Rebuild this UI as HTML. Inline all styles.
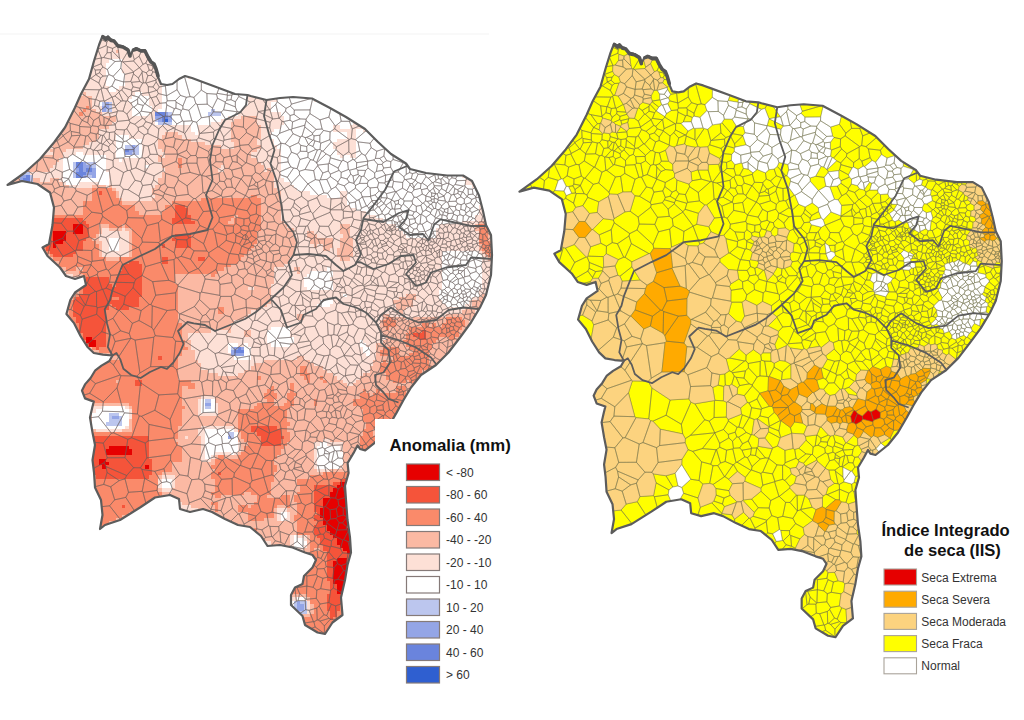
<!DOCTYPE html>
<html lang="pt"><head><meta charset="utf-8"><title>Anomalia e IIS - Nordeste</title><style>
html,body{margin:0;padding:0;background:#fff}
body{width:1024px;height:720px;overflow:hidden;font-family:"Liberation Sans",sans-serif}
svg{display:block}
text{font-family:"Liberation Sans",sans-serif;fill:#222}
.t1{font-size:16.8px;font-weight:bold;fill:#111}
.t2{font-size:16.6px;font-weight:bold;fill:#111}
.lb{font-size:12px;fill:#333}
.sw{stroke:#857a78;stroke-width:1.2}
.sr{stroke:#a9a39a;stroke-width:1.1}
.ol{fill:none;stroke:#5c5c5c;stroke-width:2.2;stroke-linejoin:round}
.tk{fill:none;stroke:#555;stroke-width:3.6;stroke-linejoin:round;stroke-linecap:round}
.sb{fill:none;stroke:#5c5c5c;stroke-width:1.8;stroke-linejoin:round}
.ml{fill:none;stroke:#6a5f5c;stroke-width:.45;stroke-linejoin:round}
.mr{stroke:#70704a;stroke-width:.45;stroke-linejoin:round}
</style></head><body>
<svg width="1024" height="720" viewBox="0 0 1024 720">
<defs><path id="t" d="M103,37 L106,39.5 L108,37.5 L111,40.5 L114,41 L118,46 L123,47 L128,50 L130,56 M133.5,50 L137,49 L141,51 L145,51 L148,57 L151,62 L154,64 L156,69 L158,76"/>
<clipPath id="c"><path d="M7.5,185.0 L25.0,172.5 L40.0,159.0 L54.0,142.5 L65.0,127.5 L75.0,107.5 L81.0,94.0 L89.0,79.0 L94.0,61.0 L99.0,45.0 L102.5,36.0 L106.0,38.0 L108.0,36.5 L110.0,39.0 L113.0,40.0 L117.5,45.0 L122.0,46.0 L127.5,49.0 L130.0,56.0 L133.0,50.0 L136.0,48.0 L140.0,50.0 L145.0,50.0 L147.0,56.0 L150.0,61.0 L153.0,63.0 L156.0,69.0 L158.0,77.0 L161.0,84.0 L167.0,85.0 L172.5,84.0 L179.0,79.0 L185.0,76.0 L192.0,78.0 L200.0,81.0 L217.5,87.5 L235.0,94.0 L247.5,95.0 L250.6,96.0 L266.5,100.0 L280.0,98.0 L293.0,97.0 L312.0,98.5 L330.0,108.0 L346.0,117.0 L365.0,129.0 L378.0,142.0 L391.0,154.0 L406.0,163.5 L410.0,169.0 L426.0,173.0 L447.0,175.5 L463.0,175.5 L472.0,181.0 L479.0,195.5 L483.0,211.0 L486.0,225.0 L491.0,235.0 L492.0,255.0 L491.0,275.0 L486.0,295.0 L480.0,307.5 L471.0,322.5 L460.0,337.5 L448.5,352.5 L436.0,365.0 L421.0,375.0 L411.0,387.5 L403.5,400.0 L396.6,412.6 L387.8,427.7 L377.7,440.3 L365.2,450.4 L360.0,449.0 L357.6,445.3 L353.6,452.9 L347.6,463.0 L348.6,473.0 L345.0,485.6 L346.0,500.0 L347.5,520.0 L350.0,537.5 L351.0,552.5 L347.5,565.0 L345.0,580.0 L341.0,597.5 L342.5,615.0 L332.5,622.5 L325.0,634.0 L317.5,632.5 L305.0,625.0 L302.5,616.0 L291.0,605.0 L291.0,595.0 L295.0,587.5 L302.5,584.0 L304.0,576.0 L312.5,567.5 L316.0,560.0 L312.5,555.0 L305.0,552.5 L292.5,547.5 L280.0,545.0 L267.5,546.0 L261.0,536.0 L250.0,527.0 L238.0,525.0 L225.0,519.0 L212.0,512.0 L203.0,509.0 L190.0,512.0 L180.0,509.0 L179.0,499.0 L170.0,495.0 L155.0,497.5 L140.0,507.5 L120.0,520.0 L105.0,525.0 L100.0,529.0 L102.5,515.0 L101.0,500.0 L95.0,487.5 L94.0,472.5 L92.5,460.0 L95.0,445.0 L92.5,432.5 L90.0,417.5 L92.2,407.8 L93.8,401.6 L85.0,398.4 L82.0,390.6 L85.0,384.4 L90.6,378.0 L95.3,370.3 L101.5,365.6 L109.4,361.0 L112.5,355.5 L103.0,354.7 L93.8,353.0 L87.5,347.0 L80.5,336.0 L74.2,323.4 L66.4,314.0 L70.3,300.0 L75.0,292.5 L86.0,285.0 L84.0,276.0 L75.0,279.0 L66.0,276.0 L60.0,267.5 L47.5,256.0 L42.5,247.5 L49.0,244.0 L52.5,225.0 L54.0,207.5 L50.0,192.5 L37.5,184.0 L22.0,181.0Z"/></clipPath>
<path id="o" d="M7.5,185.0 L25.0,172.5 L40.0,159.0 L54.0,142.5 L65.0,127.5 L75.0,107.5 L81.0,94.0 L89.0,79.0 L94.0,61.0 L99.0,45.0 L102.5,36.0 L106.0,38.0 L108.0,36.5 L110.0,39.0 L113.0,40.0 L117.5,45.0 L122.0,46.0 L127.5,49.0 L130.0,56.0 L133.0,50.0 L136.0,48.0 L140.0,50.0 L145.0,50.0 L147.0,56.0 L150.0,61.0 L153.0,63.0 L156.0,69.0 L158.0,77.0 L161.0,84.0 L167.0,85.0 L172.5,84.0 L179.0,79.0 L185.0,76.0 L192.0,78.0 L200.0,81.0 L217.5,87.5 L235.0,94.0 L247.5,95.0 L250.6,96.0 L266.5,100.0 L280.0,98.0 L293.0,97.0 L312.0,98.5 L330.0,108.0 L346.0,117.0 L365.0,129.0 L378.0,142.0 L391.0,154.0 L406.0,163.5 L410.0,169.0 L426.0,173.0 L447.0,175.5 L463.0,175.5 L472.0,181.0 L479.0,195.5 L483.0,211.0 L486.0,225.0 L491.0,235.0 L492.0,255.0 L491.0,275.0 L486.0,295.0 L480.0,307.5 L471.0,322.5 L460.0,337.5 L448.5,352.5 L436.0,365.0 L421.0,375.0 L411.0,387.5 L403.5,400.0 L396.6,412.6 L387.8,427.7 L377.7,440.3 L365.2,450.4 L360.0,449.0 L357.6,445.3 L353.6,452.9 L347.6,463.0 L348.6,473.0 L345.0,485.6 L346.0,500.0 L347.5,520.0 L350.0,537.5 L351.0,552.5 L347.5,565.0 L345.0,580.0 L341.0,597.5 L342.5,615.0 L332.5,622.5 L325.0,634.0 L317.5,632.5 L305.0,625.0 L302.5,616.0 L291.0,605.0 L291.0,595.0 L295.0,587.5 L302.5,584.0 L304.0,576.0 L312.5,567.5 L316.0,560.0 L312.5,555.0 L305.0,552.5 L292.5,547.5 L280.0,545.0 L267.5,546.0 L261.0,536.0 L250.0,527.0 L238.0,525.0 L225.0,519.0 L212.0,512.0 L203.0,509.0 L190.0,512.0 L180.0,509.0 L179.0,499.0 L170.0,495.0 L155.0,497.5 L140.0,507.5 L120.0,520.0 L105.0,525.0 L100.0,529.0 L102.5,515.0 L101.0,500.0 L95.0,487.5 L94.0,472.5 L92.5,460.0 L95.0,445.0 L92.5,432.5 L90.0,417.5 L92.2,407.8 L93.8,401.6 L85.0,398.4 L82.0,390.6 L85.0,384.4 L90.6,378.0 L95.3,370.3 L101.5,365.6 L109.4,361.0 L112.5,355.5 L103.0,354.7 L93.8,353.0 L87.5,347.0 L80.5,336.0 L74.2,323.4 L66.4,314.0 L70.3,300.0 L75.0,292.5 L86.0,285.0 L84.0,276.0 L75.0,279.0 L66.0,276.0 L60.0,267.5 L47.5,256.0 L42.5,247.5 L49.0,244.0 L52.5,225.0 L54.0,207.5 L50.0,192.5 L37.5,184.0 L22.0,181.0Z"/>
<path id="b" d="M247.5,95.0 L246.0,105.0 L240.0,112.5 L225.0,120.0 L219.0,130.0 L212.5,145.0 L210.0,160.0 L212.5,180.0 L206.0,195.0 L212.5,217.5 L207.5,230.0 L190.0,234.0 L172.5,236.0 L155.0,249.0 L140.0,256.0 L122.5,265.0 L117.5,277.5 L112.5,290.0 L110.0,300.0 L104.7,309.4 L107.0,323.4 L110.0,334.4 L107.8,347.0 L112.5,355.5 M112.5,355.5 L116.4,353.0 L120.3,359.4 L123.4,368.8 L131.2,375.0 L140.6,378.0 L150.0,372.0 L161.0,367.0 L167.0,368.8 L173.4,362.5 L179.7,353.0 L183.6,343.8 L178.0,331.0 L187.5,322.0 L193.8,323.4 L205.0,325.0 L215.0,331.0 L230.0,325.0 L245.0,319.0 L256.0,312.0 L271.0,299.0 L283.5,287.5 L292.0,275.0 L288.5,262.5 L293.5,255.0 M266.5,100.0 L264.0,116.0 L269.0,134.0 L274.5,150.0 L270.5,163.6 L277.0,182.0 L281.0,203.0 L283.5,220.0 L293.5,232.5 L297.0,242.5 L293.5,255.0 M293.5,255.0 L308.5,254.0 L326.0,256.0 L336.0,265.0 L343.5,271.0 L355.0,265.0 L361.0,254.0 L356.0,240.0 L361.0,230.0 L363.5,218.0 L373.0,206.0 L385.0,190.0 L394.0,171.5 L407.0,166.0 M363.5,219.0 L383.4,222.0 L399.0,213.0 L408.6,210.0 L406.0,219.0 L399.0,227.0 L410.0,235.0 L423.0,234.0 L428.6,240.6 L434.0,224.7 L440.5,219.4 L452.5,222.0 L471.0,226.0 L486.0,226.0 M357.0,262.0 L361.0,262.5 L373.5,269.0 L388.5,264.0 L401.0,256.0 L413.5,255.0 L416.0,262.5 L406.0,274.0 L416.0,286.0 L426.0,282.5 L431.0,272.5 L446.0,267.5 L466.0,265.0 L471.0,257.5 L492.0,259.0 M271.0,299.0 L281.0,310.0 L287.0,327.5 L301.0,322.5 L303.5,315.0 L316.0,309.0 L323.5,300.0 L336.0,297.5 L343.5,304.0 L356.0,307.5 L366.0,312.5 L376.0,322.5 L381.0,315.0 L391.0,307.5 L406.0,317.5 L418.5,322.5 L436.0,320.0 L448.5,310.0 L463.5,307.5 L478.5,309.0 M376.0,322.5 L381.0,332.5 L381.0,342.5 L388.5,350.0 L390.0,362.5 L383.5,372.5 L375.0,375.0 L376.0,385.0 L383.5,392.5 L388.5,399.0 L398.5,402.5 M381.0,335.0 L398.5,340.0 L416.0,347.5 L431.0,357.5 L436.0,364.0"/>
<path id="k0" d="M106.8,42.2l-102.6-50l-64.2-52.2l0,0l746.2,0l-357,0l-136.4,0l-42.7,52.9zM106.3,45.6l-8.6,3.7l-93.5-57.1l102.6,50zM112.6,48.4l-5.2-1.7l-1.1-1.1l.5-3.4l43.3-49.3l-2,4.3l-30.4,48.6zM107.1,52.8l.3-6.1l-1.1-1.1l-8.6,3.7l3.7,8.6l2.3-.4zM119.5,58.4l1,2.8l1,.4l.3,0l8.9-14.8l17.4-49.6l-30.4,48.6zM97.7,49.3l3.7,8.6l0,.1l-28,4.9l-80-3.4l-53.4-66.7l0-21.8l0-31l0,0l64.2,52.2zM122.9,61.9l-1.1-.3l8.9-14.8l3.6,12.8l-.7,1.4zM145.7,63.2l-2.7,1.1l-3.9-8.1l53.7-116.2l136.4,0l-1.5,0l-140.3,35.1zM93,67l-19.6-4.1l28-4.9l-.3,5.8zM147.4,64.4l4.6,1l35.4-90.3l-41.7,88.1zM152,65.4l.1,.1l32.7-8.3l17.1-26.6l60-90.6l13.5,0l22.5,0l29.8,0l-140.3,35.1zM177.6,67.9l-4.6,1.5l-20-1.5l-.9-2.4l32.7-8.3l-3.9,6.6zM147.4,64.4l1.8,5.8l2.6,.1l1.2-2.4l-.9-2.4l-.1-.1zM95.2,70.1l-2.2-3.1l8.1-3.2l1.8,3.2l-2.3,2.7zM151.8,70.3l1.2-2.4l20,1.5l-8.8,4l-11.4-1.5zM95.8,74.6l-.6-4.5l-2.2-3.1l-19.6-4.1l-80-3.4l11.1,6.6l23,10.6l.1,.1l23.2,4.1l40-2.5l5-3.8zM95.8,74.6l-.6-4.5l5.4-.4l-1.1,3.1zM103.2,76.1l4.3-.3l1.5-1.2l-1.6-5.1l-4.5-2.5l-2.3,2.7l-1.1,3.1zM152.8,71.9l11.4,1.5l-8.2,6.2l-4.7-4.3zM95.8,74.6l3.7-1.8l3.7,3.3l-2.6,1.8l-4.8-3.3zM95.8,74.6l-5,3.8l8,4.6l1.8-5.1zM103.2,76.1l4.3-.3l-4.2,12.1l-1.5,.3l-3-5.2l1.8-5.1zM156.2,82l3.1,5l6.1-1.1l11.5-15.7l.7-2.3l-4.6,1.5l-8.8,4l-8.2,6.2l-.2,.5zM101.8,88.2l-.7,.7l-1.8,.9l-23.6-.4l-24.9-8.5l40-2.5l8,4.6zM180.9,63.8l3.9-6.6l17.1-26.6l-.6,59.5l-7.4,7.3l-3.8-.8zM139.8,90.3l1.1,3.5l7.6-1.3l-.2-5.8l-2.2-3.6l-.5-.3l-2.2,.1l-.8,.2l-2.8,5.2zM157.1,90.5l1.2,3l8.1,2.1l-1-9.7l-6.1,1.1zM177.1,89.7l-.2-19.5l-11.5,15.7l1,9.7l.2,.2zM180.4,95.4l-3.3-5.7l-.2-19.5l.7-2.3l3.3-4.1l9.2,32.8l-3.7,.7zM227.7,90.2l-3.1-17.8l37.3-132.4l13.5,0l-37.8,152.9l-5.1,1.7zM271.3,63.6l-12.5,30.1l-4.7,7.4l-3.6,1.1l-11.7-5.7l-1.2-3.6l37.8-152.9l22.5,0l-24.7,113zM227.2,95l-10.1-1.7l7.5-20.9l3.1,17.8zM95.3,99.5l-6.3-1l-13.3-9.1l23.6,.4l-3.5,9.6zM175.4,100.6l-8.2,.2l-.6-5l10.5-6.1l3.3,5.7zM104,100.8l-2.9-11.9l.7-.7l1.5-.3l3.4,.8l5.1,8.4l-7.2,4zM140.7,94.4l6.7,5.5l3.1-2.3l-1.7-4.8l-.3-.3l-7.6,1.3zM104,100.8l-2.9-11.9l-1.8,.9l-3.5,9.6l4.1,1.8zM159.9,103.3l6.3-.6l1-1.9l-.6-5l-.2-.2l-8.1-2.1l-1.9,2.9zM138.7,97.1l6.2,6.7l.2,0l2.3-3.9l-6.7-5.5zM273.2,53l24.7-113l29.8,0l1.5,0l357,0l73.8,0l-422.7,110.7l-24.5,47.3l-21.3,6.1zM138.5,97.1l-.9,2l-6.8,4.1l-3.5-2.6l.9-3.1l3.2-2.4zM137.6,99.1l.1,4.9l-3.7,3.1l-.9-.2l-2.3-3.7zM138.5,97.1l-.9,2l.1,4.9l5.5,1.4l1.7-1.6l-6.2-6.7zM104.6,101.1l7.2-4l.3,.1l2.4,7.7l-9.1-.6zM182.9,106l3.5-8.7l-6-1.9l-5,5.2l.7,1.5zM95.3,99.5l-6.3-1l1.4,10.6l4-3.6zM182.9,106l-6.8-3.9l-.2,6.1l5.4,2.1l1.6-1.3zM90.4,109.1l-.1,.4l-11-2l-11.8-4.8l-39.9-25.9l23.2,4.1l24.9,8.5l13.3,9.1zM99.9,101.2l-4.1-1.8l-.5,.1l-.9,6l4.3,1.2zM104,100.8l-4.1,.4l-1.2,5.5l1.9,3.5l4.6-3.6l.2-2.3l-.8-3.2zM105.4,104.3l9.1,.6l.9,1.4l.1,.8l-7,2.1l-3.3-2.6zM100.6,110.2l-1,3.3l-8.5-2.6l-.8-1.4l.1-.4l4-3.6l4.3,1.2zM127.3,100.6l-1.1,.6l-3.2,10l3.9,2.8l6.2-7.1l-2.3-3.7zM139.6,112.4l-5.6-5.3l3.7-3.1l5.5,1.4l-2,5.8zM176.1,102.1l-.7-1.5l-8.2,.2l-1,1.9l.6,2.2l7.6,3.8l1.5-.5zM182.9,106l3.5-8.7l3.7-.7l3.8,.8l1.9,6l-6.9,6.9l-6-1.3zM150.9,112.6l-9.7-1.4l2-5.8l1.7-1.6l.2,0l8.4,5.6l0,.6l-2.2,2.5zM165.2,116.1l-.8,.6l-.7-.2l-10.2-6.5l0-.6l1.6-3l4.8-3.1l6.3-.6l.6,2.2zM269.6,109.6l-11.3,2l-.1,0l-4.1-10.5l4.7-7.4zM310.1,109.9l2.7-11.9l-21.3,6.1l-1.2,2l4,3.9zM172.1,114.9l2.3-6.2l-7.6-3.8l-1.6,11.2l4.7,.2zM100.6,110.2l-1,3.3l.6,1.3l1.7,.5l6.2-2.8l.4-3.3l-3.3-2.6zM117.3,111.6l-7.9,1.8l-1.3-.9l.4-3.3l7-2.1l2.3,3.7zM129.1,119.9l-2.2-5.9l6.2-7.1l.9,.2l5.6,5.3l0,.1zM181.3,110.3l-1.1,4.4l-8.1,.2l2.3-6.2l1.5-.5zM341.2,121.3l-5.9-31.7l2-38.9l422.7-110.7l0,0l-132.4,0l-278.2,181.3zM89.2,116l1.9-5.1l-.8-1.4l-11-2l6.6,9.2l2.8-.5zM117.3,111.6l-7.9,1.8l.9,3.9l5.9-1.9zM150.9,112.6l-9.7-1.4l-1.6,1.2l0,.1l2.8,5.8l2.1,.9zM109,119.3l1.3-2l-.9-3.9l-1.3-.9l-6.2,2.8l2.1,1.9zM272.6,119l-2.4,3.3l-13.9-3.7l1.9-7l.1,0l14.2,7.1zM85.9,116.7l-6.6-9.2l-11.8-4.8l14.5,17.6l0,0zM335.4,126.1l-6.5-9l6.4-27.5l5.9,31.7zM129.1,119.9l-2.2-5.9l-3.9-2.8l-5.2-.4l-.5,.8l-1.1,3.8l1.3,6l11.6-1.2zM129.1,119.9l10.5-7.4l2.8,5.8l-7.7,6l-4.6-1.8l-1-2.3zM152,123.6l-6.2-1.9l-1.3-2.5l6.4-6.6l.4-.1l1.5,9.1zM152.8,121.6l10.9-5.1l-10.2-6.5l-2.2,2.5zM87.7,122.8l-5.7-2.5l3.9-3.6l2.8-.5zM220.4,126.4l5.1-7.3l-4.4-7.1l-7.8-.2l-2.4,3.8l9.4,10.9zM70.1,123.3l-42.6-46.6l.1,.1l39.9,25.9l14.5,17.6l-2.7,5.4zM152,123.6l.1,.3l6.7,5l3.8-3.3l1.7-2.7l.1-6.2l-.7-.2l-10.9,5.1zM323.5,130.4l-1.4-1.4l-2.1-9.1l8.9-2.8l6.5,9l-.7,2.7l-4.6,3.1zM145.8,121.7l-2.8,4.2l-4.9,1.6l-3.4-3.2l7.7-6l2.1,.9zM169.9,116.3l7,7.6l-2.1,4.1l-.8-.1l-9.7-5l.1-6.2l.8-.6zM87.7,122.8l-5.7-2.5l0,0l-2.7,5.4l.4,.8l11,.7l.4-.6zM382.6,116.4l-30.3,12.5l-2.9-7.6l278.2-181.3l-160.3,87.9l-49.6,62.1l-15.1,13.2zM109.2,119.7l6.2,4.5l-.1,.6l-10,.9zM129.1,120.2l-11.6,1.2l-2.1,2.8l-.1,.6l.8,4.7l8.4,.4l2.3-1.1l3.3-6.3zM232,128.5l2.1-2.8l-1.6-6.3l-7-.3l-5.1,7.3zM116.1,129.5l-.8-4.7l-10,.9l-.2,.2l1.4,5.9l3,.7l5.1-.7zM152,123.6l.1,.3l-4.2,6.1l-4.9-4.1l2.8-4.2zM201.4,117.8l7.8-1.3l.7,9.3l-9.5,7.6l-.7,.2l-3.1-11.4zM219.4,128.7l-4.6,1.8l-4.9-4.7l-.7-9.3l1.7-.9l9.4,10.9zM351.3,138.6l-2.1,.9l-14.5-10.7l.7-2.7l5.8-4.8l8.2,0l2.9,7.6zM213.5,132.1l-13.1,1.3l9.5-7.6l4.9,4.7zM382.6,116.4l-30.3,12.5l-1,9.7l4.3,1.1zM79.7,126.5l11,.7l-.4,5.5l-2.3,2.9l-2.2,.4l-5.2-1.1l-.9-1.9zM175.1,129l-.3-1l2.1-4.1l5.6-3l1.3,.4l0,11.4zM100.7,124.9l3.3,.5l1.1,.5l1.4,5.9l-.2,.1l-7.5-2.3l-.8-3zM143,125.9l-4.9,1.6l.4,3.3l5.8,4.1l3.5-1.4l.1-3.5zM147.9,130l-.1,3.5l10.1,4.6l.9-9.2l-6.7-5zM167.5,130.9l6.5-3l-9.7-5l-1.7,2.7zM191.9,120.8l-8.1,.5l0,11.4l.9,1l8.4-12.3zM188.9,140.4l-2-.8l-2.2-5.9l8.4-12.3l3.5,.8l3.1,11.4l-1.2,4.2l-1.9,2.1zM71.2,131.4l8.5,1.6l0-6.5l-.4-.8l-9.2-2.4l.3,7.3zM98,126.6l.8,3l-1.1,4l-1.5,.4l-5.9-1.3l.4-5.5l.4-.6l1.2-.9zM100.9,135.2l-3.2-1.6l1.1-4l7.5,2.3l-2.8,3.2l-.7,.3zM157.9,138.1l.9-9.2l3.8-3.3l4.9,5.3l-2.1,7.8l-2.6,1.5l-4.6-1.5zM70.4,130.6l-.3-7.3l-42.6-46.6l-23-10.6l5.9,7.5l52.7,61.9zM165.4,138.7l8-1.7l1.7-8l-.3-1l-.8-.1l-6.5,3zM232,128.5l-11.6-2.1l-.1,.1l-.9,2.2l4.2,8.2l8.4-8.3zM130.1,122.5l-3.3,6.3l5.4,8.1l.9,.1l5.4-6.2l-.4-3.3l-3.4-3.2zM71.6,135.8l-.4-4.4l-.8-.8l-7.3,4.9l.1,.3l4.7,6.2l.6,.2zM186.9,139.6l-2.2-5.9l-.9-1l-8.7-3.7l-1.7,8l2,1.7l8.8,1.7zM232,128.6l3.2,9.3l-11.2,2.3l-.4-3.3zM71.6,135.8l-.4-4.4l8.5,1.6l.9,1.9l-.4,.4zM71.6,135.8l8.6-.5l-6.3,11.4l-5.4-4.5zM115,133.1l-.4-1.3l1.5-2.3l8.4,.4l-1.5,9.5zM123.7,141.5l2.6-.4l5.9-4.2l-5.4-8.1l-2.3,1.1l-1.5,9.5zM144.3,134.9l-2.9,8.8l-2.1,.1l-6.2-6.8l5.4-6.2zM213.8,138.4l-3.8,3.1l-11.5-3.7l1.2-4.2l.7-.2l13.1-1.3zM223.6,136.9l.4,3.3l-.5,1l-9.7-2.8l-.3-6.3l1.3-1.6l4.6-1.8zM382.6,116.4l-27,23.3l2.4,2.2l12.1,1.4l32.5-40.1zM96.4,140.9l-.2-6.9l-5.9-1.3l-2.3,2.9l4.2,5.9zM96.9,141l-.5-.1l-.2-6.9l1.5-.4l3.2,1.6zM63.2,135.8l-6.1,5.3l-1.8-.6l-44.9-66.9l52.7,61.9zM100,143.2l-3.1-2.2l4-5.8l1.9,.2l-1.6,7.9zM109.2,139l.3-6.5l-3-.7l-.2,.1l-2.8,3.2l3.1,5zM115,133.1l-.4-1.3l-5.1,.7l-.3,6.5l3.9,2.4l1.2-1.1zM115,133.1l8,6.3l.7,2.1l-.6,.8l-8.8-2zM144.3,134.9l-2.9,8.8l2.6,1.7l4.1,.6l6.2-2.7l3.9-4.6l-.3-.6l-10.1-4.6zM319.8,142.1l.1-6.9l3.6-4.8l6.6,1.5l-.3,7.8l-9.1,3.5zM329.8,139.7l1.4,2.3l5.3,4.8l12.2-6.7l.5-.6l-14.5-10.7l-4.6,3.1zM101.2,143.3l1.1,.7l.6,0l3.6-3.8l.1-.1l-3.1-5l-.7,.3zM50.3,146.1l5-5.6l-44.9-66.9l-5.9-7.5l-11.1-6.6l-53.4-66.7l89.9,150.6zM67.9,142l-8.4,4.5l-2.4-5.4l6.1-5.3zM80.2,135.3l.4-.4l5.2,1.1l-1.9,10.9l-9.9,.3l-.1-.5zM112.6,143l-2.3,1.6l-3.8-4.4l.1-.1l2.6-1.1l3.9,2.4zM92.2,141.5l-4.2-5.9l-2.2,.4l-1.9,10.9l4,2l2.4-.4zM110.3,144.6l-1.7,2.1l-5.7-2.7l3.6-3.8zM139.3,143.8l-5.1,4.6l-7.9-7.3l5.9-4.2l.9,.1zM220.8,147.5l-8.7-.8l-2.1-5.2l3.8-3.1l9.7,2.8l-.2,3.4zM59.5,146.5l-.4,.6l-4.9,1.3l-3.9-2.3l5-5.6l1.8,.6zM114.3,140.3l-1.2,1.1l-.5,1.6l5.4,6l3.8-1.6l1.3-5.1zM100,143.2l-6.1,6.9l-.8,.1l-2.8-1.7l1.9-7l4.2-.6l.5,.1zM320.7,143.2l-.7,6.2l1.6,1.3l1.4,.6l8.2-9.3l-1.4-2.3zM112.6,143l5.4,6l-4,4.7l-4.9-3.8l-.5-3.2l1.7-2.1zM123.7,141.5l2.6-.4l7.9,7.3l-.5,1.1l-9.5,.3l-2.4-2.4l1.3-5.1zM330.2,156.1l-4.1-2.2l-3.1-2.6l8.2-9.3l5.3,4.8l-.6,2.9zM376.8,151.2l7.9-2.5l8.3-8.4l24.7-50.3l-15.1,13.2l-32.5,40.1l1.1,4.4zM67.3,157.9l5.3-3.8l1.4-6.9l-.1-.5l-5.4-4.5l-.6-.2l-8.4,4.5l-.4,.6l5.3,10.5zM100,143.2l-6.1,6.9l3.4,.6l4.3-1.1l.7-5.6l-1.1-.7zM208.6,151.6l3.5-4.9l-2.1-5.2l-11.5-3.7l-1.9,2.1l1.7,6.4zM108.6,146.7l.5,3.2l-5.1,2.1l-2.4-2.4l.7-5.6l.6,0zM371.2,147.7l-1.1-4.4l-12.1-1.4l1.8,8.9l2,2.9l3.5,1.8zM42.4,157.1l-3.9-1.7l-8.6-12l20.4,2.7l3.9,2.3l-1.1,9.7zM64.4,157.6l-5.3-10.5l-4.9,1.3l-1.1,9.7l3.8,2.2zM141.4,143.7l2.6,1.7l-2.1,12.3l-2.7,.9l-5-4.6l-.5-4.5l.5-1.1l5.1-4.6zM148.1,146l2,8.3l7.3,.1l-3.1-11.1zM220.4,153.4l.4-5.9l-8.7-.8l-3.5,4.9l.6,3.2l6.3,.8zM82.3,160.3l-9.7-6.2l1.4-6.9l9.9-.3l4,2l-4.8,11.5zM101.6,149.6l-4.3,1.1l4.5,7.6l1.1-.5l1.1-5.8zM144.5,158.2l-2.6-.5l2.1-12.3l4.1,.6l2,8.3l-2.1,2.7zM348.9,151.7l-.2-11.6l-12.2,6.7l-.6,2.9l7.3,6zM83.1,160.4l4.8-11.5l2.4-.4l2.8,1.7l1.2,13.4l-3.9,1.8zM93.1,150.2l1.2,13.4l.9,0l6.6-5.3l-4.5-7.6l-3.4-.6zM104,152l-1.1,5.8l10.1,2.7l1.2-2.1l-.2-4.7l-4.9-3.8zM124.2,149.8l.8,6.6l-1.4,1.5l-9.4,.5l-.2-4.7l4-4.7l3.8-1.6zM124.2,149.8l.8,6.6l4.4,.2l4.8-2.6l-.5-4.5zM348.9,151.7l-.2-11.6l.5-.6l2.1-.9l4.3,1.1l2.4,2.2l1.8,8.9l-8.4,3.5zM361.8,153.7l-2-2.9l-8.4,3.5l1.5,5.1l1.4,.5zM393.1,159.5l10.2,3.2l1.4-.7l16.4-18.3l20.4-32.5l20.2-64.1l5.6-19.2l-49.6,62.1l-24.7,50.3zM348.9,151.7l-5.7,4l-.1,4.6l4.5,2.3l5.3-3.2l-1.5-5.1zM154.3,162.8l7.4,.8l-.2-6.1l-4.1-3.1l-7.3-.1l-2.1,2.7zM330.4,157.8l-.2-1.7l5.7-6.4l7.3,6l-.1,4.6l-1.4,.8zM131.7,169.3l-2.3-12.7l4.8-2.6l5,4.6l-3.4,9.2zM330.4,157.8l-.2-1.7l-4.1-2.2l-9.4,9l1.2,2.2l10.4-1.2l.7-.7zM130.1,170.3l-2.6,.3l-3.9-12.7l1.4-1.5l4.4,.2l2.3,12.7zM215.5,155.6l-6.3-.8l-1.5,2.7l1.7,7.6l2.9-.2l3.6-3.2zM220.4,153.4l3.5,4.3l-.9,4.2l-7.1-.2l-.4-6.1zM207.7,157.5l1.7,7.6l-7.7,10.2l-1.3-.4l-3.4-11.7l.3-5.4zM223.9,157.7l6.3-1.6l1,.6l1.3,4.8l-3.7,7l-4-.1l-1.8-6.5zM123.6,157.9l-9.4,.5l-1.2,2.1l.3,6.2l10.3,5.8l3.9-1.9zM277.2,157.6l-9.1-2l-1.6,4l8.6,9.4l1.2,0l1.7-5.8zM145.5,160.4l4.2,4.4l4.6-2l-6.3-5.8l-3.5,1.2zM103.9,170.2l-8.7-6.6l6.6-5.3l1.1-.5l10.1,2.7l.3,6.2l-4.2,2.9zM199.4,175l1-.1l-3.4-11.7l-10.1,0l3.2,9.2zM223,161.9l1.8,6.5l-1.9,1.9l-1.1,.4l-9.5-5.8l3.6-3.2zM232.5,161.5l4.7,.8l4.9,3.8l-.7,1.5l-9.7,2.5l-2.9-1.6zM330.4,157.8l11.3,3.3l-3.6,7l-9.1-4.9zM144.9,172l.6-11.6l-1-2.2l-2.6-.5l-2.7,.9l-3.4,9.2zM145.2,172.2l4.5-7.4l-4.2-4.4l-.6,11.6zM36.4,170.7l-3.8,3.2l-29.3-19l-63.3-183.9l0,21.8l89.9,150.6l8.6,12zM50.9,172.4l-1.4,0l-7.1-15.3l10.7,1l3.8,2.2l-1.5,8.8zM69.7,169.4l-2.4-11.5l5.3-3.8l9.7,6.2l-8.9,11.2l-1.1-.2zM317.6,165.8l-3.9,4.9l-8.7-1.2l5.5-9.9l2.7,.6l3.3,2.4l.2,.3l1.2,2.2zM145.4,172.4l8.6,3.4l9.2-5.2l.2-3.8l-1.7-3.2l-7.4-.8l-4.6,2l-4.5,7.4zM190.1,172.4l-3.2-9.2l-.2-.2l-6.9,2.2l.9,8.9zM263.3,162.2l3.2-2.6l8.6,9.4l-4.3,2l-5.2-1.9zM49.5,172.4l-7.1-15.3l-3.9-1.7l-2.1,15.3l10.1,3zM55.4,169.1l1.5-8.8l7.5-2.7l2.9,.3l2.4,11.5l-7.4,2.8zM82.3,160.3l-8.9,11.2l8.3,6.1l5.4-1.3l3.3-10.9l-7.3-5zM263.3,162.2l2.3,6.9l-5.9,5.1l-4.2-1.8l-.9-6.3l3.5-3.1zM409.8,169.5l-3.6-4.4l-1.5-3.1l16.4-18.3l-5.6,24.4zM416.2,172.5l-.7-4.4l5.6-24.4l20.4-32.5l-2.6,24.8l-13.9,38.5l-6.9-.3zM212.3,164.9l9.5,5.8l-2.7,2.8l-13.2,2.9l-4.1-.9l-.1-.2l7.7-10.2zM329,163.2l-.7,.7l0,7.1l2.1,3.1l8.6-3.7l-.9-2.3zM406.3,174.3l-.1-9.2l-1.5-3.1l-1.4,.7l-5.2,9.3l5.7,4.7zM409.6,172.6l-3.3,1.7l-.1-9.2l3.6,4.4zM416.2,172.5l-.7-4.4l-5.7,1.4l-.2,3.1l2.9,1zM243.6,175.6l-2.2-8l.7-1.5l3.7-3.1l.6-.3l8.2,3.4l.9,6.3l-3.6,3.5zM266.3,180.5l4.5-9.5l-5.2-1.9l-5.9,5.1l4,4.9zM90.4,165.4l3.9-1.8l.9,0l8.7,6.6l-6.5,15.4l-10.3-9.3zM448.3,173.2l-7.7-13.4l-1.7-23.8l2.6-24.8l20.2-64.1l-8,124.1l-.7,2.3l-1.2,1.6zM241.2,179l-.2,0l-7.7-2.6l-1.6-6.3l9.7-2.5l2.2,8zM453,173.5l.7-2.3l4,4.4l-.7,.6zM457.7,175.6l15.8-7.9l286.5-227.7l0,0l0,0l-132.4,0l-160.3,87.9l-5.6,19.2l-8,124.1zM30.3,194.2l2.3-20.3l-29.3-19l26.4,40.4zM308,183.8l7.4-4.2l-1.7-8.9l-8.7-1.2l-5.7,1.8l.3,3.3l8.2,9.3zM341.2,172.3l-.2,5l-3.1,4.6l-7.5-5.3l0-2.5l8.6-3.7zM440.5,160.9l-2.9,9.6l-2.8,4.3l-6.4,3.4l-2.5-1.4l-.9-2.3l13.9-38.5l1.7,23.8zM448.3,173.2l-.8,4.8l1.7,2l2.7-2.2l-.1-2.7zM98.2,187.5l7.9,.3l5.3-2.3l-2.3-15.9l-5.2,.6l-6.5,15.4zM119.9,185.3l3.7-12.8l-10.3-5.8l-4.2,2.9l2.3,15.9zM266.3,180.6l5.9,1.3l5.9-1l1.8-6.3l-.4-2.6l-3.2-3l-1.2,0l-4.3,2l-4.5,9.5zM448.3,173.2l-7.7-13.4l-.1,1.1l3,15.5l4,1.6zM451.8,175.1l1.2-1.6l4,2.7l-1.3,2.3l-3.8-.7zM46.5,173.7l-10.1-3l-3.8,3.2l-2.3,20.3l12.8-10.3zM61.2,179.1l.9-1.7l.2-5.2l-6.9-3.1l-4.5,3.3l3.5,7.3l2.4,.2zM224.8,168.4l-1.9,1.9l3.6,8.4l4.4,.4l2.4-2.7l-1.6-6.3l-2.9-1.6zM416.2,172.5l-3.7,1.1l-1.2,4.9l4,1.8l2.8-6.1zM434.8,174.8l-6.4,3.4l3.9,4.3l.7,.2l1.7-1l1.2-1.5zM437.6,170.5l.9,8.2l-2.6,1.5l-1.1-5.4zM440.5,160.9l-2.9,9.6l.9,8.2l2.4,.5l1.2-.8l1.4-2zM62.3,172.2l7.4-2.8l2.6,1.9l-3.6,7.4l-6.6-1.3zM145.4,172.4l-4.5,9.3l-5.8-1.4l-5-10l1.6-1l4.1-1.5l9.1,4.2l.3,.2zM205.9,176.4l10.5,7.6l.5,0l2.8-2.8l-.6-7.7zM361.5,176.5l-2,6.9l-4,2.1l-1.5-2.1l.1-.8l5.1-7zM61.2,179.1l.9-1.7l6.6,1.3l0,.3l-5.5,3.9zM68.7,179l3.8,8.1l2.8,1.2l6.4-10.7l-8.3-6.1l-1.1-.2l-3.6,7.4zM199.4,175l-12.3,10.8l-8.7-5.8l-.6-2.6l2.9-3.3l9.4-1.7zM221.8,170.7l1.1-.4l3.6,8.4l-2.2,2.9l-4.6-.4l-.6-7.7zM418.1,174.2l6.9,.3l.9,2.3l-3.7,6.1l-1.2,.8l-3.3-1.3l-2.4-2.1l0,0zM447.5,178l-4-1.6l-1.4,2l4.7,5l1.8-.1l.6-3.3zM63.8,186.4l.7,.5l8,.2l-3.8-8.1l-5.5,3.9zM235.1,188.8l5.9-9.8l-7.7-2.6l-2.4,2.7l1.4,8.2zM442.1,178.4l-1.2,.8l.4,4.4l.8,1.4l4.7-1.6zM130.1,170.3l-2.6,.3l-3.9,1.9l-3.7,12.8l3.5,3.9l4.7,.5l7-9.4zM151.4,184.3l-8.8,1.2l-1.7-3.8l4.5-9.3l8.6,3.4l-.5,4.1zM232.3,187.3l-1.4-8.2l-4.4-.4l-2.2,2.9l2.5,5.7zM249,186.4l-.6,.8l-7.2-8.2l2.4-3.4l8.3,.3l.2,1.6zM252.1,177.5l-.2-1.6l3.6-3.5l4.2,1.8l4,4.9l-6.3,3.4l-1.6-.4zM326.8,179.4l3.6-2.8l7.5,5.3l0,1.7l-2.2,3.2l-4.4,2.4zM349.2,182.2l-5,3.6l-6.3-2.2l0-1.7l3.1-4.6l6.1,1.7zM440.9,179.2l-2.4-.5l-2.6,1.5l-1.2,1.5l6.6,1.9zM26.1,213.1l-4.5,6.4l-81.6,328l0,212.5l0-820l0,0l0,31l63.3,183.9l26.4,40.4l-2.3,14.5zM319.3,180.3l4.6,12.5l3.7,.5l3.7-4.1l-4.5-9.8l-6.5,.4zM61.2,179.1l2,3.8l.6,3.5l-3.9,.3l-3.1-6.8zM140.9,181.7l1.7,3.8l-3.7,10.7l-10.8-6.5l7-9.4zM249,186.4l3.1-8.9l3.7,4.6l-1.9,2.7zM153.5,179.9l.5-4.1l9.2-5.2l2.5,2.7l-.7,10.3l-4.1,1.9zM178.4,180l-4.2,8l-6.5-.8l-2.7-3.6l.7-10.3l12.1,4.1zM226.8,187.3l-2.5-5.7l-4.6-.4l-2.8,2.8l5.8,6.4zM248.4,187.2l-.2,2.4l-2.7,5.9l-.1,.1l-9.3-4.7l-1-2.1l5.9-9.8l.2,0zM253.9,184.8l4.1,2.6l-.6-4.9l-1.6-.4zM266.3,180.6l-1.2,4l-6.5,3.9l-.6-1.1l-.6-4.9l6.3-3.4l2.6,1.4zM441.3,183.6l-6.6-1.9l-1.7,1l1.2,3l7.5,.2l.4-.9zM151.4,184.3l2.6,6.6l4.8-1.3l2.1-4.1l-7.4-5.6zM201.8,175.5l1.2,17l.8,.2l8.2-2.1l4.4-6.6l-10.5-7.6zM249,186.4l-.6,.8l-.2,2.4l10.2-.8l.2-.3l-.6-1.1l-4.1-2.6zM354,183.4l1.5,2.1l-.1,2.7l-6.5,4.7l-.7,.2l-4-7.3l5-3.6zM432.3,182.5l-3.9-4.3l-2.5-1.4l-3.7,6.1l5.3,3.6zM201.7,175.3l-1.3-.4l-1,.1l-12.3,10.8l1.2,8.6l5.4,4.1l1.8,0l7.5-6l-1.2-17zM355.5,185.5l-.1,2.7l5.5,4.6l7-6.7l-.6-2.7l-7.8,0zM87.2,195.3l9.6-5.4l1.4-2.4l-.8-1.9l-10.3-9.3l-5.4,1.3l-6.4,10.7l.8,2.5zM187.1,185.8l1.2,8.6l-11.8,1.4l-2.3-7.8l4.2-8zM266.3,180.6l5.9,1.3l.3,12.2l-4.1,.9l-3.3-10.4zM272.5,194.1l2.5,.2l8.7-5.8l-5.6-7.6l-5.9,1zM427.3,188.4l.2-1.9l-5.3-3.6l-1.2,.8l-.6,4.6l1.1,1.4zM429.4,191.2l.2,0l3.8-3l.8-1.5l0-1l-1.2-3l-.7-.2l-4.8,4l-.2,1.9zM441.7,188.8l0-2.9l-7.5-.2l0,1l5.1,4zM446.8,183.4l-4.7,1.6l-.4,.9l0,2.9l4.3,2.4l2.9-7.5l-.3-.4zM52.3,184.3l2.2,4.7l-.6,2.7l-26.5,18.1l2.3-14.5l.6-1.1l12.8-10.3zM151.4,184.3l-8.8,1.2l-3.7,10.7l.9,2l11.3-2l2-3l.9-2.3zM158.8,189.6l5.5,3.3l3.4-5.7l-2.7-3.6l-4.1,1.9zM221.3,195.5l-.4,0l-8.9-4.9l4.4-6.6l.5,0l5.8,6.4zM258.6,188.5l-.2,.3l1.3,5.5l5.9,3.4l2.8-2.7l-3.3-10.4zM344.8,196.6l3.4-3.5l-4-7.3l-6.3-2.2l-2.2,3.2l8.1,10zM446,191.2l2.9-7.5l4.4,2.3l0,.4l-4.8,6.3l-1.9-.3zM63.8,186.4l.7,.5l-2.7,9.7l-7.9-4.9l.6-2.7l5.4-2.3zM245.5,195.5l2.7-5.9l10.2-.8l1.3,5.5l-11,3.4zM370.4,196.5l-8,.4l-.1,0l-1.4-4.1l7-6.7l2.2,1.8l.5,8.3zM379.1,191l-1.6-3.7l-7.4,.6l.5,8.3l4.5-1.3zM429.4,191.2l-3.6,4.5l-3.5-1.6l-.8-4.4l5.8-1.3zM438.8,192.5l-1.6,1.3l-1.5,0l-2.3-5.6l.8-1.5l5.1,4zM64.5,186.9l-2.7,9.7l2.2,4.4l7.1-1.8l5-8.4l-.8-2.5l-2.8-1.2zM167.7,187.2l6.5,.8l2.3,7.8l-.8,1l-11.3-3.2l-.1-.7zM435.7,193.8l0,0l-2.3-5.6l-3.8,3l2,1.6zM453.7,194.5l1.1-5.8l-1.5-2.3l-4.8,6.3l2.8,2.2zM231.7,195.9l4.4-5l-1-2.1l-2.8-1.5l-5.5,0l-4.1,3.1l-1.4,5.1l1.2,1.8zM446,191.2l-4.3-2.4l-2.4,1.9l-.5,1.8l5.2,3.5l2.6-3.6zM457.8,193.4l-3.9,1.3l-.2-.2l1.1-5.8l2.8,1l.7,1.4zM331.3,189.2l4.4-2.4l8.1,10l-1.5,1.2l-11.3,.9l-3.4-5.6zM154,190.9l-.9,2.3l10.1,3l1.2-2.6l-.1-.7l-5.5-3.3zM425.9,196l-.1-.3l3.6-4.5l.2,0l2,1.6l.1,3.7l-1.1,.8zM434.1,196.3l1.6-2.5l-4.1-1l.1,3.7zM457.8,193.4l-3.9,1.3l2.9,4.2l4-2l-.1-1.4zM163.2,196.2l-10.1-3l-2,3l5.7,6.4l6.3-5.2zM220.9,195.5l-10,4.1l-7.1-6.9l8.2-2.1zM446.1,201.8l-.7-.8l-1.4-4.9l0-.1l2.6-3.6l1.9,.3l2.8,2.2l-2.4,6.6l-1.1,.8zM64,201l-2.9,4.3l-35,7.8l1.3-3.3l26.5-18.1l7.9,4.9zM163.2,196.2l1.2-2.6l11.3,3.2l-1.8,6l-2.2,2.5l-8.6-7.9zM356.9,200.4l-8-7.5l6.5-4.7l5.5,4.6l1.4,4.1l-3.4,2.8zM444,196.1l0-.1l-5.2-3.5l-1.6,1.3l1.3,3.9zM381.1,191.8l.3,5.8l-1,1.8l-1.9-.2l-3.4-4.3l4-3.9zM438,199.4l.5-1.7l-1.3-3.9l-1.5,0l0,0l-1.6,2.5l.6,2zM275,194.3l3.2,7l3.5,2.1l6.4-5.6l-3.8-9.1l-.6-.2zM344.8,196.6l3.4-3.5l.7-.2l8,7.5l-1.6,1.6l-5.7,1.1zM380.4,199.4l.8,1.6l2.6,2.1l3-5.1l-5.4-.4zM434.2,198.9l.5-.6l-.6-2l-2.4,.2l-1.1,.8l.8,2zM438.3,200.2l7.1,.8l-1.4-4.9l-5.5,1.6l-.5,1.7zM453.9,194.7l2.9,4.2l-.7,2.3l-7.2,.3l2.4-6.6l2.4-.4zM123.4,189.2l4.7,.5l10.8,6.5l.9,2l-.5,2.5l-12.6,9.9l-8-5.8zM222.5,197.3l-1.2-1.8l-.4,0l-10,4.1l2.3,11.1l3,1.1l6.5-7.9zM231.7,195.9l-9.2,1.4l.2,6.6l11.1,2.3zM231.7,195.9l4.4-5l9.3,4.7l-8.8,12.9l-2.8-2.3zM248.7,197.7l11-3.4l5.9,3.4l-.6,5l-8.3,2.7l-5-2.6zM378.5,199.2l-1.5,1.3l-5.1,0l-1.5-4l.2-.3l4.5-1.3zM425.5,200.9l.4-4.9l-.1-.3l-3.5-1.6l-5.7,3.2l5.7,6l1.2-.3zM427.3,201.4l3.9-.7l.2-1.4l-.8-2l-4.7-1.3l-.4,4.9zM431.2,200.7l.2-1.4l2.8-.4l-.1,3.4l-1.6,.1zM434.2,198.9l.5-.6l3.3,1.1l.3,.8l-1,2.1l-1.1,.7l-2.1-.7zM163.1,197.4l8.6,7.9l-.1,.3l-10.6,6.7l-3-2.4l-1.2-7.3zM456.8,198.9l4-2l3.5,2.1l0,4.3l-3.1,1.4l-3.7-1l-1.4-2.5zM85.7,206l1.5-10.7l-11.1-4.5l-5,8.4l6.7,7.9zM272.5,194.1l2.5,.2l3.2,7l-9.1,5.5l-1.1,0l-3-4.1l.6-5l2.8-2.7zM377,200.5l-5.1,0l-.1,.4l2.1,3.1l3.1,1.1l.4-.8zM380.4,199.4l.8,1.6l-3.8,3.3l-.4-3.8l1.5-1.3zM203,192.5l-7.5,6l7.8,13.1l9.9-.9l-2.3-11.1l-7.1-6.9zM371.9,200.5l-1.5-4l-8,.4l4,9l.7,.2l4.7-5.2zM427.3,201.4l3.9-.7l1.3,1.7l-1,1.7l-1.6,.4zM441.7,205.7l-4.4-3.4l1-2.1l7.1,.8l.7,.8zM176.5,195.8l-.8,1l-1.8,6l13.5,4.1l6.3-8.4l-5.4-4.1zM341.7,201.8l.6-3.8l-11.3,.9l-.7,10.4l.2,.6l.1-.1l10.4-6.7zM377.4,204.3l-.4,.8l.8,1.6l1.3,.4l4.9-3.5l-.2-.5l-2.6-2.1zM420.9,205.3l1.4-2l-5.7-6l-2.6-.1l-1.9,3.8l.5,2.9l3.7,2.4zM156.8,202.6l1.2,7.3l-11.8,1l-6.9-10.2l.5-2.5l11.3-2zM282.5,209.9l-.1-.1l-.7-6.4l6.4-5.6l6.4,2.6l-.2,2.5l-1.5,3.7l-2.5,3.2zM361.5,208.2l-2.6-8.5l3.4-2.8l.1,0l4,9zM427.3,201.4l2.6,3.1l-1.6,2.4l-1.1,.2l-3.7-4.1l2-2.1zM432.5,202.4l1.6-.1l2.1,.7l-.7,5.5l-1.5,.1l-2.5-4.5zM441.1,207.6l.6-1.9l-4.4-3.4l-1.1,.7l-.7,5.5l1.8,1.1l1.2,0l.8-.3zM449.2,206.2l6.2,.4l2.1-2.9l-1.4-2.5l-7.2,.3l-1.1,.8zM278.2,201.3l3.5,2.1l.7,6.4l-4.2,.6l-9.1-3.6zM342,209.8l-11.4,0l10.4-6.7zM342.9,210.2l2.7-3.3l-3.9-5.1l-.7,1.3l1,6.7zM341.7,201.8l.6-3.8l1.5-1.2l1-.2l4.8,6.5l-.6,2.3l-3.4,1.5zM352.7,212l.1,.1l3.6-2l-1.1-8.1l-5.7,1.1l-.6,2.3zM360.3,210.2l-3.9-.1l-1.1-8.1l1.6-1.6l2-.7l2.6,8.5zM371.8,200.9l-4.7,5.2l1.5,1.8l4.7-2.9l.6-1zM428.3,206.9l3.9,2.7l1.8-1l-2.5-4.5l-1.6,.4zM373.3,205l-.2,5.1l-3.1,.8l-1.4-3zM373.9,204l-.6,1l-.2,5.1l1.2,0l3.5-3.4l-.8-1.6zM171.7,205.3l-.1,.3l10.4,14.1l3.7-1.8l1.7-11l-13.5-4.1zM245.5,195.5l3.2,2.2l3,5.1l-4.5,7.9l-10.5-2.1l-.1-.1l8.8-12.9zM420.9,205.3l1.4-2l1.2-.3l3.7,4.1l-1.5,3l-3,1.5zM301.6,196.3l-7.1,4.1l-.2,2.5l6.8,6l7-3.8l-.1-3.8zM330.3,209.3l-9.8-3.8l-7.8,8.1l1.7,5.1l.3,.1l15.4-6.5l.4-2.4zM444.6,209.3l3.4-1l1.1-1.5l.1-.6l-1.4-3.9l-1.7-.5l-4.4,3.9l-.6,1.9zM453.4,212.1l-4.3-5.3l.1-.6l6.2,.4l.6,3.1zM456,209.7l-.6-3.1l2.1-2.9l3.7,1l-.4,4.7l-1.4,1.4zM233.8,206.2l2.8,2.3l.1,.1l-1.9,6.4l-15.4,2.8l-3.2-6l6.5-7.9zM251.7,202.8l5,2.6l-.4,8.5l-6,1.7l-3.1-4.9zM299.6,211.9l-6.8-5.3l1.5-3.7l6.8,6zM342.9,210.2l.5,.9l9.3,.9l-3.7-6.6l-3.4,1.5zM377.8,206.7l1.3,.4l2.9,4.9l.1,1.7l-3.5,1.4l-4.3-5zM427.2,207.1l-1.5,3l4.9,2.4l1.6-2.9l-3.9-2.7zM262.5,216.4l4.6-4.5l.9-5.1l-3-4.1l-8.3,2.7l-.4,8.5l2.7,1.6zM293.4,216.3l5.6-.6l.6-1.2l0-2.6l-6.8-5.3l-2.5,3.2zM299.6,211.9l0,2.6l11.2-3l-2.7-6.4l-7,3.8zM368.6,207.9l1.4,3l-1,2.4l-7.8-1.7l-.9-1.4l1.2-2l4.9-2.3l.7,.2zM444.3,211.7l.3-2.4l-3.5-1.7l-1.8,1.7l3.9,3.1zM444.3,211.7l3.5,1.4l.2-4.8l-3.4,1zM453.2,213.1l.2-1l-4.3-5.3l-1.1,1.5l-.2,4.8l.2,.5zM460,214.6l3.3,1.3l2.3-1.3l.4-1.7l-1.1-2.3l-4.1-1.2l-1.4,1.4zM268,206.8l-.9,5.1l6,4.8l5.1-6.3l-9.1-3.6zM342.9,210.2l.5,.9l-.1,7.2l-3.3,3.3l-6.4-2l-3.5-7.3l.4-2.4l.1-.1l11.4,0zM373.1,210.1l-3.1,.8l-1,2.4l.7,4.5l3.2-.1l5.6-2.5l.1-.1l-4.3-5zM422.7,211.6l3-1.5l4.9,2.4l0,1.4l-4.6,3.4l-4.6-3zM434.8,216.8l-4.2-2.9l0-1.4l1.6-2.9l1.8-1l1.5-.1l1.8,1.1zM448,213.6l-.2-.5l-3.5-1.4l-1.1,.7l-.4,2.4l4.1,1.4zM453.2,213.1l.2-1l2.6-2.4l3.4,1.1l.6,3.8l-2.5,1.3l-3.8-1.7zM139.3,200.7l-12.6,9.9l1.1,7.1l15.7,.3l2.7-7.1zM282.7,222.8l-.3,.2l-3.5,1.5l-4.1-2.9l-1.7-4.9l5.1-6.3l4.2-.6l.1,.1zM343.4,211.1l-.1,7.2l9-1.2l.5-5l-.1-.1zM367.3,221.3l-5.5-.2l-.5-.4l-.1-9.1l7.8,1.7l.7,4.5zM440.1,214.6l-1.6-5l.8-.3l3.9,3.1l-.4,2.4l-.7,.3zM172.7,225.1l-10.8-5.7l-.9-7.1l10.6-6.7l10.4,14.1l-.1,.1zM247.2,210.7l3.1,4.9l-1.2,2.4l-5.1,.9l-8-1.7l-1.2-2.2l1.9-6.4zM282.7,222.8l-.2-12.9l7.8-.1l3.1,6.5l-3.3,5.3zM352.8,212.1l3.6-2l3.9,.1l.9,1.4l.1,9.1l-7.5-1.4l-1.5-2.2zM440.1,214.6l-1.6-5l-1.2,0l-2.5,7.2l.7,1.3l.7-.1zM101.8,213.6l.9,2.8l15.6,10.9l7.3-3.7l2.2-5.9l-1.1-7.1l-8-5.8l-5.2,.6l-10.9,6.8zM453.2,213.1l-5.2,.5l-1.1,2.6l.6,2.7l1.4,1l2.5-.7l2.3-5zM386.6,221l-.8-1.4l-1.1-4.4l3.6-1.7l5.7,3.7l-1.4,2.9l-.7,.4zM427.1,221.2l4.8,2.8l1.6-.9l2-5l-.7-1.3l-4.2-2.9l-4.6,3.4zM440.1,214.6l-3.9,3.4l5.5,1.5l.4-4.4zM447.5,218.9l-4.7,1.7l-1.1-1.1l.4-4.4l.7-.3l4.1,1.4zM146.2,210.9l-2.7,7.1l3.7,7.5l11.2-2.8l3.5-3.3l-.9-7.1l-3-2.4zM453.7,214.2l3.8,1.7l-.7,5.3l-5.4-2zM456.8,221.2l.7-5.3l2.5-1.3l3.3,1.3l-.4,5.6l-1.4,1.5l-4.6-1.5zM263.6,220.2l-1.1-3.8l4.6-4.5l6,4.8l1.7,4.9l-7.4,.7zM212.8,229l-4,.4l-8.9-3.9l-2.2-5.2l5.6-8.7l9.9-.9l3,1.1l3.2,6l-.5,3.9zM254.9,223.7l4.1-8.2l-2.7-1.6l-6,1.7l-1.2,2.4l1.5,4.4zM290.1,221.6l6.3,5.9l2-1.2l2.4-8l-1.8-2.6l-5.6,.6zM377,222.5l-4.1-4.8l5.6-2.5l.6,5.7l-.3,1zM379.1,220.9l6.7-1.3l-1.1-4.4l-2.6-1.5l-3.5,1.4l-.1,.1zM421,214.5l-.9,9.4l2,.4l5-3.1l-1.1-3.9l-4.6-3zM441.9,223.6l-2.4,1.7l-6-2.2l2-5l.7-.1l5.5,1.5l1.1,1.1zM254.9,223.7l4.1-8.2l3.5,.9l1.1,3.8l-3.6,5.2l-4.1-.9zM330.1,212.3l3.5,7.3l-5,6.8l-9-.2l-4.9-7.4zM352.3,217.1l1.5,2.2l-2.6,6.7l-4.6,3.5l-3.8-2l-2.8-5.9l3.3-3.3zM378.8,221.9l.3-1l6.7-1.3l.8,1.4l-.6,1.8l-1.7,1.5l-2.2,1zM397.4,222.5l1.9-1.2l-1.7-5.1l-1.5-.3l-2.1,1.3l-1.4,2.9l2.2,1.6zM141.7,238.4l5.5-12.9l-3.7-7.5l-15.7-.3l-2.2,5.9zM305.9,226.3l1.7-.7l3.1-4.7l-9.9-2.6l-2.4,8zM377,222.5l-4.1-4.8l-3.2,.1l-2.4,3.5l1.3,2.4l6.5,1.6zM448.9,219.9l.2,3l.4,1.2l.1,0l5.8-.5l1.5-2.1l-.1-.3l-5.4-2zM101.8,213.6l.9,2.8l-3,6.9l-12.1,5.3l-6.6-5.4l10.8-11zM234.8,215l-15.4,2.8l-.5,3.9l5.2,3.9l9.4,.5l2.4-2.7l.1-6.2zM244,218.9l-8-1.7l-.1,6.2l4.7,3.2l3.2-1.2zM250.6,222.4l-1.5-4.4l-5.1,.9l-.2,6.5l4.7,.9zM399.8,221.5l-.5-.2l-1.9,1.2l0,.8l1.1,2.9l.9,.4l.9-.3l-.3-4.5zM404.5,223.6l-3,2.9l-1.2-.2l-.3-4.5zM448.9,219.9l.2,3l-5.5,1.7l-1.7-1l.9-3l4.7-1.7zM377,222.5l-1.9,2.8l1.8,3.1l1.2,.6l3-2.1l1-1.6l-3.3-3.4zM389.5,226.9l-.2-.1l-3.3-4l.6-1.8l5.3-.5l.5,4.9zM394.4,226.5l-2-1.1l-.5-4.9l.7-.4l2.2,1.6l.2,3.6zM395,225.3l-.2-3.6l2.6,.8l0,.8zM394.6,226.8l.4,.3l3.5-.9l-1.1-2.9l-2.4,2l-.6,1.2zM449.1,222.9l-5.5,1.7l1.4,1.9l2.2,.8l2.3-3.2zM449.6,224.1l3.3,4.2l1.9-.6l.6-4.1zM361.8,221.1l-.5-.4l-7.5-1.4l-2.6,6.7l8,3.1zM422.1,224.3l2.8,7l.6,.3l5.4-2.7l1-4.9l-4.8-2.8zM263.9,230.2l-2.7-1.2l-1.2-3.6l3.6-5.2l3.8,2.1l-.4,6.2zM404.5,223.6l4.2,2.5l-.8,1.7l-3.7,1.9l-1.1-.4l-1.6-2.8l3-2.9zM416.9,228.6l1.2-4.3l-2.4-1.8l-5.8,2.6l-.5,.7l4.4,3.3zM456.9,221.5l4.6,1.5l.1,.4l-4.3,5.6l-2.5-1.3l.6-4.1zM249.9,231.2l3.7-.7l2.3-6l-1-.8l-4.3-1.3l-2.1,3.9l.7,4.5zM386.5,230.5l-2.2-6.2l1.7-1.5l3.3,4zM394.6,226.8l-2.8,2.3l-1.8-1.6l-.5-.6l2.9-1.5l2,1.1zM419.1,231.9l5.8-.6l-2.8-7l-2-.4l-2,.4l-1.2,4.3zM443.6,224.6l-1.7-1l-2.4,1.7l.4,2.1l2.8,1.8l2.3-2.7zM445,226.5l-2.3,2.7l1.8,3.4l3.4-.7l-.7-4.6zM449.5,224.1l.1,0l3.3,4.2l-2.6,4l-1.3,0l-1.1-.4l-.7-4.6zM181.9,219.8l.1-.1l3.7-1.8l12,2.4l2.2,5.2l-7.4,11.3l-3.8,1.1zM249.2,230.8l-.7-4.5l-4.7-.9l-3.2,1.2l.6,3.1l6.9,1.6zM332.9,235.9l-1.1-.6l-3.2-8.9l5-6.8l6.4,2l2.8,5.9zM365,229.3l3.6-5.5l0-.1l-1.3-2.4l-5.5-.2l-2.6,8l.1,.6l1.2,.7l2.3,0zM370.2,229.5l2.7,1.1l4-2.2l-1.8-3.1l-6.5-1.6l0,.1zM386.4,230.6l-.7,1l-4.6-4.7l1-1.6l2.2-1l2.2,6.2zM395,227.1l.5,2.4l.8,.9l2.2-.2l.9-3.6l-.9-.4zM439.5,225.3l-6-2.2l-1.6,.9l-1,4.9l2.3,2.3l4.6,0l2.1-3.8zM94.9,240l-5.7-3l-1.6-8.4l12.1-5.3l1,13.1zM158.4,222.7l-11.2,2.8l-5.5,12.9l.7,3.7l16.4,.4l1.5-1.5zM172.7,225.1l-10.8-5.7l-3.5,3.3l1.9,18.3l11.6-5.2zM233.3,232.6l.2-6.5l-9.4-.5l3.2,8.8zM241.2,229.7l-.6-3.1l-4.7-3.2l-2.4,2.7l-.2,6.5l2.4,1.8l4.2-2.1zM287.9,231.6l-5.5-8.6l.3-.2l7.4-1.2l6.3,5.9l-.4,3.4zM359.3,229.7l-.1-.6l-8-3.1l-4.6,3.5l2.6,7.6l2.3,.1l2.9-1.9zM381.1,226.9l4.6,4.7l-.1,.6l-2.2,1.8l-3.8,.8l-1.5-5.8zM392,230.3l-.2-1.2l-1.8-1.6l0,2.3zM394.6,226.8l-2.8,2.3l.2,1.2l.1,.3l3.4-1.1l-.5-2.4zM403.1,229.3l-3.1,2.1l-1.5-1.2l.9-3.6l.9-.3l1.2,.2zM117.5,229.7l.8-2.4l-15.6-10.9l-3,6.9l1,13.1l5.2,1.1zM303.2,233.9l2.7-7.6l-7.5,0l-2,1.2l-.4,3.4l.9,2.6l.3,.3zM314.4,218.7l-3.7,2.2l-3.1,4.7l2.4,6.6l4.7,3.3l3.7-4.5l1.2-4.8l-4.9-7.4zM367.8,231.7l2.2-1.9l.2-.3l-1.6-5.7l-3.6,5.5zM390,229.8l0-2.3l-.5-.6l-.2-.1l-2.8,3.7l-.1,.1l2.8,0zM392.1,230.6l-.3,1.5l-2.6-1.5l.8-.8l2,.5zM392.1,230.6l3.4-1.1l.8,.9l-1.3,3.8l-2.9,.3l-.3-2.4zM412.2,232.8l1.6-3.7l-4.4-3.3l-.7,.3l-.8,1.7l1.3,4.3zM439.9,227.4l-2.1,3.8l1.5,1.7l4.6,.3l.6-.6l-1.8-3.4zM450.3,232.3l2.9,2.2l3.3-1.7l.9-3.6l-.1-.2l-2.5-1.3l-1.9,.6zM172.7,225.1l-.8,10.7l5.1,3.7l9.8,.4l1.9-2l-6.8-18.1zM304.3,234.5l5.7-2.3l-2.4-6.6l-1.7,.7l-2.7,7.6zM367.8,231.7l-2.8-2.4l-2.2,1.1l4.1,4zM378.8,235.8l.8-1l-1.5-5.8l-1.2-.6l-4,2.2l.2,1.8zM389.2,230.6l-2.8,0l-.7,1l-.1,.6l5.3,3.2l1.2-.9l-.3-2.4zM396.3,230.4l2.2-.2l1.5,1.2l.5,6l-.3,0l-5.2-3.2zM404.2,229.7l.5,5.1l-2.3,2.3l-1.8,.3l-.1,0l-.5-6l3.1-2.1zM409.2,232.1l-1.3-4.3l-3.7,1.9l.5,5.1l2.4-.4zM412.2,232.8l1.6-3.7l3.1-.5l2.2,3.3l-1,1.6l-5.4,.1zM286,236.9l-2.7,.4l-7.1-3.6l0-2.7l2.7-6.5l3.5-1.5l5.5,8.6zM319.6,226.2l9,.2l3.2,8.9l-5.1,1.5l-8.3-5.8zM367.8,231.7l2.2-1.9l.5,4.2l-2.8,1.8l-.7-.4l-.1-1zM372,233.9l-1.5,.1l-.5-4.2l.2-.3l2.7,1.1l.2,1.8zM486.8,232.1l4.7,4.5l268.5-239.1l0-57.5l0,186.5l-264.9,98.9l-8.3,6.5zM227.3,234.4l-3.2-8.8l-5.2-3.9l-6.1,7.3l2,3.4l11.8,3zM366.9,234.4l.1,1l-2.2,.8l-3-1.7l-1.3-4.1l2.3,0zM374.5,239.1l-2.5-5.2l1.1-1.5l5.7,3.4l-.7,2l-3.3,1.2zM286,236.9l1.9-5.3l8.1-.7l.9,2.6l-7.9,5.1zM349.2,237.1l-2.6-7.6l-3.8-2l-9.9,8.4l1.2,2.4l10.5,4.8l.4-.2zM374.5,239.1l-2.2,1l-2.2-.9l-2.4-3.4l2.8-1.8l1.5-.1zM412.2,232.8l-3-.7l-2.1,2.3l4,3.9l1,0l.6-4.7zM412.7,233.6l5.4-.1l0,2.6l-2.9,2.9l-2.4-.2l-.7-.5zM438.7,234.5l-2.6,2l-1.8-1.3l-1-2.5l-.1-1.5l4.6,0l1.5,1.7zM455,239.9l4-1.1l.5-.5l.2-3.7l-3.2-1.8l-3.3,1.7l1.1,5.1zM218.7,246.8l-1.1,.1l-2.8-14.5l11.8,3l-.4,5zM304.8,235.7l7.1,3.2l2.4-1.5l.3-.4l.1-1.5l-4.7-3.3l-5.7,2.3zM361.8,234.5l-1.3-4.1l-1.2-.7l-4.9,5.6l5.8,.9zM418.1,233.5l0,2.6l4.1,2.5l3.4-5.6l-.1-1.4l-.6-.3l-5.8,.6zM428.8,237.7l-3.2-4.7l-.1-1.4l5.4-2.7l2.3,2.3l.1,1.5l-4.2,5zM443.2,238.5l.7-5.3l-4.6-.3l-.6,1.6l2.3,4zM117.5,229.7l.8-2.4l7.3-3.7l16.1,14.8l.7,3.7l-3.5,5.2l-1.3,.2l-17.7-10.1zM234.2,242.9l1.1-.4l.6-7.2l-.2-.9l-2.4-1.8l-6,1.8l-.7,1l-.4,5zM243.5,235.4l-3.6-3.1l-4.2,2.1l.2,.9l6.5,2.5zM318.2,239.3l-3.6-2.3l.1-1.5l3.7-4.5l8.3,5.8l-2.1,2.2zM360.5,237.8l-.2,.6l-3.5,2.8l-5.3-4l2.9-1.9l5.8,.9zM388.2,238.6l-2.2-.6l-2.6-4l2.2-1.8l5.3,3.2l-.2,1.3zM430.3,238.2l-1.2-.5l4.2-5l1,2.5l-2.6,3zM441,238.5l0,0l-2.3-4l-2.6,2l.2,.7l.9,1.3zM443.4,238.9l-.2-.4l.7-5.3l.6-.6l3.4-.7l1.1,.4l-.9,5l-4.3,1.6zM239.5,244l3-5.4l-.1-.8l-6.5-2.5l-.6,7.2zM304.8,235.7l-.4,4.1l-5.6,3.5l-1.6-9.5l6,.1l1.1,.6zM304.8,235.7l7.1,3.2l-2.2,2.4l-5.3-1.5zM364.2,237.4l-3.7,.4l-.3-1.6l1.6-1.7l3,1.7zM395,234.2l5.2,3.2l-6,4l-3.5-4.7l.2-1.3l1.2-.9zM407.1,234.4l-2.4,.4l-2.3,2.3l4.8,3.3l3.9-2.1zM454.3,239.6l-1.1-5.1l-2.9-2.2l-1.3,0l-.9,5l3.5,3.6zM297.2,233.8l-.3-.3l-7.9,5.1l2.9,7.9l5.6,.5l.4-.4l.9-3.3zM364.2,237.4l-.4,2.3l-1.2,.2l-2.3-1.5l.2-.6zM378.8,235.8l.8-1l3.8-.8l2.6,4l-2.8,2.5l-3-.1l-2.1-2.6zM428.8,237.7l-3.2-4.7l-3.4,5.6l0,.2l4.1,1.6l.6,0zM433.3,239.3l3-2.1l-.2-.7l-1.8-1.3l-2.6,3zM434.3,242.1l-1-2.8l3-2.1l.9,1.3l-1.3,4.5l-.6-.1zM451.2,241.5l.4-.6l-3.5-3.6l-4.3,1.6l3.3,2.7zM112.2,251.1l-6.3-13.6l11.6-7.8l2.4,7.7l-6.3,13.8zM362.6,239.9l-3.6,3.8l-.8-.3l-1.4-2.2l3.5-2.8zM367.7,235.8l-.7-.4l-2.2,.8l-.6,1.2l-.4,2.3l1.5,1.9l.4,.2l4.4-2.6zM415.2,239l2.9-2.9l4.1,2.5l0,.2l0,.1l-4.2,3.4l-.4,.1zM388.2,238.6l-2.2-.6l-2.8,2.5l3.1,2.4l1.7-2.2zM393.6,243.8l-5.6-3.1l.2-2.1l2.5-1.9l3.5,4.7zM434.3,242.1l-1-2.8l-1.6-1.1l-1.4,0l.8,3.5zM437.4,244.2l3.6-5.7l-3.8,0l-1.3,4.5zM440.2,246.4l-1.9-1l-.9-1.2l3.6-5.7l0,0l2.2,0l.2,.4l-1.4,5.3zM286,236.9l-2.7,.4l-1,8.5l8.2,1.5l1.4-.8l-2.9-7.9zM304.4,239.8l5.3,1.5l-1.1,5.5l-10.7-.2l.9-3.3zM324.1,246.4l-3.7-1.2l-2.2-5.9l6.4-.3l-.2,6.9zM363.8,239.7l1.5,1.9l-6,2.2l-.3-.1l3.6-3.8zM393.6,244.1l0-.3l-5.6-3.1l-1.7,2.2l0,.2l1,2.2l2.2,2.1l1-.1zM412.1,238.3l.7,.5l-1.3,7.1l-3.5-.7l-.8-1.3l0-3.5l3.9-2.1zM422.7,243.5l1.3,.3l2.3-3.4l-4.1-1.6l0,.1zM428.8,243.7l-1.9-3.3l1.9-2.7l.3,0l1.2,.5l.8,3.5zM113.6,251.2l6.8,4.6l17.2-8.3l-17.7-10.1zM324.4,245.9l7.8-3.2l1.9-4.4l-1.2-2.4l-1.1-.6l-5.1,1.5l-2.1,2.2zM370.1,239.2l-4.4,2.6l.2,2.4l1.4,2.9l.7,0l4-5.6l.3-1.4zM398.6,246.6l-5-2.5l0-.3l.6-2.4l6-4l.3,0l.1,0l.7,6.1l-.2,.4l-1.8,2.3zM407.2,243.9l0-3.5l-4.8-3.3l-1.8,.3l.7,6.1zM412.8,238.8l-1.3,7.1l1.1,1.1l2.5,0l.8-.4l1.7-4.2l-2.4-3.4zM422.7,243.5l-.5-4.6l-4.2,3.4l3.8,1.7zM428.8,244.7l-.5,.6l-1.3,.3l-1.6-.3l-1.4-1.5l2.3-3.4l.6,0l1.9,3.3zM442,244.2l1.4-5.3l.4,0l3.3,2.7l-1.1,2.4zM463.7,242.2l-3.6-1.3l.5,2.8l1,.5zM365.3,241.6l-6,2.2l.5,.5l6.1-.1l-.2-2.4zM386.3,243.1l0-.2l-3.1-2.4l-3-.1l.1,1.9l1.5,2.4zM428.8,244.7l3.2,.6l3.3-2.4l-1-.8l-3.2-.4l-2.3,2zM446,244l1.1-2.4l4.1-.1l-.5,3.7l-1.1,1.8l-1.7,0zM456.9,244.8l3.7-1.1l-.5-2.8l-1.1-2.1l-4,1.1zM467,245.4l.3-1.3l-1.1-2.5l-.9-.1l-1.6,.7l-2.1,2l.7,2.6l2.6,.3l1.9-1.2zM112.2,251.1l-5.5,2.4l-12-5.9l.2-7.6l5.8-3.6l5.2,1.1zM314.3,237.4l-2.4,1.5l-2.2,2.4l-1.1,5.5l.7,.8l6.1,0l.2-.3zM334.1,238.3l10.5,4.8l-3.8,12.7l-5.1,.2l-2-2.2l-1.5-11.1zM359.8,244.3l2.7,4.5l4.4-1.2l.4-.5l-1.4-2.9zM374.5,239.1l-2.2,1l-.3,1.4l2.1,4.4l2.7,0l-2-6.9zM374.8,239l2,6.9l.3,.1l3.2-3.7l-.1-1.9l-2.1-2.6zM386.3,243.1l-4.5,1.6l.3,1.9l5.2-1.3zM417.6,242.4l.4-.1l3.8,1.7l-.7,2.5l-2.7,.8l-2.5-.7zM456.9,244.8l3.7-1.1l1,.5l.7,2.6l-2.9,2.1l-.8-.2l-1.8-3.2zM78.9,240.6l10.3-3.6l5.7,3l-.2,7.6l-2.9,2.9l-15.7-.5zM324.1,246.4l.7,2.9l8.9,4.5l-1.5-11.1l-7.8,3.2zM356.8,241.2l-5.3-4l-2.3-.1l-4.2,5.8l8.6,5.1l1.9-.8l2.7-3.8zM374.1,245.9l-2.2,3.1l-3.9-1.9l4-5.6zM381.8,244.7l-1.5-2.4l-3.2,3.7l1.3,2.6l3.5-1.2l.2-.8zM405.2,247.6l-4.1-3.7l.2-.4l5.9,.4l.8,1.3l-1.8,2.3zM421.1,246.5l.7-2.5l.9-.5l1.3,.3l1.4,1.5l-2.4,2.6zM440.5,247.2l5.7,.8l1.7-1l-1.9-3l-4,.2l-1.8,2.2zM451.2,241.5l.4-.6l2.7-1.3l.7,.3l1.9,4.9l-.1,.7l-2.3,.8l-3.8-1.1zM63,256.3l-9.4-14.5l9-3.5l12,12.5zM374.1,245.9l-2.2,3.1l1.6,2.8l3.4,.3l1.5-3.5l-1.3-2.6l-.3-.1zM387.3,245.3l2.2,2.1l-3.5,3.7l-1.1,0l-3-3.7l.2-.8zM403.3,248.6l1.9-1l-4.1-3.7l-1.8,2.3zM435.3,242.9l.6,.1l1.5,1.2l.9,1.2l-4.3,3.1l-1.2-.4l-.8-2.8zM359.8,244.3l2.7,4.5l-1.3,2.2l-2.5-.9l-3.2-2.9l2.7-3.8l.8,.3l.3,.1zM425.3,250.9l-1.8-1.1l-.5-1.9l2.4-2.6l1.6,.3zM428.8,244.7l-.5,.6l1,3l1.8,.6l1.7-.8l-.8-2.8zM449.6,247l1.4,2.7l2.5,.1l1-3.5l-3.8-1.1zM456.8,245.5l1.8,3.2l-3.2,2.1l-1.9-1l1-3.5zM229.9,253.5l8.6,1.2l1.2-1.1l1.9-7.3l-2.1-2.3l-4.2-1.5l-1.1,.4zM418.4,247.3l2,3.8l3.1-1.3l-.5-1.9l-1.9-1.4zM425.3,250.9l1.7-5.3l1.3-.3l1,3l-1.3,1.9l-2.3,1.1zM353.6,248l-8.6-5.1l-.4,.2l-3.8,12.7l.7,.6l6.8-.5l5.2-5.6zM382.2,253.1l2.7-2l-3-3.7l-3.5,1.2l-1.5,3.5l.6,.7zM403.2,249.2l2.4,3.1l1.6,.6l-1-5.4l-1,.1l-1.9,1zM406.2,247.5l1,5.4l.7,.7l1.3,0l1.2-.8l2.2-5.8l-1.1-1.1l-3.5-.7zM432.1,253.8l2.5-2.5l-.6-2.8l-1.2-.4l-1.7,.8l.2,3.4zM440.5,247.2l-.2,1.9l-.2,.2l-4.4,2.1l-1.1-.1l-.6-2.8l4.3-3.1l1.9,1zM464.9,247.1l.2,4.2l-2.1,1.1l-2.3-1l-1.3-2.5l2.9-2.1zM466.8,245.9l-1.9,1.2l.2,4.2l.1,.1l3.4-2.3zM25.6,221.2l25.9,20.1l-12.1,42.8l-59.1,29.3l-40.3,171.9l0,62.2l81.6-328zM63,256.3l-9.4-14.5l-2.1-.5l-12.1,42.8l11.2-3.7l.5-.6zM279.9,253.4l1.5,2.3l5.8-.9l3.3-7.5l-8.2-1.5l-2.5,1.2l-.6,3.3zM308.6,246.8l.7,.8l-.2,8.4l-5,3.2l-4.1-1.5l-2.5-10.7l.4-.4zM315.4,247.6l-6.1,0l-.2,8.4l5.6,.7l3.1-2.8zM358.7,250.1l-3.2-2.9l-1.9,.8l-.1,2.3l2,1.8zM363.8,257.7l.9-.3l2.7-2.1l-.5-7.7l-4.4,1.2l-1.3,2.2l.1,1.8l2.3,4.9zM366.9,247.6l.5,7.7l3.4-.7l2.7-2.8l-1.6-2.8l-3.9-1.9l-.7,0zM403.2,249.2l2.4,3.1l-3.7-.1l.7-2.3zM415.1,247l1.8,6.4l3.3-1.9l.2-.4l-2-3.8l-2.5-.7zM431.3,252.3l-3.3-2.1l1.3-1.9l1.8,.6zM440.5,247.2l-.2,1.9l2,2.5l3.9,.1l0-3.7zM447.9,247l1.7,0l1.4,2.7l-1.7,4.3l-1.3-.2l-1.8-2.1l0-3.7zM361.3,252.8l-5.2,.8l-.6-1.5l3.2-2l2.5,.9zM415.1,247l1.8,6.4l-.5,1l-6-1.6l2.2-5.8zM432.1,253.8l-.2,.6l-5.9,1.3l-.3-4.4l2.3-1.1l3.3,2.1zM451,249.7l-1.7,4.3l.2,.3l4,2.6l1.8,.5l.1-6.6l-1.9-1zM459.4,248.9l-.8-.2l-3.2,2.1l-.1,6.6l.3,.2l.7,.1l4.4-6.3zM355.5,252.1l-2-1.8l-5.2,5.6l4.4,1.5l2.5-1.5l.9-2.3zM390.5,247.3l-1,.1l-3.5,3.7l1.9,3.5l5.5,.3l.6-2.5zM425.3,250.9l-1.8-1.1l-3.1,1.3l-.2,.4l2.7,4l2.9,.4l.2-.2l-.3-4.4zM432.1,253.8l-.2,.6l3.1,3.9l2.3-1.1l-.2-3.3l-1.4-2.5l-1.1-.1zM437.1,253.9l2.4-2.7l.6-1.9l-4.4,2.1zM442.3,251.6l.2,4l1.5,.5l4-2.3l-1.8-2.1zM407.2,252.9l.7,.7l-2.9,3.6l-4.3-1.8l-.2-2.5l1.4-.7l3.7,.1zM417.2,257.4l5.7-1.9l-2.7-4l-3.3,1.9l-.5,1zM437.3,257.2l2-.2l.2-5.8l-2.4,2.7zM440.3,249.1l-.2,.2l-.6,1.9l-.2,5.8l.1,0l3.1-1.4l-.2-4zM463,252.4l.2,2.4l-3.3,4.5l-3.6-1.6l4.4-6.3zM295.5,260.5l4.5-2.8l-2.5-10.7l-5.6-.5l-1.4,.8l-3.3,7.5l5.3,6.1zM324.8,249.3l8.9,4.5l2,2.2l-3.7,3.7l-7.2-.1l-4.4-5.8zM363.6,257.7l-2.3-4.9l-5.2,.8l-.9,2.3l7.8,2zM382.2,253.1l2.7-2l1.1,0l1.9,3.5l-2.5,5.2l-2-.9zM463,252.4l.2,2.4l3.5,1.3l1.3-1.9l-.2-1.1l-2.6-1.7l-.1-.1zM377.6,256.3l-.1-3.5l4.7,.3l1.2,5.8l-4,.5zM412.6,260.3l-3.4-6.7l1.2-.8l6,1.6l.8,3l-.4,1.8zM466.7,256.1l.3,4l2.2,1.6l4.7-1.8l0-.1l-2.3-4.3l-3.6-1.3zM75.4,250.7l.7-.7l15.7,.5l.3,10.8l-.5,.7l-13.9-5.6zM377.6,256.3l-.1-3.5l-.6-.7l-3.4-.3l-2.7,2.8l1.9,3l1,.4zM394.1,256.6l-.7-1.7l-5.5-.3l-2.5,5.2l2.3,3.5l4.5-.3l1.6-3.3zM486.9,255.8l2.9,.4l3.3,4.1l-9.2,1.5l0-.1l0-2.8zM226.4,264.4l.2-.1l2.8-10.6l-10.7-6.9l-1.1,.1l-8.8,5.8l0,3l8.7,7.8zM363,257.9l-7.8-2l-2.5,1.5l3.4,5.9zM411.7,261.2l-6.4-.3l0,0l-.3-3.7l2.9-3.6l1.3,0l3.4,6.7zM243.9,262.3l-4.3-1.8l-1.1-5.8l1.2-1.1l7.4,1.3l.1,0l.6,2.2l-1.7,4.1zM317.8,253.9l-3.1,2.8l2.5,7.4l3.4-.5l4.2-4l-4.4-5.8zM377.6,256.3l1.8,3.1l-2.7,4.1l-.5-.2l-2.5-5.3zM416.8,259.2l.4-1.8l5.7-1.9l2.9,.4l0,.2l-5.7,6.6l-.9-.6zM435,258.3l-.5,1.5l-2,.4l-6.1-2.9l-.6-1.2l0-.2l.2-.2l5.9-1.3zM286.6,267.4l-6.7-7.5l1.5-4.2l5.8-.9l5.3,6.1zM371.2,260.2l-6.5-2.8l2.7-2.1l3.4-.7l1.9,3zM373.7,258l-1-.4l-1.5,2.6l.6,2.4l4.4,.7zM432.5,260.2l-6.1-2.9l.6,5.2l.6,.5zM226.6,264.3l2.8-10.6l.5-.2l8.6,1.2l1.1,5.8l-3.4,3.9zM363.8,257.7l.9-.3l6.5,2.8l.6,2.4l-5.3,3.1zM420.8,263.5l6.2-1l-.6-5.2l-.6-1.2l-5.7,6.6zM63,256.3l11.6-5.5l.8-.1l2.3,5.7l-.2,5.9l-1.3,2.8l-25.1,14.7zM317.2,264.1l-2.5-7.4l-5.6-.7l-5,3.2l2.1,5.5l6,3l2.8-.5zM348.3,268.4l-2.9-.2l-3.9-11.8l6.8-.5l4.4,1.5l3.4,5.9l-.2,.8zM77.5,262.3l6.6,3.3l7-1l.5-2.6l-13.9-5.6zM112.2,251.1l-5.5,2.4l-3.2,6.4l2.8,9.3l2.1,1.1l12.1-9.6l-.1-4.9l-6.8-4.6zM376.7,263.5l.2,.6l9.6,1l1.2-1.8l-2.3-3.5l-2-.9l-4,.5zM434.4,265.3l-6.2-.7l-.6-1.6l4.9-2.8l2-.4l1.1,3.7zM245,268.7l-1.1-6.4l2.2-1.1l6.4,2.9l-5.6,5.8zM362,267.7l-4-1.6l-2.1-2l.2-.8l6.9-5.4l.6-.2l.2,0l2.7,8l-.1,.9zM411.7,261.2l-6.4-.3l2.4,6.1l4.1-2.6zM414.3,266.5l4.9-4.4l-2.4-2.9l-4.2,1.1l-.9,.9l.1,3.2l1.9,2.3zM473.9,259.8l0,.1l2.4,7.5l4.4-1.6l2.1-3.7l-7.4-2.9zM238.7,269.9l6.3-1.2l-1.1-6.4l-4.3-1.8l-3.4,3.9zM330.7,267.4l1.3-7.7l-7.2-.1l-4.2,4l1.8,1.9zM366.6,267l-.2-.4l.1-.9l5.3-3.1l4.4,.7l.5,.2l.2,.6l-.6,4.7l-2.2,1.1zM382.6,272.5l-6.3-3.7l.6-4.7l9.6,1l-1.8,6.9zM398.9,264.2l2.8-2.2l1.5,0l-.1,6.4l-2.6,.2zM406.8,269.2l-1.6,.4l-2.1-1.2l.1-6.4l2.1-1.1l0,0l2.4,6.1l-.8,2.1zM424.5,268.6l-3.5-3.5l-.2-1.6l6.2-1l.6,.5l.6,1.6l-.4,1.7zM483.9,261.8l2.7,5.3l3,.3l4-6.9l-.5-.2zM286.2,269.6l-8.2,.2l-4.4-7.4l6.3-2.5l6.7,7.5zM398.9,264.2l1.6,4.4l-4.9,3.5l-2.7-8.3zM414.3,266.5l2.7,1.1l2.3-.3l1.7-2.2l-.2-1.6l-.7-.8l-.9-.6zM430,269l-2.2-2.7l.4-1.7l6.2,.7l-.2,2.3l-1.6,1.1zM467.8,266.7l8,1.8l.5-1.1l-2.4-7.5l-4.7,1.8zM77.5,262.3l6.6,3.3l-3.2,6l-4.7-6.5zM246.9,269.9l5.6-5.8l1-.3l2.9,10.9l-.3,.8l-.1,.1l-7.8-2.3zM295.5,260.5l4.5-2.8l4.1,1.5l2.1,5.5l-5,7.5l-3.3-1.7zM330.7,271.5l-2.5,.8l-4.7-1l-1.1-5.8l8.3,1.9l.4,3.5zM343.4,271.2l-12.3-.3l-.4-3.5l1.3-7.7l3.7-3.7l5.1-.2l.7,.6l3.9,11.8zM413.7,266.7l-.6,2l-6.2,.4l.8-2.1l4.1-2.6zM480.7,265.8l2.9,5.4l3-4.1l-2.7-5.3l0-.1l-1.1,.4zM760,226.9l0,333.9l-118.5-258.2l-142.8-26.9l-8.1-6.3l-1-2l4-6.9l20-1.5zM80.9,271.6l3.2-6l7-1l.1,.4l-4.3,7.4l-5.8,0zM288.4,272.3l9.5-1.8l-2.4-10l-3,.4l-5.9,6.5l-.4,2.2l.6,1.3zM323.5,271.3l-4.6,1.2l-3.9-5.3l2.2-3.1l3.4-.5l1.8,1.9zM392.9,263.8l-.7-.8l-4.5,.3l-1.2,1.8l-1.8,6.9l4.7,3.3l5.8-1.7l.4-1.5zM414.3,266.5l2.7,1.1l-.6,3.1l-2.8-.3l-.5-1.7l.6-2zM480.7,265.8l2.9,5.4l-.1,.4l-4.2,2.8l-3.2-2.9l-.3-3l.5-1.1zM51.1,279.8l-.5,.6l4.2,1.1l24.1-5.8l2.2-3.3l-.2-.8l-4.7-6.5zM266.1,271.3l-3.6-3.1l.1-.7l3.9-6.3l4.7,1.4l-.5,6.1zM272,270.7l3.3,2l2.7-2.9l-4.4-7.4l-.8-.1l-1.6,.3l-.5,6.1zM355.2,274.3l-6.9-5.9l7.6-4.3l2.1,2l-1.9,8zM359.7,274.2l-3.6-.1l1.9-8l4,1.6zM413.6,270.4l-1.3,3l-1.6,.4l-3.9-4.6l.1-.1l6.2-.4zM417,267.6l2.3-.3l.1,1.6l-2,2.4l-1-.6zM424.5,268.6l-3.5-3.5l-1.7,2.2l.1,1.6l2.3,2.4l2-.5l.8-1zM430,269l-2.2-2.7l-3.3,2.3l0,1.2l4.1,1.9l0,0zM483.5,271.6l2.2,1l4.9-3.2l-1-2l-3-.3l-3,4.1zM108.4,270.3l12.1-9.6l8.3,13.5l-18.1,1.1zM303,278.6l5.8-.4l3.4-10.5l-6-3l-5,7.5zM417.8,272.2l-.4-.9l2-2.4l2.3,2.4l-1.8,1.7zM267.3,275.1l4.7-4.4l-1.3-2l-4.6,2.6zM267.3,275.1l0,.1l7.4,2.2l.6-4.7l-3.3-2zM400.5,268.6l2.6-.2l2.1,1.2l-1.5,5.2l-1.2,1.1l-3.9,.8l-3.4-3.1l.4-1.5zM430,269l-1.4,2.7l3.5,1.9l.5-4.9zM489.3,276.8l9.4-1.1l-8.1-6.3l-4.9,3.2zM238.7,269.9l6.3-1.2l1.9,1.2l1.3,3.4l-5,5.4l-6.4-4.5zM415.1,275.6l-2.8-2.2l1.3-3l2.8,.3l1,.6l.4,.9zM428.6,271.7l-1.8,3.7l-1.5,.1l-.7-.8l-.9-3.9l.8-1zM267.3,275.1l0,.1l-2.3,2.4l-8.9-2.1l.3-.8l6.1-6.5l3.6,3.1zM288.4,272.3l2.5,6.5l10.3,2l1.8-2.2l-1.8-6.4l-3.3-1.7zM313.7,280.7l4.3-2.7l.9-5.5l-3.9-5.3l-2.8,.5l-3.4,10.5zM406.8,269.2l-1.6,.4l-1.5,5.2l5.5,1l1.5-2zM420.4,275.1l4.2-.4l-.9-3.9l-2,.5l-1.8,1.7zM428.6,271.7l0,0l-1.8,3.7l1.5,1l2.8,.7l1.5-1.2l0-1.6l-.5-.7zM420.1,275.9l-1.2,.6l-3.6-.6l-.2-.3l2.7-3.4l2.1,.8l.5,2.1zM328.2,272.3l-4.9,7.3l-5.3-1.6l.9-5.5l4.6-1.2zM483.5,271.6l2.2,1l3.6,4.2l-4.1,4l-5.9-4.9l0-1.5zM343.5,275.4l-.9,1.8l-1.4,.9l-8.3,1.5l-2.2-8.1l.4-.6l12.3,.3zM355.2,274.3l-1.3,3.6l-2,1.6l-8.4-4.1l-.1-4.2l2-3l2.9,.2zM420.1,275.9l2.7,3.2l1-.1l1.5-3.5l-.7-.8l-4.2,.4zM409.3,279.2l-4.7-.8l-2.1-2.5l1.2-1.1l5.5,1l.3,3zM415.1,275.6l-2.8-2.2l-1.6,.4l-1.5,2l.3,3l5.2-.5l.6-2.4zM256.1,275.5l8.9,2.1l2.2,10.3l-12.5-2.7l1.3-9.6zM286.6,285.6l4.3-6.8l-2.5-6.5l-1.6-1.4l-9.8,11.2l0,.9l6.7,3.4zM330.7,271.5l2.2,8.1l-.2,.6l-7.8,1.5l-1.6-2.1l4.9-7.3zM359.7,274.2l-3.6-.1l-.9,.2l-1.3,3.6l9.1,6.4l.6-7.2zM380.6,275.7l4.5,10.4l.7,.1l2.7-5l.9-5.9l-4.7-3.3l-2.1,.5zM415.3,275.9l-.6,2.4l1,2.7l3-.5l.2-4zM420.1,275.9l2.7,3.2l-2.8,2l-1.3-.6l.2-4zM428.3,276.4l-2.3,5.1l-2.2-2.5l1.5-3.5l1.5-.1zM431.1,277.1l-2.8-.7l-2.3,5.1l.4,.8l2,.8l2-1.1zM236.8,274.2l6.4,4.5l.4,5.1l-7.7,5.2l-4-6.4l-.3-6.8zM380.6,275.7l-3.7,2.5l1.7,7.8l6.5,.1zM404.9,283.6l-2,2.1l-3.1-1.5l-1.2-1.9l0-5.6l3.9-.8l2.1,2.5zM409.3,279.2l-4.7-.8l.3,5.2l4.3-2.1zM415.5,281.3l-3.2,1l-2.3-.2l-.8-.6l.1-2.3l.2-.4l5.2-.5l1,2.7zM219.9,277.9l7.9-4.8l3.8,2.7l.3,6.8l-11.9,1.8l-1.6-3.8zM343.5,275.4l-.9,1.8l3.3,8.2l3,0l2.9-5l.1-.9zM353.9,277.9l9.1,6.4l.2,.9l-5.4,.7l-6-5.5l.1-.9zM389.4,275.3l5.8-1.7l3.4,3.1l0,5.6l-1,.2l-9.1-1.3zM426,281.5l.4,.8l-5,3.2l-1.4-4.4l2.8-2l1-.1zM480.9,284.5l3-.7l1.3-1.7l0-1.3l-5.9-4.9l-4.3,4.9l.2,.4zM72.7,290.4l-17.9-8.9l24.1-5.8l6.9,7.2zM341.2,278.1l-8.3,1.5l-.2,.6l.3,1.3l3.9,2.8l2.4-.9zM415.5,281.3l.7,3.5l1.9,.9l3.2-.1l.1-.1l-1.4-4.4l-1.3-.6l-3,.5zM491.7,285.6l149.8,17l-142.8-26.9l-9.4,1.1l-4.1,4l0,1.3zM314.4,284.6l-.7-3.9l4.3-2.7l5.3,1.6l1.6,2.1l-.4,4.9l-2.3,1.5l-1.8,.5zM330.7,289l2.3-7.5l-.3-1.3l-7.8,1.5l-.4,4.9zM345.9,285.4l-3.3-8.2l-1.4,.9l-1.9,5.3l3.8,3.9l.9-.1zM348.9,285.4l3.4,3.4l5.5-2.9l-6-5.5zM388.5,281.2l9.1,1.3l-8.3,5.1l-2.2,.6l-1.3-2zM231.9,282.6l-11.9,1.8l-.2,11l.8,1l10.6,0l3.4-2.2l1.3-5.2zM296.2,291.6l4.3-.2l0,0l.7-10.6l-10.3-2l-4.3,6.8zM409.2,281.5l-4.3,2.1l-2,2.1l1.5,3.1l5.2,1.5l1.2-1.2l-.8-7zM410,282.1l.8,7l1.5-.5l1.4-2l-1.4-4.3zM415.5,281.3l.7,3.5l-2.5,1.8l-1.4-4.3zM300.5,291.4l9.4-.7l4.5-6.1l-.7-3.9l-4.9-2.5l-5.8,.4l-1.8,2.2zM330.8,289.1l2.5,2.5l1-.4l2.8-4.8l-.2-2.1l-3.9-2.8l-2.3,7.5zM339.3,283.4l-2.4,.9l.2,2.1l5.5,1.2l.5-.3zM398.6,282.3l-1,.2l-8.3,5.1l7.6,0l2.9-3.4zM424.1,289.6l-1.7-.8l-1.1-3.2l.1-.1l5-3.2l2,.8l0,1.5zM477.4,287.9l-3.6-1.4l1.4-5.3l5.7,3.3l-.6,1.1l-2.6,2.3zM431.4,294.4l-2.4,.5l-4.9-5.3l4.3-5l3.9,7.4zM485,288.9l-1.1-5.1l1.3-1.7l6.5,3.5l-5.3,3.5zM342.6,287.6l-5.5-1.2l-2.8,4.8l4.7,.3zM413.7,286.6l-1.4,2l4.1,1.3l1.7-4.2l-1.9-.9zM418.1,285.7l3.2-.1l1.1,3.2l-3.9,3.2l-2.1-2.1zM477.7,287.9l2.2,2.1l1.2-1.4l-.8-3zM480.9,284.5l3-.7l1.1,5.1l-.1,0l-3.8-.3l-.8-3zM387.1,288.2l2.2-.6l7.6,0l-.4,3.8l-2.7,.4l-6.4-1.5zM480,290.6l2.7,2.7l0,0l2.2-4.4l-3.8-.3l-1.2,1.4zM486.4,289.1l7.4,8l6,3.6l108.2,48.8l152,410.5l0-199.2l-118.5-258.2l-149.8-17zM348.9,285.4l-3,0l-1.9,1.8l1.7,5.5l1.3,1.8l4.9,1.3l.1-.4l.3-6.6zM399.8,284.2l-2.9,3.4l-.4,3.8l1.4,1.1l4.1-.1l2.4-3.6l-1.5-3.1zM477.4,287.9l-.6,3.6l-.4,.2l-4.4-3.5l1.8-1.7zM477.4,287.9l-.6,3.6l.9,.1l2.3-1l-.1-.6l-2.2-2.1zM235.9,289l-1.3,5.2l11.4,5.5l5.7-4l.7-8.7l-8.8-3.2zM311.4,292.5l-1.5-1.8l4.5-6.1l6,4l-1.5,5.1zM352.3,288.8l-.3,6.6l12.4-6.9l0-.5l-.3-1.5l-.5-.9l-.4-.4l-5.4,.7zM412.3,288.6l-1.5,.5l-1.2,1.2l.6,2.3l3.6,3.8l4.2-1.3l.5-3.1l-2.1-2.1zM477.7,291.6l2.3-1l2.7,2.7l-1.8,2.5l-.7,.3zM485,288.9l-.1,0l-2.2,4.4l11.1,3.8l-7.4-8zM283.7,286.4l-6.7-3.4l-8.4,6l.1,4.8l1.7,1.6l8.5,1.8l4.3-2.7zM296.2,291.6l-9.6-6l-2.9,.8l-.5,8.1l5.4,3.5zM330.8,289.1l-5.3,4.6l-3.3-5.6l2.3-1.5l6.2,2.4zM344,287.2l-.9,.1l-.5,.3l-3.6,3.9l.9,1.2l5.8,0zM374.6,296.7l1.1-3.3l-.2-2.4l-11.1-3l0,.5l.1,1.5l2.9,4.4zM429,294.9l-4.9,4.8l-6.1-4.6l.5-3.1l3.9-3.2l1.7,.8zM476.8,291.5l.9,.1l2.5,4.5l-2.2,1.5l-2.3-1.4l-.7-1.1l1.4-3.4zM318.9,293.7l1.5-5.1l1.8-.5l3.3,5.6l-.1,1l-6,.7zM330.8,289.1l2.5,2.5l-.9,6.8l-4.1-.1l-2.9-3.6l.1-1zM345.7,292.7l-5.8,0l1.4,5.1l5.7-3.3zM364.5,290l-.1-1.5l-12.4,6.9l-.1,.4l.5,1.5l7.7,1.1zM385.1,286.1l-6.5-.1l-.1,0l-3,5l.2,2.4l10.9,1.2l.8-4.3l-.3-2.1l-1.3-2zM332.4,298.4l4.4,5.8l1.7-1.1l2.8-5.3l-1.4-5.1l-.9-1.2l-4.7-.3l-1,.4zM386.6,294.6l.8-4.3l6.4,1.5l1.3,5.4l-2.8,1.6l-5.6-3zM396.5,291.4l1.4,1.1l-1.7,4.5l-1.1,.2l-1.3-5.4zM410.2,292.6l-.6-2.3l-5.2-1.5l-2.4,3.6l1,6.4l1.8,.1zM312.3,298.7l6.7-.5l.4-2.8l-.5-1.7l-7.5-1.2zM374.6,296.7l1.1-3.3l10.9,1.2l.1,1.2l-3.2,4.7l-8.6-1.6zM397.9,292.5l4.1-.1l1,6.4l-1.1,.7l-5.7-2.5zM319.4,295.4l6-.7l2.9,3.6l-6.9,4.2l-2.4-4.3zM366.2,301.2l-1.5,.5l-2.4-.4l-2.2-2.9l4.4-8.4l2.9,4.4zM372.2,302.7l-6-1.5l1.2-6.8l7.2,2.3l.3,2.2l-2.1,3.4zM482.7,293.3l-1.8,2.5l2.8,2.5l16.1,2.4l-6-3.6l-11.1-3.8zM300.5,291.7l0-.3l0,0l9.4-.7l1.5,1.8l.9,6.2l-.8,.9zM406.2,299.9l-1.4-1l5.4-6.3l3.6,3.8l-.8,2.5l-.1,.1zM310.3,302.4l1.2-2.8l-11-7.9l.1,1.9l1.7,3.5zM347,294.5l-5.7,3.3l-2.8,5.3l12.2-.4l1.7-5.4l-.5-1.5zM294.6,305.4l-2.1-.3l-3.2-2.3l-.7-4.8l7.6-6.4l4.3-.2l0,.3l.1,1.9zM396.2,297l5.7,2.5l-1.2,2.6l-6.9,2.2l-1.5-5.5l2.8-1.6zM478,297.6l0,2.3l4.1,3.1l1.6-4.7l-2.8-2.5l-.7,.3zM499.8,300.7l108.2,48.8l-123.5-42.8l-2.4-3.7l1.6-4.7zM288.6,298l.7,4.8l-8.5,3.7l-1.9-9.3l4.3-2.7zM424,300.9l.1-1.2l-6.1-4.6l-4.2,1.3l-.8,2.5l6,4.6l3.6-1.6zM310.3,306.2l-4,1.1l-3.2-2.1l-.8-8.1l8,5.3zM310.3,306.2l.9,.5l9.7-.3l.5-3.9l-2.4-4.3l-6.7,.5l-.8,.9l-1.2,2.8zM410.3,306.9l-1-.3l-.5-.6l-2.6-6.1l6.7-.9l-1.2,6.8zM280.8,306.5l-1.9-9.3l-8.5-1.8l2.1,11.3l7.3,1.5zM303.1,305.2l-8.1,.5l-.4-.3l6-11.8l1.7,3.5zM320.9,306.4l.5-3.9l6.9-4.2l4.1,.1l4.4,5.8l-1.3,5.9l-9.4,3.5zM362.3,301.3l-2.7,4l-5.1,.4l-3.5-2.2l-.3-.8l1.7-5.4l7.7,1.1zM385.2,307.1l-.8-.6l-.9-6l3.2-4.7l5.6,3l1.5,5.5l-.3,.5l-6.8,2.6zM411.7,305.8l1.2-6.8l.1-.1l6,4.6l-1.7,1.8zM372.8,302.3l7.2,5.9l4.4-1.7l-.9-6l-8.6-1.6zM476.9,301.1l-.8,5.3l2.5,1.5l5.9-1.2l-2.4-3.7l-4.1-3.1zM260.8,306.9l-.2-7l8.1-6.1l1.7,1.6l2.1,11.3l-6.5,4.4zM408.8,306l-2.6-6.1l-1.4-1l-1.8-.1l-1.1,.7l-1.2,2.6l1.1,2.9zM394.2,306l-.7-1.2l.3-.5l6.9-2.2l1.1,2.9l-.7,4.1l-2.8,1zM362.3,301.3l-2.7,4l1.8,4l.9,.1l3-2.4l-.6-5.3zM372.2,302.7l-1.1,4.3l-4.1,.7l-1.7-.7l-.6-5.3l1.5-.5zM403.5,310.5l5.8-3.9l-.5-.6l-7-1l-.7,4.1zM341.4,313.1l6.2-1.3l.4-.3l3-8l-.3-.8l-12.2,.4l-1.7,1.1l-1.3,5.9l2.4,2zM372.2,302.7l-1.1,4.3l.6,2.6l6.1,1.8l2.2-3.2l-7.2-5.9zM421.4,310.8l-2.7,1.4l0,0l-1.4-6.9l1.7-1.8l3.6-1.6zM289.3,302.8l-8.5,3.7l-1,1.7l1.8,6.3l6.9-1.9l4-7.5zM361.4,309.3l-.6,.7l-4.9,1.5l-1.4-5.8l5.1-.4zM365.3,307l-3,2.4l3.9,3.8l.8-5.5zM410.3,306.9l1.3,4l7.1,1.3l-1.4-6.9l-5.6,.5zM426.5,305.2l-3.6,5.6l-1.5,0l1.2-8.9l1.4-1l2.6,3.3zM306.3,307.3l-.8,1.7l-4.5,2.3l-5.7-4.7l-.3-.9l8.1-.5zM369.6,313l-2.8,1.1l-.6-.9l.8-5.5l4.1-.7l.6,2.6zM426.5,305.2l1,5.5l-1.7,1.3l-2.9-1.2zM301,311.3l-3.4,8.2l-.7-.3l-1.2-2l-.4-10.6zM351,303.5l-3,8l7.4,1l.5-1l-1.4-5.8zM392.8,311.4l1.4-5.4l-.7-1.2l-6.8,2.6l3.4,5.1zM397.2,312.9l1.1-2.8l-4.1-4.1l-1.4,5.4zM404.6,313.7l-1.1-3.2l5.8-3.9l1,.3l1.3,4l-2.2,4.4l-4.3-1.1zM266.1,311.5l5.8,9.9l7.9-.7l1.8-6.2l-1.8-6.3l-7.3-1.5l-6.5,4.4zM295,305.7l.3,.9l.4,10.6l-7.2-4.6l4-7.5l2.1,.3zM311.2,306.7l1.6,9.5l5,5.1l6-3.1l2.3-4.6l-5.2-7.2zM478.6,307.9l5.9-1.2l123.5,42.8l152,410.5l0,0l0,0l0,0l-119.5-319.4l-163.8-126.5zM305.5,309l.3,6.6l-6,5.7l-2.2-1.8l3.4-8.2zM355.4,312.5l1.1,4.8l4.3-.9l0-6.4l-4.9,1.5zM366.8,314.1l-.6-.9l-3.9-3.8l-.9-.1l-.6,.7l0,6.4l4.5,.8zM377.9,315l-.8,1.1l-1.9,1.1l-5.6-4.2l2.1-3.4l6.1,1.8zM397.2,312.9l-4.4-1.5l-2.7,1.1l0,1.5l5.6,1.2l1.5-1.1zM310.3,306.2l.9,.5l1.6,9.5l-7-.6l-.3-6.6l.8-1.7zM355.4,312.5l1.1,4.8l-3,4.5l-5.9-10l.4-.3zM385.2,307.1l-.8-.6l-4.4,1.7l-2.2,3.2l.1,3.6l4.6,.7l1.8-1.6zM390.1,314l-1,1.9l-4.8-1.8l.9-7l1.5,.3l3.4,5.1zM397.2,312.9l1.1-2.8l2.8-1l2.4,1.4l1.1,3.2l-5.5,1.8l-1.9-1.4zM419,315.2l-.3-3l2.7-1.4l1.5,0l2.9,1.2l.1,1.3l-5,4.9zM411.7,317.8l-1.7-1l-.6-1.5l2.2-4.4l7.1,1.3l0,0l.3,3zM80.4,315.3l1.7,3.9l-5.3,29.4l-15.4,6.5l-121.4,119.6l0,10.6l40.3-171.9l90.6-3.9zM295.7,317.2l-7.2-4.6l-6.9,1.9l-1.8,6.2l3.1,3.3l14-4.8zM368.9,325.9l-.3,.1l-3.3-8.8l1.5-3.1l2.8-1.1l5.6,4.2l-4.3,7.6zM341.4,313.1l6.2-1.3l5.9,10l-.6,2.4l-4.1,1.2zM389.1,316.6l0-.7l-4.8-1.8l-1.8,1.6l.9,1.9l4.5,.8l.2-.1zM389.1,316.6l0-.7l1-1.9l5.6,1.2l-.6,1.6l-3.6,1.1zM399.6,317.1l-.5-1.6l5.5-1.8l.5,.5l-2.9,5.8zM470.3,313.8l1.8-1.3l2.9,1.6l-3.8,7.6l-1.4-1.4zM312.8,316.2l-7-.6l-6,5.7l.6,1.3l4.5,4.7l.3,.2l9.7-1.4l2.9-4.8zM475.6,332.9l-4.4-11.2l3.8-7.6l1.7,0l163.8,126.5l-156.3-98zM257.1,320.4l10.7,5.4l4.1-4.4l-5.8-9.9zM383.4,317.6l-.9-1.9l-4.6-.7l-.8,1.1l4,5.9l1.3-.3zM392.1,319.2l-.6-1.3l3.6-1.1l.3,2l-.3,.4zM397.2,314.1l1.9,1.4l.5,1.6l-2.2,2.2l-2-.5l-.3-2l.6-1.6zM402.2,320l2.9-5.8l4.3,1.1l.6,1.5l-.9,1.1l-6.5,2.9l-.3-.3zM421.1,318.7l-.2-.5l-1.9-3l-7.3,2.6l1.9,3.8zM364.9,329.2l-6.3-1.1l-5.7-3.9l.6-2.4l3-4.5l4.3-.9l4.5,.8l3.3,8.8zM387.9,318.4l-1.9,3.7l-3.2-.2l-.4-.2l1-4.1zM392.1,319.2l-.6-1.3l-2.4-1.3l-1,1.7l2.9,4.1l1.1-.6zM392.1,319.2l3,0l-.4,2.8l-2.6-.2zM395.1,319.2l.3-.4l2,.5l.9,2.2l-2,2l-1.6-1.5zM398.3,321.5l4-1l-.1-.5l-2.6-2.9l-2.2,2.2zM341.4,313.1l7.4,12.3l-.1,.1l-7.2,.1l-3.4-1.9l-.2-11.6zM370.9,324.8l4.3-7.6l1.9-1.1l4,5.9l-3,3zM388.1,318.3l-.2,.1l-1.9,3.7l2.4,2.9l1.2-.1l1.4-2.5zM404.9,323.9l-1.5-.8l-.8-2.3l6.5-2.9l-.6,2.3zM408.4,325.7l0,0l-2.2-.5l-1.3-1.3l3.6-3.7l1.1,3.9zM429.8,322.9l-.5-2.7l-2.9-1.6l-3,1.1l2.4,2.6l3.9,.7zM464.6,317.8l5.2,2.5l1.4,1.4l4.4,11.2l-13.3-7.4l-1.1-3.2l.1-.2zM326.1,313.6l9.4-3.5l2.4,2l.2,11.6l-3.7,1.4l-7-2.7l-3.6-4.2zM409.6,324.1l-1.1-3.9l.6-2.3l.9-1.1l1.7,1l1.9,3.8l0,.1zM415.7,326.2l.2,.1l4.7-1.9l1.2-4.8l-.7-.9l-7.5,2.9l0,.1zM392.1,321.8l-1.1,.6l-1.4,2.5l2.9,2.2l1.1,0l2.9-2.4l-.2-1.2l-1.6-1.5zM398.3,321.5l-2,2l.2,1.2l3.3,2l3.6-3.6l-.8-2.3l-.3-.3zM427.6,326.9l-1.3,.5l-.5-5.1l3.9,.7zM382.8,321.9l1.3,4.8l3,0l1.3-1.7l-2.4-2.9zM408.4,325.7l3.5,1.8l3.8-1.3l-2.1-4.5l-4,2.4zM421.8,319.6l1.6,.1l2.4,2.6l.5,5.1l-1.8,1.6l-3.9-4.6zM378.1,325l3-3l1.3-.3l.4,.2l1.3,4.8l-2.9,1.9zM434.3,327.6l-1.5-4.1l-3-.6l-.1,.1l-2.1,3.9l6.3,1.5zM297.6,319.5l2.2,1.8l.6,1.3l-9.9,8.9l-7.3-6.5l-.3-1l14-4.8zM333.8,334.6l.6-9.5l-7-2.7l.8,12.6l2.9,.3zM338.1,323.7l-3.7,1.4l-.6,9.5l3.5,.8l4.2-9.8zM403.3,330.3l.3-.1l2.6-5l-1.3-1.3l-1.5-.8l-3.6,3.6l.3,1.7zM323.8,318.2l3.6,4.2l.8,12.6l-5.5,2.2l-3.6-1.7l-4.2-9.4l2.9-4.8zM381.4,331.4l.8,.5l5.2-1.7l-.3-3.5l-3,0l-2.9,1.9zM390.2,331.9l2.3-4.8l-2.9-2.2l-1.2,.1l-1.3,1.7l.3,3.5l2.1,1.8zM393.6,327.1l2.9-2.4l3.3,2l.3,1.7l-3.5,3.6zM408.4,325.7l-2.2-.5l-2.6,5l2.6,.6l1.9-2.1zM408.4,325.7l0,0l-.3,3l3.1,2.9l.7-4.1zM420.6,324.4l3.9,4.6l-.1,1l-2.3,1l-5.8-2.9l-.4-1.8zM368.9,325.9l8,7.4l4.5-1.9l-.2-2.8l-3.1-3.6l-7.2-.2zM390.2,331.9l2.3-4.8l1.1,0l3,4.9l-.2,.6l-1.5,1.4l-1.1,.1l-.2-.1zM408.1,328.7l-1.9,2.1l3.6,4.1l1.6-1.2l0-.1l-.2-2zM411.9,327.5l-.7,4.1l.2,2l4.3-2.2l.6-3.3l-.4-1.8l-.2-.1zM424.4,330l.4,.5l6.3,2.5l2.7-2.9l.1-1.7l-6.3-1.5l-1.3,.5l-1.8,1.6zM434.3,327.6l4.8-1.7l.3,.1l2.5,3.8l0,2.9l-2.5,1.5l-5.6-4.1l.1-1.7zM267,329.2l.8-3.4l4.1-4.4l7.9-.7l3.1,3.3l.3,1l-5.7,13.3l-.9,.8l-8.9-8.5zM304.9,327.3l-10.9,6.8l-2.4,.6l-1.1-3.2l9.9-8.9zM341.5,325.6l-4.2,9.8l1.1,.8l8.9-4.3l1.4-6.4zM415.7,331.4l.6-3.3l5.8,2.9l-3,2.7zM462.3,325.5l13.3,7.4l8.6,9.7l-16.4-3.3l-10.5-7.8l2.2-3.9zM386.6,335.3l.7,0l2.2-3.3l-2.1-1.8l-5.2,1.7l.8,1.8zM396.4,332.6l4.1,1.8l2.3-1.3l.5-2.8l-3.2-1.9l-3.5,3.6zM403.3,330.3l.3-.1l2.6,.6l3.6,4.1l-.1,.1l-5,0l-1.9-1.9zM449.4,331.9l2.5,2.4l2.3,.7l2.1-3.4l-2.3-1.8l-4.2,1.4zM290.5,331.5l-7.3-6.5l-5.7,13.3l13.6-1l.5-2.6zM304.9,327.3l.3,.2l-.6,5.7l-3.2,2.8l-7.4-1.9zM348.7,325.5l-1.4,6.4l1.4,3l5,2.8l4.9-9.6l-5.7-3.9l-4.1,1.2zM411.4,333.6l4.3-2.2l3.4,2.3l-.3,4.6l-.3,0l-7.1-4.6zM419.1,333.7l3-2.7l2.3-1l.4,.5l.1,8.1l-4.3,.8l-1.8-1.1zM424.9,338.6l1.9,.8l3.7-1.7l.7-.8l-.1-3.9l-6.3-2.5zM431.1,333l.1,3.9l6.8,1.1l1.4-3.8l-5.6-4.1zM449.4,331.9l2.5,2.4l-4.2,3.6l-1.2-1.3l-.9-2.5l1.3-1.2zM291.6,334.7l-.5,2.6l2.3,6l2.6,1.1l2.3-1.8l3.1-6.6l-7.4-1.9zM314.9,326.1l4.2,9.4l-8.4,6.6l-1.6-1.1l-4.5-7.8l.6-5.7zM365.3,332.9l-.4,1.8l-3.6,7.8l-2.7,1.1l-3.2-.4l-1.7-5.5l4.9-9.6l6.3,1.1zM368.9,325.9l-.3,.1l-3.7,3.2l.4,3.7l10.6,6.3l1-5.9zM381.4,331.4l.8,.5l.8,1.8l-1.3,5.1l-.6,.6l-4.7,1.3l-.5-1.5l1-5.9zM390.2,331.9l3.4,2.1l-4.2,4l-.4-.1l-1.7-2.6l2.2-3.3zM397.5,340.4l2.1,1l1.2-2l-.3-5l-4.1-1.8l-1.5,1.4zM402.8,333.1l1.9,1.9l-1.5,2.9l-2.4,1.5l-.3-5zM451.9,334.3l-4.2,3.6l.9,1.8l3.3,.6l2.7-1.8l-.4-3.5zM456.3,331.6l1-.1l10.5,7.8l-8.2,.8l-5-1.6l-.4-3.5zM344.6,341.7l-5.4-3.7l-.8-1.8l8.9-4.3l1.4,3l-4,6.8zM386.6,335.3l-1.9,3.1l-3,.4l1.3-5.1zM350.9,346l4.5-2.8l-1.7-5.5l-5-2.8l-4,6.8zM386.6,335.3l.7,0l1.7,2.6l-1.9,1.9l-2.4-1.4zM393.6,334l.2,.1l-1.5,5.3l-1.3,.1l-1.6-1.5zM409.7,335l-.2,4.2l-.2,.2l-6.1-1.5l1.5-2.9zM411.4,333.7l-1.6,1.2l-.1,.1l-.2,4.2l4.5,1.9l4.5-2.8zM439.4,334.2l2.5-1.5l3.7,1.4l.9,2.5l-7.4,4.8l-1.1-3.4zM267.7,330.6l8.9,8.5l-.1,.3l-1,1l-8.8,3.9l-1.3-.4l-1.4-4.9zM397.5,340.4l-2.6-6.4l-1.1,.1l-1.5,5.3l3.6,1.3zM301.4,336l-3.1,6.6l10.8-1.6l-4.5-7.8zM365.3,332.9l-.4,1.8l7.1,8.5l4.1-1.6l.3-.9l-.5-1.5zM400.8,339.4l2.4-1.5l6.1,1.5l-1.4,2.5l-5,1.7l-2.6-.7l-.7-1.5zM442.1,342.9l-2.9-.6l-.1-.9l7.4-4.8l1.2,1.3l.9,1.8l-.4,.5zM364.9,334.7l-3.6,7.8l6.8,3.7l3.9-3zM384.7,338.4l2.4,1.4l-.3,3.5l-.2,.2l-.7,.3l-4.8-4.4l.6-.6zM389,337.9l-1.9,1.9l-.3,3.5l3.6-1.3l.6-2.5l-1.6-1.5zM433.6,343.8l-3.1-6.1l.7-.8l6.8,1.1l1.1,3.4l.1,.9l-.1,.2zM291.1,337.3l2.3,6l-1.6,1l-12.1-1.7l-3.2-3.2l.1-.3l.9-.8zM395.9,340.7l-3.3,2.9l-.1,0l-2.1-1.6l.6-2.5l1.3-.1zM331.1,335.3l1.7,11.8l-2.9,3l-6.2-6.5l-1-6.4l5.5-2.2zM338.4,336.2l.8,1.8l-3.4,7.7l-3,1.4l-1.7-11.8l2.7-.7l3.5,.8zM432.4,344.9l-4.3-1.1l-.7-.9l-.6-3.5l3.7-1.7l3.1,6.1zM381.1,339.4l4.8,4.4l-2,2.8l-5.7-.6l-2.1-4.4l.3-.9zM447.2,347.9l-5.1-5l6.1-2.7l-.6,7.1zM454.6,338.5l-2.7,1.8l1,4.7l2,1.3l4.7-6.2zM344.6,341.7l-5.4-3.7l-3.4,7.7l4.6,1.6zM386.8,343.3l-.2,.2l3.7,3.2l2.2-3.1l-2.1-1.6zM397.5,340.4l2.1,1l.7,1.5l-2.1,4.2l-2.2,.7l-3.4-4.2l3.3-2.9zM447.6,347.3l5.3-2.3l-1-4.7l-3.3-.6l-.4,.5zM395.5,348.2l-4.6,1.3l-.6-2.8l2.2-3.1l.1,0l3.4,4.2zM459.6,340.1l8.2-.8l16.4,3.3l156.3,98l119.5,319.4l0-115.3l-23.8-22.7l-94.7-50.8l-37.4-31.3l-126.8-144.8l-22.4-48.8zM350.5,347l-6.2,8l-3.9-7.7l4.2-5.6l.1,0l6.2,4.3zM438.9,348.3l7.4,6l.9-6.4l-5.1-5l-2.9-.6l-.1,.2zM447.2,347.9l-.9,6.4l3.6,11l8.5,11l18.9,18.8l-22.4-48.8l-2-1.3l-5.3,2.3zM344.3,355l-.2,.5l-.1,.2l-7,3.2l-7.1-4.3l0-4.5l2.9-3l3-1.4l4.6,1.6zM376.1,341.6l2.1,4.4l-1.6,5.8l-2.3,1.6l-1.5-.3l-4.1-4.1l-.6-2.8l3.9-3zM390.3,346.7l-3.7-3.2l-.7,.3l-2,2.8l.3,.8l6.2,3l.5-.9zM432.4,347.4l4.1,2.3l2.4-1.4l.2-5.8l-5.5,1.3l-1.2,1.1zM260.3,356l-6.5-.2l-3.2-.9l-.7-5.5l2.2-2l7.9,0zM316.8,353.9l7.3,2l4.8-.7l1-.6l0-4.5l-6.2-6.5l-8.6,6.8zM383.2,353.7l-6.6-1.9l1.6-5.8l5.7,.6l.3,.8zM383.3,353.8l4.4,.3l2.6-3.3l.1-.4l-6.2-3l-1,6.3zM228.4,343.5l-10,9.1l15.2,3.1l1.3-.3l.3-5.7zM358.6,343.6l2.7-1.1l6.8,3.7l.6,2.8l-7.8,5.9zM250.6,354.9l-1.2,1.1l-12.1,2.2l-2.4-2.8l.3-5.7l7.3-5.5l7.4,5.2zM350.5,347l4.9,6.7l5.5,1.5l0-.3l-2.3-11.3l-3.2-.4l-4.5,2.8zM360.9,355.2l1.4,6.1l.2,0l10.3-8.2l-4.1-4.1l-7.8,5.9zM350.5,347l4.9,6.7l-3.5,2.6l-7.8-.8l.2-.5zM355.4,353.7l5.5,1.5l1.4,6.1l-3.3,3.2l-7.1-8.2zM383.3,353.8l-1.7,7.8l-1.2,1l-4.3-1.7l-1.8-7.5l2.3-1.6l6.6,1.9zM215.1,353.6l3.1,12l2.2,.8l13.2-10.7l-15.2-3.1zM376.1,360.9l-6,3.3l-7.6-2.9l10.3-8.2l1.5,.3zM344,355.7l.1-.2l7.8,.8l7.1,8.2l-.2,.2l-1,.5l-7.3-.3zM311.9,362.3l4.9-8.4l7.3,2l-4.7,9.9zM249.1,370.7l.3-14.7l-12.1,2.2l.3,4.4l8.6,9.2zM253.8,355.8l2.3,15.4l-7-.5l.3-14.7l1.2-1.1zM260.3,356l3.2,1.9l-.2,3.9l-5,9.5l-.6,.3l-1.6-.4l-2.3-15.4zM221.4,367.5l-1-1.1l13.2-10.7l1.3-.3l2.4,2.8l.3,4.4l-3.1,3zM319.5,365.9l5.8,2.8l3.6-13.5l-4.8,.7l-4.7,9.9zM263.5,357.9l5.3-2.8l5.5,.6l5.7,3.1l-8.4,8l-8.3-5zM337,362.8l-.8,1.7l-6.3,5l-3.7,.5l-.9-1.3l3.6-13.5l1-.6l7.1,4.3zM337,362.8l9.1,6.4l4.4-4.3l-6.5-9.2l-7,3.2zM263.3,361.8l8.3,5l-.8,7.7l-1.2,.9l-11.3-4.1zM233.1,372.9l1.4-7.3l-13.1,1.9l1.9,3.3l1.9,1.3zM270.8,374.5l.8-7.7l8.4-8l.3,.1l0,14.7zM238.3,378.7l3,1.1l4.9-8l-8.6-9.2l-3.1,3l-1.4,7.3zM315.3,374.1l4.2-8.2l-.1-.1l-7.5-3.5l-1.4,.5l2.1,10.1zM345.2,375.8l-1.1,.3l-5.5-3.4l-2.4-8.2l.8-1.7l9.1,6.4l-.7,6.4zM458.4,376.3l18.9,18.8l126.8,144.8l-22.2-15.7l-138.9-123.8l-17.3-24.6l3.8-10.2zM315.3,374.1l2.7,3.8l5.8-.3l2.4-7.6l-.9-1.3l-5.8-2.8zM336.2,364.5l-6.3,5l4.1,4.8l4.6-1.6zM330.7,384.1l-1.1,0l-5.8-6.5l2.4-7.6l3.7-.5l4.1,4.8l-2.1,9.4zM344.1,376.1l-5.5-3.4l-4.6,1.6l-2.1,9.4l2,.2l4.6-1.8zM238.3,378.7l-9.6,1.7l-3.5-8.3l7.9,.8zM315.3,374.1l2.7,3.8l-4.9,6.3l-4.3-.3l-2.7-8.9l6.5-2.1zM207.1,380l1.6-10.6l5.1-.8l.5,11.5l-1.5,1.2zM223.3,370.8l-2.6,8.4l-2.6,1.4l-3.8-.5l-.5-11.5l4.4-3l2.2,.8l1,1.1zM424.4,374.8l1.3,1l17.3,24.6l-9.1-5.1l-17.7-15.8l0-4.7l.7-1.5zM228.7,380.4l-2.1,2.5l-5.9-3.7l2.6-8.4l1.9,1.3zM248.9,388.1l8.3-2.4l.5-14.1l-1.6-.4l-7-.5l-2.9,1.1l-4.9,8l.2,.9zM212.4,395.8l.4-14.5l-5.7-1.3l-5.5,2.3l2.2,13zM241.5,380.7l-.2-.9l-3-1.1l-9.6,1.7l-2.1,2.5l-.5,6.2l7.3,1.5zM319.4,390.5l-4-2.7l-2.3-3.6l4.9-6.3l5.8-.3l5.8,6.5l-4.9,5.3zM346.5,388.4l.1,2.3l-8.7-1.6l-4-5.2l4.6-1.8zM407.3,389.1l6.4-2.3l20.2,8.5l9.1,5.1l138.9,123.8l-118.6-73.3l-6.5-5.5l-39.2-36.3l-10.6-19.2zM248.9,388.1l-7.4-7.4l-8.1,9.9l2.9,6.8l1.8,.5l8-3.9l2.8-5.7zM248.9,388.3l9.7,13l-7.6,2.4l-4.9-9.7zM246.1,394l4.9,9.7l-.5,.7l-9.8-1.7l-2.6-4.8zM238.1,397.9l2.6,4.8l-2,10l-.3,0l-7-2.8l-.9-.7l-.9-6.2l6.7-5.6zM246.5,413.9l2.6-2.9l1.4-6.6l-9.8-1.7l-2,10l4.7,1.9l2.8-.5zM183.8,398.8l19.6-3.3l-.4,17.1l-4.8,3.6l-4.6-1.3zM212.4,395.8l3.2,1.4l-.2,15l-12.4,.4l.4-17.1l.4-.2zM263.5,407.5l-6.1,5.3l-8.3-1.8l1.4-6.6l.5-.7l7.6-2.4l2.7,.1l.8,1.3zM266.7,410.6l2.9,5l-11.1,5.9l-1.1-8.7l6.1-5.3zM170.1,419.4l9.7-22.2l4,1.6l9.8,16.1l-14.2,15.6l-5.3,3.4l-2.6-4.8zM231.4,409.9l-.9-.7l-13.3,5.4l.2,1.6l8.7,6.2l1.7-.1zM246.5,413.9l2.6-2.9l8.3,1.8l1.1,8.7l-.4,.6zM215.4,412.2l-12.4,.4l-4.8,3.6l5.5,11.8l0,0l8.8-3.3l4.9-8.5l-.2-1.6zM238.4,412.7l-6.4,10.8l-4.2-1.2l3.6-12.4zM296.3,421.4l-3.1,7.9l-12.1-.8l-1.3-5.6l4-5.8l8.2,1.2zM141.5,416.3l13.3-6l15.3,9.1l1.4,9.7l-22.5-4.7zM241,429.8l2.4-15.2l-4.7-1.9l-.3,0l-6.4,10.8l3.3,4.1l4.9,2.4zM258.1,422.1l10,4l1.9-10.3l-.4-.2l-11.1,5.9l-.4,.6zM270,415.8l-1.9,10.3l1.8,6.7l11.1-4.2l.1-.1l-1.3-5.6l-9.6-7.1zM179.4,430.5l24.3-2.5l-5.5-11.8l-4.6-1.3zM258.1,422.1l10,4l1.8,6.7l-.4,.5l-11.8-6.3l-.1-3.6zM212.5,424.7l4.9-8.5l8.7,6.2l-1.9,5l-7,2.2zM232,423.5l3.3,4.1l-7.6,4.8l-1.8-.3l-1.7-4.7l1.9-5l1.7-.1zM221.5,436.5l4.4-4.4l-1.7-4.7l-7,2.2l.6,3.6zM306.3,430.1l3.2-7.9l.9-.2l7.5,8.3l-7.5,3.1zM191.3,443.9l12.4-15.8l0-.1l0,0l-24.3,2.5l-5.3,3.4l-.2,4l2.9,7.1l4.8,1.7zM262,443.3l4.8-2l2.7-8l-11.8-6.3l-3.7,6.3zM405.5,468.3l27.6,32.7l13,6.3l61.7,22.9l133.7,41l-37.4-31.3l-22.2-15.7l-118.6-73.3l-59.7-25.2l-5.7-1.2l-14.3,1l-3.7,7.8zM208.6,438.6l-4.9-10.5l0-.1l8.8-3.3l4.7,4.9l.6,3.6zM231.6,439.1l-3.9-6.7l7.6-4.8l4.9,2.4l-2.9,6.2zM306.1,430.2l-11.4,1.4l.6,3.8l7.3,6.9l2-1.1zM310.1,436.9l.3-3.5l-4.1-3.3l-.2,.1l-1.5,11l2.8-.7zM228.7,443.2l-6.2,.4l-1-7.1l4.4-4.4l1.8,.3l3.9,6.7zM316.9,437.4l3-6.2l-2-.9l-7.5,3.1l-.3,3.5zM344.5,441.5l3-1l-.4-6.9l-3.6-3.2l-7.5,7.6zM222.5,443.6l-1-7.1l-3.7-3.3l-9.2,5.4l.1,4l6.9,2.9l6.2-1.3zM205.4,444.9l3.3-2.3l-.1-4l-4.9-10.5l-12.4,15.8l13.7,1.2zM335.3,438.1l-3-5.9l-8.4-2.3l-1,.8l1.7,6.4l8.7,3.8zM370.7,438.5l8.8-5.3l.4,.1l25.6,35zM316.9,437.4l-6.8-.5l-2.7,3.6l6.8,3l2.7-2.9zM237.3,436.2l2.9-6.2l.8-.2l2,.4l5,3.4l-.7,8l-1.1,1.6l-.2,.1l-5.2,.1zM316.9,437.4l3-6.2l3-.5l1.7,6.4l-1,4.2l-1.3,1.3l-5.4-2zM333.3,440.9l-8.7-3.8l-1,4.2l8.8,3.1zM231,445.6l9.5-1.7l.3-.5l-3.5-7.2l-5.7,2.9l-2.9,4.1zM246.2,443.2l1.1-1.6l14.2,2.4l-3.6,9.6l-3.3-.3zM332.4,444.4l-8.8-3.1l-1.3,1.3l.1,4.9l2.4,1.3l7.6-3.5zM302.6,442.3l-.8,7.4l-1.1,.2l-5.4-.7l-7.2-5.6l7.2-8.2zM314.2,443.5l.6,4.7l-9,5.6l-4-4.1l.8-7.4l2-1.1l2.8-.7zM316.9,440.6l5.4,2l.1,4.9l-5.1,1.7l-2.5-1l-.6-4.7zM342.6,444.8l-10.1,.6l-.1-.1l0-.9l.9-3.5l2-2.8l.7-.1l8.5,3.5zM231,445.6l2.9,6.7l2.6,.7l3.1-2.7l.9-6.4zM342.6,444.8l-1,5.8l-5.1,.4l-1.8-.6l-2.2-5zM240.5,443.9l-.9,6.4l5,.6l1.4-7.6l-5.2,.1zM246.2,443.2l8.4,10.1l-5.2,1.1l-4.8-3.5l1.4-7.6zM342.6,444.8l-1,5.8l2.8,2.1l3.4-.4l3.7-5.4l-.7-2.2l-2.3-3.6l-1-.6l-3,1zM295.3,449.2l-7.9,6.1l-2-1.6l-1.4-9l4.1-1.1zM199.6,459.7l-9.1-2.4l-8.9-10.6l9.7-2.8l13.7,1.2zM209.5,458.5l-4.1-13.6l3.3-2.3l6.9,2.9l-1.5,11.4zM231,445.6l2.9,6.7l-7.8,5.3l-1.1,.2l-3.2-13.6l.7-.6l6.2-.4zM257.9,453.8l8.3,6.5l5.6,.5l1.5-.6l1.1-2l-.2-12.6l-7.4-4.3l-4.8,2l-.5,.7l-3.6,9.6zM282.4,443.8l-8.2,1.8l.2,12.6l11-4.5l-1.4-9zM209.5,458.5l-4.1-13.6l-.4,.2l-5.4,14.6l2.3,1.5l4.8-.2zM222,460.3l.7-.1l2.3-2.4l-3.2-13.6l-6.2,1.3l-1.5,11.4zM306.2,455.6l.7,1.3l7.6,6.6l4.5-7.3l-1.7-7l-2.5-1l-9,5.6zM324.4,453.5l-.6,1.5l-4.8,1.2l-1.7-7l5.1-1.7l2.4,1.3l.1,1zM332.5,445.4l2.2,5l-.5,.6l-4.4,2l-4.9-3.2l-.1-1l7.6-3.5zM244.6,450.9l-5-.6l-3.1,2.7l4.6,9.1l8.3-7.7zM324.4,453.5l-.6,1.5l4.6,4.9l.9-6zM324.4,453.5l4.9,.4l.5-.9l-4.9-3.2zM300.7,449.9l-5.4-.7l-7.9,6.1l.9,1.8l4.5,1.7zM329.3,453.9l-.9,6l1,2.1l2.2,.1l2.6-11.1l-4.4,2zM338.1,458l-1.6-7l5.1-.4l2.8,2.1l-1.8,5.7zM338.1,458l-6.1,4.3l-.4-.2l2.6-11.1l.5-.6l1.8,.6zM323.8,455l-4.8,1.2l-4.5,7.3l.2,.5l3.5,1.6l6.2-.1l5-3.5l-1-2.1zM342.6,458.4l1.8,4.1l11-.6l-7.6-9.6l-3.4,.4zM240.6,465.5l.5-3.4l-4.6-9.1l-2.6-.7l-7.8,5.3l13.9,8.2zM294.1,460.7l-1.3-1.9l7.9-8.9l1.1-.2l4,4.1l.4,1.8l-11.1,6zM285.5,462.9l-6.1,1.1l-6.1-3.8l1.1-2l11-4.5l2,1.6l.9,1.8zM338.1,458l-6.1,4.3l.5,.5l7.7,4l1.2-.1l3-4.2l-1.8-4.1zM254.6,453.3l3.3,.3l0,.2l-6,13.9l-1.9,1.2l-9.4-3.4l.5-3.4l8.3-7.7zM240,465.8l-5.6,7.2l-7.9-6.1l-3.8-6.7l2.3-2.4l1.1-.2zM213.8,472.2l8.2-11.9l-7.9-3.4l-4.6,1.6l-2.8,2.5l6.8,11.2zM251.9,467.7l6-13.9l8.3,6.5l-4.5,9.1zM199.6,459.7l-9.1-2.4l-2.6,18.8l3.9,3.6l6.8-.7l3.3-17.8zM362.2,464.5l-6.8-2.6l-11,.6l-3,4.2l3.6,5.5l19.5-5.6zM213.5,472.2l-11.5,7.9l-3.4-1.1l3.3-17.8l4.8-.2zM213.8,472.2l3.9,2.5l8.8-7.8l-3.8-6.7l-.7,.1zM261.7,469.4l4.5-9.1l5.6,.5l.1,14.1l-7.8,2.1zM280.8,469.3l-1.4-5.3l-6.1-3.8l-1.5,.6l.1,14.1l2.3,1.1zM332.6,472.6l-7.7-5.9l2.6,12.6l1.3,.7l4.7-2.6l.1-1.7zM331.6,462.1l-2.2-.1l-5,3.5l.5,1.2l7.7,5.9l-.1-9.8l-.5-.5zM252,480.8l-2-11.9l1.9-1.2l9.8,1.7l2.4,7.6l-.3,.3zM280.8,469.3l-6.6,6.7l5.1,6.1l4.6-3.2l1.9-6.8zM324.9,466.7l2.6,12.6l-3.7-.3l-3.8-4.2l-1.8-9.2l6.2-.1zM240.6,465.5l9.4,3.4l2,11.9l-2,3.2l-16.2-7.2l.6-3.8l5.6-7.2zM364.5,466.6l-19.5,5.6l-1.4,5.8l34.1,9.6l30.3,4.6l.2,0l-6.8-4.7zM204.7,484.1l-2.7-4l11.5-7.9l.3,0l3.9,2.5l3.8,4.6l-3.5,7zM274.2,476l-2.3-1.1l-7.8,2.1l-.3,.3l4.4,14.8l.3,0l10.6-8.4l.2-1.6zM250.1,486.9l-.1-2.9l2-3.2l11.8-3.5l4.4,14.8l-8.2,4.1zM343.6,478l34.1,9.6l-34.1-.2l-1.7-1.2l-.7-6.6zM341.2,479.6l.7,6.6l-3.5,2.6l-9.4-4l-.2-4.8l4.7-2.6zM316.6,490.3l12.3-5.2l.1-.3l-.2-4.8l-1.3-.7l-3.7-.3l-6.4,4.1l-2.1,7zM328.9,495.7l1.9,2l4.7,.5l2.9-9.4l-9.4-4l-.1,.3zM316.6,490.3l12.3-5.2l0,10.6l-3.7-.4zM204.7,484.1l13.3,2.2l1.3,4.7l-6.3,2.7l-8-3zM345.3,497.4l-1.7-10l-1.7-1.2l-3.5,2.6l-2.9,9.4l2.4,1.6zM279.3,498.2l6.5-7.5l-6.7-7l-10.6,8.4l6.4,6zM205,490.7l-2.3,6.1l8.7,2.9l1.6-6zM219.3,491l6.7,6.6l-.6,.6l-11.9,4.3l-2.1-2.8l1.6-6zM316.6,490.3l8.6,5l-10.4,8.9l-2.9-1.6l0-9.1l.6-2l2.8-1.4zM250.1,486.9l9.9,9.3l-1.7,7.6l-10.9-.3l-6.7-8.8zM286.4,490.8l-.6-.1l-6.5,7.5l7.4,8.5l.1-.1zM294.2,491.2l-4,14l-.5,.4l-2.9,1l-.4-15.8l7.6-.1zM294.2,491.2l-4,14l11.4-2.2l-3.4-8.4zM260,496.2l8.2-4.1l.3,0l6.4,6l-2.9,14.1l-5.1,1.3l-5.9-2l-2.7-7.7zM213.5,502.5l-2.1-2.8l-8.7-2.9l-2,1.7l10.2,10.8l0,0zM286.7,506.7l-7.4-8.5l-4.4-.1l-2.9,14.1l10.2,2.1zM200.7,498.5l10.2,10.8l-30.6,46.4l2.5-33l6.5-19.8zM243.4,508.3l4-4.8l-6.7-8.8l-8.3,1l-.5,.4zM290.2,505.2l-.5,.4l12.3,10.3l3.5-10.5l-3.9-2.4zM243.4,508.3l4-4.8l10.9,.3l2.7,7.7l-5,4.6l-13.9-4zM286.8,506.6l-.1,.1l-4.5,7.6l2.7,5.2l7.6,4.1l9.5-7l0-.7l-12.3-10.3zM232.6,508.1l-9,6.9l.4,13l14.1-14.1zM223.6,515l-2.6-4.3l-10.1-1.4l0,0l-30.6,46.4l-13.5,60.3l.9,22.3l25.9-24.4l30.4-85.9zM242.1,512.1l13.9,4l-.5,1.4l-11.4,6.6l-5-10.1zM238.1,513.9l1,.1l5,10.1l-6.9,23.9l-36.9,60.9l-6.7,5l30.4-85.9zM269.9,526.4l8.9,.2l6.1-7.1l-2.7-5.2l-10.2-2.1l-5.1,1.3l1.8,12zM237.2,548l6.9-23.9l11.4-6.6l1.4,11.4zM268.7,525.5l-1.8-12l-5.9-2l-5,4.6l-.5,1.4l1.4,11.4l5,.9zM346.4,526.6l0,3.1l1.5,1.9l29.3,3l130.6-4.4l-61.7-22.9l-88.8,8.8l-3,1zM279,530.4l-.2-3.8l-8.9-.2l1.8,10.1l.7,.3zM280,531.5l-1-1.1l-.2-3.8l6.1-7.1l7.6,4.1l1.3,6.8l-4.5,4.5zM280,531.5l.8,10.8l3.9,2.1l4.6-9.5zM280,531.5l-1-1.1l-6.6,6.4l2.9,4l5.5,1.5zM265.5,537.4l-48.5,62.2l-16.7,9.3l36.9-60.9l19.7-19.1l5,.9zM275.3,540.8l-41.4,50.9l-16.9,7.9l48.5-62.2l6.2-.9l.7,.3zM280.8,542.3l-5.5-1.5l-41.4,50.9l37-14.2l12.4-10l2.4-20.5l-1-2.6zM306.8,576l9.6-1.4l1-5.7l-1.1-1.9l-5.4-4.2l-8.4-1.8l-5.4,4zM324.2,568.6l-6.8,.3l-1,5.7l1.1,1.5l5.4,2.2l4.8-1.2zM297,587.6l9.8-1.5l.1,0l-.1-10.1l-9.7-11l-13.8,2.5l-12.4,10l24,9.7zM313.1,587.3l-6.2-1.2l-.1-10.1l9.6-1.4l1.1,1.5zM320.7,588.7l2.2-10.4l-5.4-2.2l-4.4,11.2l3.7,2.8zM327.7,577.1l-4.8,1.2l-2.2,10.4l9.9,1.6l2.8-2.2l.9-7.9l-1.6-1.9zM320.7,588.7l9.9,1.6l-1.7,12.2l-8.8,1.5l-3.8-5.7l.5-8.2zM297,587.6l9.8-1.5l-.5,13.2l-.2,.2l-6.5-6zM316.8,590.1l-.5,8.2l-10,1l.5-13.2l.1,0l6.2,1.2zM296.4,601.2l-46.9,38.6l-105.6,55.2l23.8-56.7l25.9-24.4l6.7-5l16.7-9.3l16.9-7.9l37-14.2l24,9.7zM298.1,600.6l1.5-7.1l-2.6-5.9l-2.1-.4l1.5,14zM298.1,600.6l7.2,.1l.8-1.2l-6.5-6zM298.1,600.6l7.2,.1l.4,9l-27.3,17.7l-28.9,12.4l46.9-38.6zM306.1,599.5l.2-.2l10-1l3.8,5.7l-1,2.1l-2.3,1.9l-7.7,2.3l-3.4-.6l-.4-9zM320.1,604l8.8-1.5l2.4,1.7l-4.6,11.4l-2.7-.9l-4.9-8.6zM326.7,615.6l4.6-11.4l4.3,1.7l.7,13.6l-5.9-.3l-1.3-.9zM316.8,608l.4,12l-3.3,1.8l-.5-.2l-4.3-11.3zM319.1,606.1l4.9,8.6l-5.7,5.3l-1.1,0l-.4-12zM309.1,610.3l4.3,11.3l-35,5.8l27.3-17.7zM326.7,615.6l-2.7-.9l-5.7,5.3l1.7,1.1l9.1-2.8zM329.1,618.3l-9.1,2.8l4.4,4.8l6-6.7zM313.9,621.8l1.2,5.2l9.3,6.5l0-7.6l-4.4-4.8l-1.7-1.1l-1.1,0zM330.4,619.2l-6,6.7l0,7.6l435.6,126.5l0,0l0,0l-423.7-140.5zM313.9,621.8l1.2,5.2l-340.6,133l169.4-65l105.6-55.2l28.9-12.4l35-5.8zM315.1,627l-340.6,133l-34.5,0l0,0l820,0l-435.6-126.5zM167.7,638.3l-23.8,56.7l-169.4,65l-34.5,0l0,0l0,0l0-210.8l23.7-26.8l145.9-16.6l40.2,51.1l17,59.1zM125.8,497.4l20.8,32.2l3.2,27.3l-40.2-51.1l5.1-6zM143,492.4l-.8-1.1l-13.7,1l-2.7,5.1l20.8,32.2l2.2-15.6zM157,490.4l-14,2l-.8-1.1l2.5-12.9l13,7.2zM164,468.7l2.8,12.9l-5.2,1.1l-6.9-11.4zM137.4,414l-12.9-1.2l-1.1-1l-6.4-24l3.9-12.1l16,.4l3.7,6.7zM141.5,416.3l-2.2-.4l-1.9-1.9l3.2-31.2l18.3,12.1l-4.1,15.4zM154.8,410.3l4.1-15.4l18.8-1.1l2.1,3.4l-9.7,22.2zM181.6,446.7l-4.8-1.7l-6.1,9.8l-.2,5.3l9.1,14.7l8.3,1.3l2.6-18.8zM170.5,483l9.1-8.2l8.3,1.3l3.9,3.6l-4.9,14l-14.6-4.8zM154.7,471.3l-12.8-1.9l2.8,9l13,7.2l3.9-2.9zM157,490.4l-14,2l5.8,21.6l10.8-17.4zM189.3,502.9l-2.4-9.2l-14.6-4.8l-4.1,7l14.6,26.8zM180.3,555.7l-13.5,60.3l-17-59.1l-3.2-27.3l2.2-15.6l10.8-17.4l8.6-.7l14.6,26.8zM229.9,253.5l4.3-10.6l-8-2.5l-7.5,6.4l10.7,6.9zM227.8,273.1l3.8,2.7l5.2-1.6l1.9-4.3l-2.5-5.5l-9.6-.1l-.2,.1zM248.2,273.3l7.8,2.3l-1.3,9.6l-2.3,1.8l-8.8-3.2l-.4-5.1zM265,277.6l2.3-2.4l7.4,2.2l2.3,4.7l0,.9l-8.4,6l-1.4-1.1zM275.3,272.7l2.7-2.9l8.2-.2l.6,1.3l-9.8,11.2l-2.3-4.7zM254.7,285.2l-2.3,1.8l-.7,8.7l8.9,4.2l8.1-6.1l-.1-4.8l-1.4-1.1zM230.3,316.8l-4.9-1.3l-7.9-7.5l3.1-11.6l10.6,0l2.5,14.1z"/>
<path id="k1" d="M112.3,51.1l-1.2,1.4l-4,.3l.3-6.1l5.2,1.7zM112.3,51.1l7.2,7.3l-1.8-12.6l-5.1,2.6zM107.1,52.8l4-.3l.4,6.9l-7.8-1.9zM112.3,51.1l-1.2,1.4l.4,6.9l3.5,2.1l5.5-.3l-1-2.8zM130.7,46.8l3.6,12.8l4.8-3.4l53.7-116.2l-42.7,52.9l-2,4.3zM139.4,67.6l.1,0l3.5-3.3l-3.9-8.1l-4.8,3.4l-.7,1.4zM103.7,57.5l-2.3,.4l0,.1l-.3,5.8l1.8,3.2l4.5,2.5l7.6-8l-3.5-2.1zM133.5,71.8l-10.6-9.9l10.7-.9l5.8,6.6zM120.5,61.2l1,.4l-.7,6.5l-7.6,8.2l-4.2-1.7l-1.6-5.1l7.6-8zM142.2,71.2l-2.7-3.6l3.5-3.3l2.7-1.1l1.7,1.2l1.8,5.8l-3,2.6zM124.7,74.4l-3.9-6.3l.7-6.5l.3,0l1.1,.3l10.6,9.9l-.1,.4zM146.2,72.8l3-2.6l2.6,.1l1,1.6l-1.5,3.4l-3.5,.4zM123.7,81.9l1-7.5l-3.9-6.3l-7.6,8.2l1.9,3.2l8.6,2.5zM123.7,81.9l1-7.5l8.7-2.2l.1,1.6l-2.8,7.8zM142,72.5l1.4,10.4l2.2-.1l2.2-7.1l-1.6-2.9l-4-1.6zM142,72.5l-3.6,5.5l-4.9-4.2l-.1-1.6l.1-.4l5.9-4.2l.1,0l2.7,3.6zM142,72.5l-3.6,5.5l1.4,3.5l2.8,1.6l.8-.2zM147.8,75.7l3.5-.4l4.7,4.3l-.2,.5l-9.7,3l-.5-.3zM130.7,81.6l2.8-7.8l4.9,4.2l1.4,3.5l-8.2,.8zM107.5,75.8l-4.2,12.1l3.4,.8l5.2-2.6l3.2-6.6l-1.9-3.2l-4.2-1.7zM139.8,88.3l2.8-5.2l-2.8-1.6l-8.2,.8l1.4,4.5zM123.7,82l-8.6-2.5l-3.2,6.6l7.6,5.1l2.3-1.2l1.3-2.4zM133,86.8l-1.4-4.5l-.9-.7l-7,.3l0,.1l-.6,5.6l8.3,2.6zM139.8,90.3l-8,1.5l-.4-1.6l1.6-3.4l6.8,1.5zM118.9,92.2l.6-1l-7.6-5.1l-5.2,2.6l5.1,8.4l.3,.1l2.8-1.2zM131.8,91.8l-.4,3.3l-3.2,2.4l-6.4-7.5l1.3-2.4l8.3,2.6zM139.8,90.3l1.1,3.5l-.2,.6l-2,2.7l-.2,0l-7.1-2l.4-3.3zM128.2,97.5l-6.4-7.5l-2.3,1.2l-.6,1l4.1,8.6l3.2,.4l1.1-.6zM123,100.8l-4.1-8.6l-4,3.8l6.3,5.1zM121.2,101.1l-5.8,5.2l-.9-1.4l-2.4-7.7l2.8-1.2zM123,100.8l3.2,.4l-3.2,10l-5.2-.4l-2.3-3.7l-.1-.8l5.8-5.2zM93.6,120.5l-4.4-4.5l1.9-5.1l8.5,2.6l.6,1.3l-1.3,2.4zM116.2,115.4l-5.9,1.9l-1.3,2l.2,.4l6.2,4.5l2.1-2.8zM92.3,125.7l-1.2,.9l-3.4-3.8l1-6.6l.5-.2l4.4,4.5zM100.7,124.9l3.3,.5l0-8.2l-2.1-1.9l-1.7-.5l-1.3,2.4zM109,119.3l-5-2.1l0,8.2l1.1,.5l.2-.2l3.9-6zM100.7,124.9l-1.8-7.7l-5.3,3.3l-1.3,5.2l5.7,.9zM165.4,138.7l8-1.7l2,1.7l-1.8,8.7l-8.1-1.6l-2.7-5.6zM184.2,140.4l-8.8-1.7l-1.8,8.7l3.2,3.3zM158.2,138.7l-3.9,4.6l3.1,11.1l4.1,3.1l2.6-3.3l1.4-8.4l-2.7-5.6zM177.6,154.4l-.2-.3l-.6-3.4l7.4-10.3l2.7-.8l2,.8l-2.3,10zM177.4,154.1l-13.3,.1l1.4-8.4l8.1,1.6l3.2,3.3zM186.6,150.4l2.3-10l7.7-.5l1.7,6.4l-2.4,9.2l-5.1,.1zM177.6,154.4l9-4l4.2,5.2l-3.7,3.1l-9.4-4.2zM209.2,154.8l-.6-3.2l-10.3-5.3l-2.4,9.2l1.4,2.3l10.4-.3zM177.6,154.4l-.2-.3l-13.3,.1l-2.6,3.3l.2,6.1l1.7,3.2l12.6-5.3l1.7-7zM177.7,154.5l-1.7,7l3.8,3.7l6.9-2.2l.4-4.3zM190.8,155.6l5.1-.1l1.4,2.3l-.3,5.4l-10.1,0l-.2-.2l.4-4.3zM180.7,174.1l-.9-8.9l-3.8-3.7l-12.6,5.3l-.2,3.8l2.5,2.7l12.1,4.1zM455.7,178.5l1.1,2.2l9.1-.3l7.6-12.7l-15.8,7.9l-.7,.6zM451.9,177.8l3.8,.7l1.1,2.2l-1.6,3.8l-1.9,1.5l-4.4-2.3l-.3-.4l.6-3.3zM456.8,180.7l9.1-.3l-1,5.4l-1.8,.3l-7.9-1.6zM464.9,185.8l1-5.4l7.6-12.7l286.5-227.7l0,0l-279,244.5l-8.7,4.7l-4.2-.3l-2.8-2zM453.3,186.4l1.5,2.3l2.8,1l5.5-3.6l-7.9-1.6l-1.9,1.5zM458.3,191.1l-.7-1.4l5.5-3.6l1.8-.3l.4,1.1l-2.4,4.8l-.5,.3zM457.8,193.4l2.9,2.1l1.7-3.5l-4.1-.9zM475.7,196.8l5.3-12.3l-8.7,4.7l.7,4.9zM468.3,194.6l-.2-5.7l-2.8-2l-2.4,4.8l4.2,5zM473,194.1l-.7-4.9l-4.2-.3l.2,5.7zM460.7,195.5l.1,1.4l3.5,2.1l2.8-2.3l0,0l-4.2-5l-.5,.3zM475.7,196.8l5.3-12.3l279-244.5l0,0l0,0l0,186.5l-17.4,14l-232.7,56.9l-34,0zM123.4,189.2l-4.7,15.6l-5.2,.6l-7.4-17.6l5.3-2.3l8.5-.2zM102.6,212.2l10.9-6.8l-7.4-17.6l-7.9-.3l-1.4,2.4zM470.5,202.7l-4.9,1.5l-1.3-.9l0-4.3l2.8-2.3l4.7,2.7zM85.7,206l6.1,6.2l10,1.4l.8-1.4l-5.8-22.3l-9.6,5.4zM473.6,205.9l-3.1-3.2l-4.9,1.5l.8,1.9l3.7,2.5l3.6-2.1zM460.8,209.4l.4-4.7l3.1-1.4l1.3,.9l.8,1.9l-1.5,4.5zM466,212.9l3.8-2.3l.3-2l-3.7-2.5l-1.5,4.5zM197.7,220.3l-12-2.4l1.7-11l6.3-8.4l1.8,0l7.8,13.1zM471.4,216.8l.6-4.3l-2.2-1.9l-3.8,2.3l-.4,1.7l3.7,2.1zM469.3,216.7l-3.7-2.1l-2.3,1.3l-.4,5.6l3.9,0zM467.9,222.4l-1.1-.9l2.5-4.8l2.1,.1l1.7,1.3l-4.1,4zM469,222.1l4.1-4l1.8,.6l1.1,2.2l-3,2.9zM483.2,222.2l11.9-6.7l247.5-75l17.4-14l-264.9,98.9l-9.5,.1zM471.6,226.2l-3.1-.8l-.6-3l1.1-.3l4,1.7l-1.1,2.3zM463.7,226.7l-2.1-3.3l-.1-.4l1.4-1.5l3.9,0l1.1,.9l.6,3l-.9,.7zM267,228.5l9.2,2.5l2.7-6.5l-4.1-2.9l-7.4,.7zM467.6,226.1l.9-.7l3.1,.8l-2,5.1l-1-.4zM255.9,224.5l4.1,.9l1.2,3.6l-3.6,3.1l-4-1.6zM463.7,226.7l-2.1-3.3l-4.3,5.6l.1,.2l2.7,.9l3.6-2.7zM463.7,226.7l3.9-.6l1,4.8l-3.3,.1l-1.6-3.6zM470,231.8l4.3-.9l.7-2.2l-3.1-2.6l-.3,.1l-2,5.1zM484.3,228.4l2.5,3.5l8.3-6.5l-9.5,.1zM463.7,227.4l-3.6,2.7l1.4,3l2.4-.1l1.4-2zM272.4,235.4l-7.1-.3l-1.4-4.9l3.1-1.7l9.2,2.5l0,2.7l-.4,.5zM457.4,229.2l-.9,3.6l3.2,1.8l1.8-1.5l-1.4-3zM246,234.3l2.1-3l-6.9-1.6l-1.3,2.6l3.6,3.1l1.6-.6zM249.9,231.2l3.7-.7l4,1.6l.3,5.1l-.9,1.4l-.8,.1l-4.6-3zM469.9,232.8l-3.1,2.8l-2.8-2.4l-.1-.2l1.4-2l3.3-.1l1,.4l.4,.5l0,.2zM472.2,238.3l-1.3-1.4l-1-4.1l.1-.8l4.9,3.6l0,.1zM459.7,234.6l-.2,3.7l2.1,0l1.9-1.3l.5-3.8l-.1-.2l-2.4,.1zM470.9,236.9l-4-.1l-.1-1.2l3.1-2.8zM486.8,232.1l4.7,4.5l-3.4,2.9l-3.5-5.5zM199.9,225.5l-7.4,11.3l11.1,6.9l5.2-14.3zM466.4,237.7l-2.9-.7l.5-3.8l2.8,2.4l.1,1.2zM482.8,240.2l.7,.9l3.9-.6l.7-1l-3.5-5.5l-1.8,.5zM208.8,252.7l-1.9-1.7l-3.3-7.3l5.2-14.3l4-.4l2,3.4l2.8,14.5zM248.3,239.6l.3-.9l-2.6-4.4l-.9,.5l1.3,4.8zM248.6,238.7l3-3l-1.7-4.5l-.7-.4l-1.1,.5l-2.1,3zM466.7,240.8l-.3-3.1l.5-.9l4,.1l1.3,1.4l0,.4zM474.9,235.7l0-.1l1.5-1.9l3.3-.4l-1,5.7l-.4,.1zM479.7,233.3l-1,5.7l4.1,1.2l0-5.7l-2.9-1.3zM246.4,239.6l-1.3-4.8l-1.6,.6l-1.1,2.4l.1,.8l3.8,1.1zM466.2,241.6l-.9-.1l-3.7-3.2l1.9-1.3l2.9,.7l.3,3.1zM472.9,240.1l3.6,1.1l1.8-2.1l-3.4-3.4l-2.7,2.6l0,.4zM258.6,241.3l6.6-1.1l-.6-4.2l-6.7,1.2l-.9,1.4zM268.7,241.2l-2.5,.6l-1-1.6l-.6-4.2l.7-.9l7.1,.3zM243.4,245.1l-1.3,1.1l-.5,.1l-2.1-2.3l3-5.4l3.8,1.1zM243.4,245.1l2.9-5.4l.1-.1l1.9,0l1.8,2.5zM258.6,241.3l6.6-1.1l1,1.6l-.6,2.3l-2.8,1.3l-4-3.4zM275.5,243.9l4.3,3.1l2.5-1.2l1-8.5l-7.1-3.6l-.4,.5zM465.3,241.5l-3.7-3.2l-2.1,0l-.5,.5l1.1,2.1l3.6,1.3zM467.3,244.1l-1.1-2.5l.5-.8l5.5-2.1l.7,1.4l-1.1,3.1zM477.1,243.2l-.6-2l1.8-2.1l.4-.1l4.1,1.2l.7,.9l-.3,.7l-6,1.5zM488.1,239.5l-.7,1l2.6,4.2l270-208.7l0-38.5l-268.5,239.1zM275.5,243.9l.3-9.7l-3.4,1.2l-3.7,5.8l4.7,3.5zM251.4,242.8l4.8-4.1l.8-.1l1.6,2.7l.2,.7l-1.7,3.2l-1.8,1.3l-3.6-1.4zM472.8,244.9l4.3-1.7l-.6-2l-3.6-1.1l-1.1,3.1zM477.6,245l3.7,2.3l1.7-3.5l.2-2l-6,1.5zM243.4,245.1l-1.3,1.1l6.4,2.5l1-.3l2.2-3.3l-.3-2.3l-1.3-.7zM473,247.3l1.2,1.3l3.4-3.6l-.4-1.7l-.1-.1l-4.3,1.7zM194,250.8l12.9,.2l-3.3-7.3l-11.1-6.9l-3.8,1.1l-1.9,2l1,6.1zM467,245.4l.3-1.3l4.5-.9l1,1.7l.2,2.4l-1.4,0zM483,243.8l.2-2l.3-.7l3.9-.6l2.6,4.2l-.1,.3l-3.7,.8zM258.8,242l4,3.4l-1.1,3.5l-.3,0l-4.3-3.7zM263.8,252.1l-2.1-3.2l1.1-3.5l2.8-1.3l4.3,4.2l-.4,2.6l-3.2,2.3zM474.2,248.6l3.4-3.6l3.7,2.3l.1,.1l-3.1,4.9l-3.7-2.2zM481.4,247.4l3,1.4l.6-.5l1.2-2.5l-3.2-2l-1.7,3.5zM171.9,235.8l-11.6,5.2l-1.5,1.5l.5,1.1l14.9,9.1l2.8-13.2zM255.3,246.5l1,3.7l5.1-1.3l-4.3-3.7zM486.2,245.8l3.7-.8l0,0l-1.3,2.5l-3.6,.8zM181.1,256.3l-3.7,1.5l-1.5,0l-1.7-5.1l2.8-13.2l9.8,.4l1,6.1zM249.5,248.4l3.5,3l3-.6l.3-.6l-1-3.7l-3.6-1.4zM467,245.4l4.6,1.9l-2.5,2.2l-.5-.4l-1.8-3.2zM469.1,249.5l.7,1.6l2.8,.2l2-1.2l-.4-1.5l-1.2-1.3l-1.4,0zM484.4,248.8l1.3,2.3l2.7-1.9l.2-1.7l-3.6,.8zM489.9,245l0,0l.1-.3l270-208.7l0,190.5l-268.4,23.2zM269.5,250.9l.3,.2l9.4-.8l.6-3.3l-4.3-3.1l-2.1,.8l-3.5,3.6zM488.6,247.5l1.3-2.5l1.7,4.7l0,.1l-2.1,.2l-1.1-.8zM469.1,249.5l.7,1.6l-2,2l-2.6-1.7l3.4-2.3zM485,252.8l.8-1l-.1-.7l-1.3-2.3l-3-1.4l-3.1,4.9l.3,.9l3.1,1zM485.7,251.1l2.7-1.9l1.1,.8l-.5,2.6l-3.2-.8zM489,252.6l.5-2.6l2.1-.2l-.6,2.6l-1.4,.8zM241.6,246.3l.5-.1l6.4,2.5l-1.4,6.2l-7.4-1.3zM491,252.4l22.6,6.6l246.4-32.1l0-.4l-268.4,23.2l0,.1zM175.9,257.8l-1.7-5.1l-14.9-9.1l2,17.9l12.7-2zM247.2,254.9l-.1,0l1.4-6.2l1-.3l3.5,3l-.8,2.3zM269.8,251.1l9.4-.8l.7,3.1l-6.4,1.4zM489.6,253.2l.2,3l3.3,4.1l.5,.2l20-1.5l-22.6-6.6zM469.8,251.1l-2,2l.2,1.1l3.6,1.3l1-4.2zM472.6,251.3l-1,4.2l2.3,4.3l1.5-.6l3.2-6l-.3-.9l-3.7-2.2zM190.5,259.2l3.5-8.4l-6.2-4.8l-6.7,10.3zM198.4,268.7l-.9,0l-7-9.5l3.5-8.4l12.9,.2l1.9,1.7l0,3zM252.2,253.7l.8-2.3l3-.6l1.7,4.1l-3.6,2.1zM486.9,255.8l2.9,.4l-.2-3l-.6-.6l-3.2-.8l-.8,1zM106.7,253.5l-12-5.9l-2.9,2.9l.3,10.8l11.4-1.4zM263.8,252.1l-5.5,3l2.1,4.5l6,1.6l-.1-8zM273.6,262.4l6.3-2.5l1.5-4.2l-1.5-2.3l-6.4,1.4l-.7,7.5zM486.9,255.8l-1.9-3l-3.3,1.4l2.2,4.7zM254.1,257l3.6-2.1l.6,.2l2.1,4.5l-6.1,3l-1-3.5zM483.9,258.9l0,2.8l-1.1,.4l-7.4-2.9l3.2-6l3.1,1zM252.5,264.1l1-.3l.6-.6l.2-.6l-1-3.5l-5.5-2l-1.7,4.1zM120.5,260.7l-.1-4.9l17.2-8.3l1.3-.2l6.5,19.4l-3.3,8.8l-6.4,3.8l-6.9-5.1zM197.5,268.7l-7-9.5l-9.4-2.9l-3.7,1.5l11.2,15.1zM254.3,262.6l-.2,.6l8.5,4.3l3.9-6.3l-.1,0l-6-1.6zM91.1,264.6l.5-2.6l.5-.7l11.4-1.4l2.8,9.3l-8.2,2.8l-6.9-7zM177.9,285.1l-2.8-2.4l-1.1-23.2l1.9-1.7l1.5,0l11.2,15.1zM256.4,274.7l-2.9-10.9l.6-.6l8.5,4.3l-.1,.7zM174,259.5l1.1,23.2l-6.3-2.4l-8.1-18.1l.6-.7zM204.3,276.7l-5.9-8l10.4-13l8.7,7.8l-1.4,5.9zM219.9,277.9l7.9-4.8l-1.4-8.7l-8.9-.9l-1.4,5.9zM219.9,277.9l-3.8-8.5l-11.8,7.3l.8,2.3l13.3,1.6zM86.9,272.4l2.6,5.1l7.7-3.1l.9-2.4l-6.9-7zM81.1,272.4l-2.2,3.3l6.9,7.2l1.6,.1l2.1-5.5l-2.6-5.1zM108.4,270.3l-2.1-1.1l-8.2,2.8l-.9,2.4l5,15l.6,0l3.3-1.3l3.4-5.9l1.2-6.9zM87.4,283l2.1-5.5l7.7-3.1l5,15l-5.7,2.1l-1.2-.1zM110.7,275.3l-1.2,6.9l24.7,.5l1.5-3.4l-6.9-5.1zM204.3,276.7l-5.9-8l-.9,0l-8.9,4.2l-10.7,12.2l.3,1.1l21.9,6.8l1.3-.9l3.7-13.1zM125.3,296.3l-19.2-8.2l3.4-5.9l24.7,.5l-1.1,5zM218.4,280.6l1.6,3.8l-.2,11l-18.4-3.3l3.7-13.1zM75.1,293.5l3.7,.9l10.5,.3l6-3.3l-7.9-8.4l-1.6-.1l-13.1,7.5zM119.4,310.3l4.3-6.1l1.6-7.9l-19.2-8.2l-3.3,1.3l6.5,15.8l9.3,5.4zM180.3,313.8l14.2-7.3l5-7l.6-6.5l-21.9-6.8l-2.5,6.6l-.2,16.8l4.1,4.4zM75.1,293.5l0,5.6l-4.2,10.4l-90.6,3.9l59.1-29.3l11.2-3.7l4.2,1.1l17.9,8.9zM75.1,293.5l0,5.6l9,7.2l1.3-1.2l-6.6-10.7zM78.8,294.4l6.6,10.7l.1,0l3.8-10.4zM215.1,308.9l2.4-.9l3.1-11.6l-.8-1l-18.4-3.3l-1.3,.9l-.6,6.5l10.4,9.7zM84.1,306.3l-9-7.2l-4.2,10.4l9.5,5.8zM89.3,294.7l-3.8,10.4l11.1,1.6l-.1-15.2l-1.2-.1zM96.5,291.5l5.7-2.1l.6,0l6.5,15.8l-12,2.6l-.7-1.1zM233.7,310.5l-2.5-14.1l3.4-2.2l11.4,5.5l.3,7.7zM256.7,308.8l-10.2-1.1l-.2-.3l-.3-7.7l5.7-4l8.9,4.2l.2,7zM84.1,306.3l1.3-1.2l.1,0l11.1,1.6l.7,1.1l-.7,6.5l-14.5,4.9l-1.7-3.9zM118.6,310.6l-9.3-5.4l-12,2.6l-.7,6.5l8.6,7.9l7.8-3.9zM209.9,309.2l-10.4-9.7l-5,7l8.1,9.3l3.2-1.4zM254.5,320.5l-1.7,.8l-5.9-5.7l-.4-7.9l10.2,1.1zM246.9,315.6l-13.5,6.6l-3.1-5.4l3.4-6.3l12.6-3.1l.2,.3zM254.5,320.5l2.2-11.7l4.1-1.9l5.2,4.2l.1,.4l-9,8.9zM180.3,313.8l14.2-7.3l8.1,9.3l-2.3,4.7zM82.5,348.6l19.3-16.9l3.4-9.5l-8.6-7.9l-14.5,4.9l-5.3,29.4zM210.4,320l-4.6-5.6l4.1-5.2l5.2-.3l-2,10.4zM213.1,319.3l2-10.4l2.4-.9l7.9,7.5l-7.8,7.1zM200.6,321.9l-.3-1.4l2.3-4.7l3.2-1.4l4.6,5.6l-1.1,1.8zM246.3,331.5l-12.7-8.2l-.2-1.1l13.5-6.6l5.9,5.7l-2.1,6.5zM210.7,328.2l5.3,3.7l1.6-9.3l-4.5-3.3l-2.7,.7l-1.1,1.8zM200.2,327.1l-2.2,3l-1.6,.3l-16.9-12.1l.1-4.3l.7-.2l20,6.7l.3,1.4zM200.2,327.1l10.5,1.1l-1.4-6.4l-8.7,.1zM233.4,322.2l.2,1.1l-7.8,11.4l-8.8-.6l-1-2.2l1.6-9.3l7.8-7.1l4.9,1.3zM119.4,310.3l13,13l-3.2,10.2l-8.6-2.7l-7.6-12.5l5.6-7.7zM250.7,327.8l2.1-6.5l1.7-.8l2.6-.1l10.7,5.4l-.8,3.4l-7.3,2.3zM151.8,327.6l-12.8-7.1l-6.6,2.8l-3.2,10.2l1.7,4.7l4.2,1.9l18.7-2.9l1.4-1.5l-1.6-5.6zM200.2,327.1l-2.2,3l10.3,14.3l8.7-10.3l-1-2.2l-5.3-3.7zM120.6,330.8l-7.8,4.6l-11-3.7l3.4-9.5l7.8-3.9zM196.4,330.4l-10.5,11.5l-10.3-.7l-2.8-3.7l6.7-19.2zM198,330.1l-1.6,.3l-10.5,11.5l14.3,9.4l7.2-3.3l.9-3.6zM246.2,333.6l-3.2,5.1l-16.1-2.4l-1.1-1.6l7.8-11.4l12.7,8.2zM246.2,333.6l7.5,5.8l4.1-1.4l1-1l.9-5.5l-9-3.7l-4.4,3.7zM259.7,331.5l7.3-2.3l.7,1.4l-3.7,8.4l-5.2-2zM115.1,341.5l-6.7,19.2l-25.9-12.1l19.3-16.9l11,3.7zM129.2,333.5l1.7,4.7l-.1,.1l-15.7,3.2l-2.3-6.1l7.8-4.6zM115.1,341.5l-6.7,19.2l5,4.2l17.4-26.6zM258.8,337l5.2,2l1.4,4.9l-3.6,1l-4-6.9zM226.9,336.3l16.1,2.4l-.5,5.5l-7.3,5.5l-6.8-6.2zM253.7,339.4l.3,2.4l7.6,3.3l.2-.2l-4-6.9zM246.2,333.6l-3.2,5.1l-.5,5.5l7.4,5.2l2.2-2l1.9-5.6l-.3-2.4zM409.3,339.4l.2-.2l4.5,1.9l.4,3.7l-4.4,1.6l-2.1-4.5zM418.8,338.3l1.8,1.1l-.2,6.3l-4.7,.3l-1.3-1.2l-.4-3.7l4.5-2.8zM420.8,346.1l-.4-.4l.2-6.3l4.3-.8l1.9,.8l.6,3.5l-4.4,2.7zM260,347.4l1.6-2.3l-7.6-3.3l-1.9,5.6zM291.8,344.3l-7.5,8.5l-4.6-10.2zM298.3,342.6l-2.3,1.8l2.1,4.1l12.7-3.6l-.1-2.8l-1.6-1.1zM310.8,344.9l-.1-2.8l8.4-6.6l3.6,1.7l1,6.4l-8.6,6.8l-2.9-1.9zM130.9,338.2l4.2,1.9l4.8,32.9l-3,3.1l-16-.4l-.8-.7l-6.7-10.1l17.4-26.6zM226.9,336.3l-1.1-1.6l-8.8-.6l-8.7,10.3l-.9,3.6l7.7,5.6l3.3-1l10-9.1zM406.8,350.4l-3.9-6.8l5-1.7l2.1,4.5l-1.2,3.2zM135.1,340.1l4.8,32.9l10.7-6.3l3.2-29.5zM427.3,347.8l.8-4l-.7-.9l-4.4,2.7zM427.6,349.7l1.5,1.3l3.3-3.6l0-2.5l-4.3-1.1l-.8,4zM275.5,340.4l-1.2,15.3l-5.5-.6l-2.1-10.8zM283.2,357.9l-2.9,1l-.3-.1l-5.7-3.1l1.2-15.3l1-1l3.2,3.2l4.6,10.2l-1,4.9zM415.7,346l-1.3-1.2l-4.4,1.6l-1.2,3.2l5.1,2.2l.6-.3zM420.8,346.4l2.2,3.4l4.6-.1l-.3-1.9l-4.3-2.2l-2.2,.5zM260.3,356l3.2,1.9l5.3-2.8l-2.1-10.8l-1.3-.4l-3.6,1l-.2,.2l-1.6,2.3zM301.3,355.3l1.1,.8l9.8-7.6l-1.4-3.6l-12.7,3.6l.5,3zM406.8,350.4l-3.9-6.8l-2.6-.7l-2.1,4.2l2,3.3l5.5,1.5zM420.8,346.4l-3.4,5.6l-2.9-.5l1.2-5.5l4.7-.3l.4,.4zM429.1,351l3.3-3.6l4.1,2.3l-2.6,5.7l-3.2-1.6l-1.5-2.4zM420.8,346.4l-3.4,5.6l1.8,1.7l3.1-1.6l.7-2.3zM438.9,348.3l7.4,6l3.6,11l-14.6-7.7l-1.4-2.2l2.6-5.7zM283.3,357.7l1-4.9l7.5-8.5l1.6-1l2.6,1.1l2.1,4.1l.5,3zM395.5,348.2l.5,5.8l2.4-.4l1.8-3.2l-2-3.3l-2.2,.7zM395.5,348.2l-4.6,1.3l-.5,.9l-.1,.4l4.1,3.6l1.2-.2l.4-.2zM427.6,349.7l1.5,1.3l.1,.4l-4.8,2.6l-2.1-1.9l.7-2.3zM200.2,351.3l-14.3-9.4l-10.3-.7l-2.6,25.2l3.6,3.2l19.1-7.3zM405.7,352.9l0-1l-5.5-1.5l-1.8,3.2l2.1,2.7l3.6,0zM312.2,348.5l2.9,1.9l1.7,3.5l-4.9,8.4l-1.4,.5l-1.5-.1l-5-3l-1.6-3.6zM410.7,356.2l2.3-.6l.9-3.8l-5.1-2.2l-2,.8l-1.1,1.5l0,1zM419.3,354.9l1.5,4l3.6-1.2l0-3.7l-2.1-1.9l-3.1,1.6zM424.4,354l4.8-2.6l1.5,2.4l-4.8,4.3l-1.5-.4zM389.8,356.3l-1.5-.9l-.6-1.3l2.6-3.3l4.1,3.6l-1.3,2zM419.3,354.9l-5.3,2l-1-1.3l.9-3.8l.6-.3l2.9,.5l1.8,1.7zM394.5,362.2l2.7-1.6l.3-1l-1.9-5.4l-1.2,.2l-1.3,2zM400.5,356.3l-2.1-2.7l-2.4,.4l-.4,.2l1.9,5.4zM419.3,354.9l-5.3,2l.7,2.3l5.8,.3l.3-.6zM283.2,357.9l1.6,1.3l6.5,2.2l10-6.1l-2.7-3.8l-15.3,6.2zM383.3,353.8l-1.7,7.8l5-.6l1.7-5.6l-.6-1.3zM394.5,362.2l-1.4-5.8l-3.3-.1l2,6.1l2.2,.3zM410.7,356.2l-5-3.3l-1.6,3.4l1,3.2l.3,.1l4.1-1.1zM391.8,362.4l-1.7,.3l-3.5-1.7l1.7-5.6l1.5,.9zM410.7,356.2l2.3-.6l1,1.3l.7,2.3l-2,3.2l-3.2-3.9zM426.6,359.1l4.4,1.4l4.3-2.9l-1.4-2.2l-3.2-1.6l-4.8,4.3zM405.1,359.5l-1.3,1.6l-2.4,.9l-4.2-1.4l.3-1l3-3.3l3.6,0zM409.5,358.5l3.2,3.9l-.1,.6l-.7,1.2l-1.3,.2l-5.2-4.8zM291.3,361.4l5.4,6.3l7.3-8l-1.6-3.6l-1.1-.8zM420.8,358.9l-.3,.6l.2,3.2l5.6,1.3l.3-4.9l-.7-1l-1.5-.4zM426.6,359.1l4.4,1.4l-1.6,5l-2.4-.7l-.7-.8zM420.5,359.5l-5.8-.3l-2,3.2l-.1,.6l7.7,.4l.4-.7zM215.1,353.6l-7.7-5.6l-7.2,3.3l-4.5,11l5.1,5.4l7.9,1.7l5.1-.8l4.4-3zM394.5,362.2l2.7-1.6l4.2,1.4l-.6,7.1l-2.9,1.8l-1.6-.4l-2.3-7.8zM403.8,361.1l2.4,6.4l-.4,.8l-5,.8l.6-7.1zM405.1,359.5l-1.3,1.6l2.4,6.4l4.4-3.1l-5.2-4.8zM431,360.5l-1.6,5l.1,.1l28.9,10.7l-8.5-11l-14.6-7.7zM390.1,362.7l-3.1,5.5l-6-2.2l-.6-3.4l1.2-1l5-.6zM284.8,359.2l6.1,18l2-.3l3.4-3.3l.4-5.9l-5.4-6.3zM426.3,364l.7,.8l-3.9,4.1l-2.7-2.7l-.4-.8l.3-2l.4-.7zM394,362.7l2.3,7.8l-5.8,3.3l-3.5-5.6l3.1-5.5l1.7-.3zM283.2,357.9l-2.9,1l0,14.7l7.2,5.3l3.4-1.7l-6.1-18zM423.1,368.9l3.9-4.1l2.4,.7l.1,.1l-3.8,10.2l-1.3-1zM420.4,366.2l-3.5,7.1l0,0l7.5,1.5l-1.3-5.9zM345.4,375.6l.7-6.4l4.4-4.3l7.3,.3l-3.4,9.1zM200.8,367.7l-1.4,12.8l-20,.9l-2.8-11.8l19.1-7.3zM207.1,380l1.6-10.6l-7.9-1.7l-1.4,12.8l2.2,1.8zM82.5,348.6l25.9,12.1l5,4.2l6.7,10.1l-24.6,8.6l-34.1-28.5l15.4-6.5zM410.6,378.2l5.6-3.4l0,4.7l-4.7,1.1zM345.2,375.8l4.3,7l2.2,.1l5-5.3l-2.3-3.3l-9,1.3zM61.4,355.1l-121.4,119.6l24.3-42l125.4-39.4l5.8-9.7zM269.6,375.5l3.4,5.6l6.5,3.6l7.1-3.8l.9-2l-7.2-5.3l-9.5,.9l-1.2,.9zM226.6,382.9l-5.9-3.7l-2.6,1.4l3.6,11l4.4-2.5zM351.7,382.9l4.9,4.1l5-4.2l-1.1-3.7l-3.8-1.5zM411.5,380.6l4.7-1.1l17.7,15.8l-20.2-8.5l-2.5-4.6zM212.4,395.8l3.2,1.4l1.3-.5l4.8-5.1l-3.6-11l-3.8-.5l-1.5,1.2zM173,366.4l-22.4,.3l-10.7,6.3l-3,3.1l3.7,6.7l18.3,12.1l18.8-1.1l1.7-12.4l-2.8-11.8zM345.2,375.8l-1.1,.3l-5.6,6l8,6.3l3-5.6zM203.8,395.3l-.4,.2l-19.6,3.3l-4-1.6l-2.1-3.4l1.7-12.4l20-.9l2.2,1.8zM349.5,382.8l-3,5.6l.1,2.3l1.1,2.9l7.3,2l.5-.5l1.1-8.1l-4.9-4.1zM309.3,395.7l6.1-7.9l-2.3-3.6l-4.3-.3l-5.7,3.6l3.7,6.8zM338,392l-.1-2.9l8.7,1.6l1.1,2.9l-.6,.5l-5.7,.2zM309.3,395.7l6.1-7.9l4,2.7l-2.8,10.7l-.1,.1l-5.1-2.6zM290.8,401.8l-6.6-4.7l4-8.1l8.5,3.6l-.3,3.8zM335.4,395.2l-1.2,0l-.9-.9l-2.6-10.2l1.2-.4l2,.2l4,5.2l.1,2.9zM403.6,391.6l3.4-1.7l10.6,19.2l-10.6-7.3l-3.8-7.2zM120.1,375l.8,.7l-3.9,12.1l-13.7,14l-13.6-8.5l5.8-9.7zM335.4,395.2l2.6-3.2l3.4,2.3l-3.5,2.7zM316.6,401.2l2.8-10.7l5.3-1.1l2.2,6.5l-.2,2.1l-1.6,3.3zM324.7,389.4l4.9-5.3l1.1,0l2.6,10.2l-6.4,1.6zM236.3,397.4l-6.7,5.6l-12.7-6.3l4.8-5.1l4.4-2.5l7.3,1.5zM306.8,394.3l-3.7-6.8l-1.2-.1l-5.2,5.2l-.3,3.8l3.7,2.1l2.1,.2zM326.9,395.9l6.4-1.6l.9,.9l-1.3,3.2l-6.2-.4zM337.9,397l1.4,4.8l2.8,1.1l5-8.8l-5.7,.2zM335.4,395.2l-1.2,0l-1.3,3.2l1.3,4.4l5.1-1l-1.4-4.8zM326.7,403.3l-1.6-2l1.6-3.3l6.2,.4l1.3,4.4l-2.1,2l-2.2,.3zM309.3,395.7l2.1,3l-6.2,4.1l-3-4.1l4.6-4.4zM103.3,401.8l-13.6-8.5l-125.4,39.4l13.2-.4l121-15.6l3.9-5.5zM291.3,404.6l-.5-2.8l5.6-5.4l3.7,2.1l-.5,6zM395.9,399.1l11.1,2.7l10.6,7.3l39.2,36.3l-60.9-39.5l-2.7-6.1zM215.6,397.2l-.2,15l1.8,2.4l13.3-5.4l-.9-6.2l-12.7-6.3zM304.3,407.9l-7.1,3.7l-6.3-5l.4-2l8.3-.1l4.5,2.9zM304.3,407.9l1.3,1l-1.5,10.9l-6.5,.7l-.4-8.9zM290.9,406.6l-1.5,1.6l2.6,10.1l4.3,3.1l1.3-.9l-.4-8.9zM314.9,409.2l-9.3-.3l-1.5,10.9l5.4,2.4l.9-.2l6.1-6.5l.1-3zM102.4,411.2l-3.9,5.5l12.9,16.5l2.2-.3l10.9-20.1l-1.1-1zM329.7,418.9l-.9,4.4l-4.3,4l-3.9-8.9l5.8-1.2zM246.5,413.9l11.6,8.2l0,0l-.5,1.3l-7.9,.6l-3.5-9.9zM241,429.8l2.4-15.2l2.8-.5l3.5,9.9l-6.7,6.2zM329.7,418.9l-.9,4.4l7.4,1.6l2-6.3l-1.6-.7l-4.4-.7zM324.5,427.3l-.6,2.6l-1,.8l-3,.5l-2-.9l-7.5-8.3l6.1-6.5l4.1,2.9zM139.3,415.9l-7.7,21.9l-3.8,1.5l-14.2-6.4l10.9-20.1l12.9,1.2zM328.8,423.3l7.4,1.6l.6,2.3l-4.5,5l-8.4-2.3l.6-2.6zM243,430.2l6.7-6.2l7.9-.6l.1,3.6l-3.7,6.3l-6,.3zM306.1,430.2l-11.4,1.4l-1.5-2.3l3.1-7.9l1.3-.9l6.5-.7l5.4,2.4l-3.2,7.9zM149,424.4l-.7,16.5l25.6-3l.2-4l-2.6-4.8zM349.7,432.3l3.4-5.9l7.8,6.1l-1.3,2l-.1,.1zM141.5,416.3l-2.2-.4l-7.7,21.9l13.6,5.2l3.1-2.1l.7-16.5zM111.4,433.2l-8.1,9.9l-125.8-10.8l121-15.6zM336,438l7.5-7.6l-.3-.9l-6.4-2.3l-4.5,5l3,5.9zM348.5,441.1l-1-.6l-.4-6.9l2.6-1.3l9.8,2.3l-.9,1.2zM370.7,438.5l-.1,0l-3.3-5.9l7.1-2.8l5.1,3.4zM282.4,443.8l-8.2,1.8l-7.4-4.3l2.7-8l.4-.5l11.1-4.2zM295.3,435.4l-7.2,8.2l-4.1,1.1l-1.6-.9l-1.4-15.2l.1-.1l12.1,.8l1.5,2.3zM359.6,434.5l1.3-2l2.4-1.7l4,1.8l3.3,5.9l-4.7,5.3zM248,433.6l6-.3l8,10l-.5,.7l-14.2-2.4zM350.8,444.7l7.2-2.9l.6-6l-10.1,5.3zM358,441.8l2.6,3.7l1.8,0l3.5-1.5l0-.2l-6.3-9.3l-.1,.1l-.9,1.2zM350.8,444.7l.7,2.2l4.4,1.9l4.7-3.3l-2.6-3.7zM107.2,457.8l-3.9-14.7l8.1-9.9l2.2-.3l14.2,6.4l-2.8,18.4zM125,457.7l2.8-18.4l3.8-1.5l13.6,5.2l1.6,14.9l-6.3,9.9l-6.9-.1zM170.7,454.8l-23.9,3.1l-1.6-14.9l3.1-2.1l25.6-3l2.9,7.1zM360.6,445.5l1.8,0l-.3,18.3l-6.2-15zM362.2,464.5l2.3,2.1l36.9,20.9l-35.5-43.5l-3.5,1.5l-.3,18.3zM104.1,462.8l-164.1,86.4l0,210.8l0,0l0-212.5l0-62.2l0-10.6l24.3-42l13.2-.4l125.8,10.8l3.9,14.7zM351.5,446.9l-3.7,5.4l7.6,9.6l6.8,2.6l-.1-.7l-6.2-15zM295.1,461.6l11.1-6l.7,1.3l-5.6,8l-6-2.7zM288,465.9l-2.5-3l2.8-5.8l4.5,1.7l1.3,1.9zM288,465.9l6.1-5.2l1,.9l.2,.6l-1.3,6l-.4,.6l-1.7,1.6l-2.3-.4zM294,468.2l7.4-1.5l-.1-1.8l-6-2.7zM301.3,464.9l5.6-8l7.6,6.6l.2,.5l-6.8,8.9l-3.2-.5l-.5-.6l-2.8-5.1zM288,465.9l-2.5-3l-6.1,1.1l1.4,5.3l5,2.8l3.8-2.1zM106,466.6l-1.9-3.8l3.1-5l17.8-.1l8.6,10l-6.9,7.8zM294,468.2l7.4-1.5l2.8,5.1l-10.6-3zM217.7,474.7l8.8-7.8l7.9,6.1l-.6,3.8l-1.7,1.8l-10.6,.7zM293.6,468.8l10.6,3l.5,.6l-8.8,5.6l-4-7.6zM106,466.6l20.7,8.9l-1.7,3.3l-5.8,1.7l-12.1-8zM106,466.6l-1.9-3.8l-164.1,86.4l23.7-26.8l140-38l3.4-11.9zM289.6,470l-3.8,2.1l-1.9,6.8l11.3,1.9l.7-2.8l-4-7.6zM309.2,476l-1.3-3.1l6.8-8.9l3.5,1.6l1.8,9.2l-7.8,2.5zM107.1,472.5l-3.4,11.9l7,2.4l8.5-6.3zM312.2,477.3l7.8-2.5l3.8,4.2l-6.4,4.1zM296.6,485.6l-1.4-4.8l.7-2.8l8.8-5.6l3.2,.5l1.3,3.1l-3.1,9.1zM315.3,490.1l2.1-7l-5.2-5.8l-3-1.3l-3.1,9.1l6.4,6.4zM294,490.7l-7.6,.1l-.6-.1l-6.7-7l.2-1.6l4.6-3.2l11.3,1.9l1.4,4.8zM126.7,475.5l6.9-7.8l6.9,.1l1.4,1.6l2.8,9l-2.5,12.9l-13.7,1l-3.5-13.5zM218,486.3l3.5-7l10.6-.7l.3,17.1l-.5,.4l-1.8,1.3l-4.1,.2l-6.7-6.6zM250.1,486.9l-.1-2.9l-16.2-7.2l-1.7,1.8l.3,17.1l8.3-1zM119.2,480.5l-8.5,6.3l4,13l11.1-2.4l2.7-5.1l-3.5-13.5zM345.3,497.4l-1.7-10l34.1,.2l30.3,4.6l-54.8,6.5zM110.7,486.8l-7-2.4l-140,38l145.9-16.6l5.1-6zM204.7,484.1l-2.7-4l-3.4-1.1l-6.8,.7l-4.9,14l2.4,9.2l11.4-4.4l2-1.7l2.3-6.1zM312.5,491.5l-6.4-6.4l-9.5,.5l-2.6,5.1l.2,.5l4,3.4l13.7-1.1zM311.9,493.5l-13.7,1.1l3.4,8.4l3.9,2.4l6.4-2.8zM345.3,497.4l-7.4,2.4l.9,5.5l4.4,2.7l2-.2l8-9.1zM213.5,502.5l11.9-4.3l-4.4,12.5l-10.1-1.4zM232.6,508.1l-2.5-10.7l1.8-1.3l11.5,12.2l-1.3,3.8l-3,1.9l-1-.1zM353.2,498.7l54.8-6.5l.2,0l24.9,8.8l13,6.3l-88.8,8.8l-12.1-8.3zM337.9,499.8l-2.4-1.6l-4.7-.5l-5.3,8.8l4.6,3.3l6.2-1l2.5-3.5zM232.6,508.1l-2.5-10.7l-4.1,.2l-.6,.6l-4.4,12.5l2.6,4.3zM343.2,508l.1,7.1l3.7,1.8l7.3,.2l3-1l-12.1-8.3zM330.6,519.1l-.5-9.3l6.2-1l1.2,7.8l-1.3,1.8zM343.2,508l.1,7.1l-5.8,1.5l-1.2-7.8l2.5-3.5zM326.9,521.5l-2.4-1.6l-1.1-2.8l.3-10l1.8-.6l4.6,3.3l.5,9.3zM336.2,518.4l1.3-1.8l5.8-1.5l3.7,1.8l-4.6,6.1l-3.3-.3zM346.4,526.6l7.9-9.5l-7.3-.2l-4.6,6.1zM327,523l-1.5,3.3l-7.5,1.8l-3-.8l3.4-6.3l6.1-1.1l2.4,1.6zM327,523l9.9,7.3l.1-.2l2.1-7.4l-2.9-4.3l-5.6,.7l-3.7,2.4zM304.8,532.1l-2.1,1.5l-5.5-1l-3.4-2.2l-1.3-6.8l9.5-7l5.3,2.9l.7,2.2zM339.1,522.7l3.3,.3l4,3.6l0,3.1l-9.4,.4zM312.8,531.9l-8,.2l3.2-10.4l6.4,5.8zM312.8,531.9l2.3,4.1l5.3-1.8l-2.4-6.1l-3-.8l-.6,.2zM320.4,534.2l-2.4-6.1l7.5-1.8l.2,5.1l-2.2,2.9zM327,523l-1.5,3.3l.2,5.1l9.6,4.1l1.6-5.2zM336.9,530.3l-1.6,5.2l.2,.8l7.3,3.8l.9-.4l4.2-8.1l-1.5-1.9l-9.4,.4zM312.8,531.9l2.3,4.1l-1,4.8l-2.8,.5l-8.2-7l-.4-.7l2.1-1.5zM331.5,541l4-4.7l-.2-.8l-9.6-4.1l-2.2,2.9l1,3.8zM319.8,544.2l-1.6,.6l-4.1-4l1-4.8l5.3-1.8l3.1,.1l1,3.8zM343.7,539.7l4.2-8.1l29.3,3l-29.2,7zM311.3,541.3l-7.5,7l-.8-1.6l.1-12.4zM289.3,534.9l4.5-4.5l3.4,2.2l0,8.8l-6.9,4.7l-4.6,.9l-1-2.6zM303.1,534.3l-.1,12.4l-5.8-5.3l0-8.8l5.5,1zM331,546.2l.5-5.2l-7-2.9l-4.7,6.1l10.5,2.7zM350.9,552.9l385.3,69.1l-94.7-50.8l-133.7-41l-130.6,4.4l-29.2,7zM303.8,548.3l-.8-1.6l-5.8-5.3l-6.9,4.7l13.4,2.7zM331,546.2l9.5,2.4l2.3-8.5l-7.3-3.8l-4,4.7zM340.5,548.6l2.1,4.3l5.5,.5l2.8-.5l-2.9-11.3l-4.3-1.9l-.9,.4zM314.1,540.8l4.1,4l-.6,4.5l-.5,.6l-12.5,4.3l-.9-5.4l.1-.5l7.5-7zM330.3,546.9l-1.3,5.3l-1.3,.4l-3.9,0l-6.2-3.3l.6-4.5l1.6-.6zM283.3,567.5l13.8-2.5l5.4-4l2.1-6.8l-.9-5.4l-13.4-2.7l-4.6,.9zM331,546.2l9.5,2.4l2.1,4.3l-6,6.8l-2.4-1.2l-5.2-6.3l1.3-5.3zM310.9,562.8l7-5.4l-.8-7.5l-12.5,4.3l-2.1,6.8zM323.8,552.6l-6.2-3.3l-.5,.6l.8,7.5l3.2,1zM327.7,552.6l-3.9,8.1l-.9-.2l-1.8-2.1l2.7-5.8zM327.7,552.6l1.3-.4l5.2,6.3l-8.9,3.2l-1.5-1zM321.1,558.4l-3.2-1l-7,5.4l5.4,4.2l6.6-6.5zM348.1,553.4l-1.8,10.3l-5.2,1.9l-3.7-2l-.8-3.9l6-6.8zM348.1,553.4l-1.8,10.3l289.5,61.7l124.2,19.3l-23.8-22.7l-385.3-69.1zM326.1,566.6l-.8-4.9l8.9-3.2l2.4,1.2l.8,3.9l-3.3,4zM324.2,568.6l-6.8,.3l-1.1-1.9l6.6-6.5l.9,.2l1.5,1l.8,4.9zM393.3,589.3l-49.6-18.9l-2.6-4.8l5.2-1.9l289.5,61.7l-199.1-24.5zM324.2,568.6l3.5,8.5l5,1.2l1.4-10.7l-8-1zM334.1,567.6l3.3-4l3.7,2l2.6,4.8l-6.1,9l-3.3,.8l-1.6-1.9zM393.3,589.3l-49.6-18.9l-6.1,9zM393.3,589.3l-55.7-9.9l-3.3,.8l-.9,7.9l20.6,11.1l82.7,1.7zM354,599.2l-18.4,6.7l-4.3-1.7l-2.4-1.7l1.7-12.2l2.8-2.2zM436.7,600.9l199.1,24.5l124.2,19.3l0,115.3l0,0l0,0l-423.7-140.5l-.7-13.6l18.4-6.7zM103.3,401.8l13.7-14l6.4,24l-21-.6zM164,468.7l6.5-8.6l.2-5.3l-23.9,3.1l-6.3,9.9l1.4,1.6l12.8,1.9zM61.1,205.3l6.3,9.8l-6,8.2l-35.8-2.1l-4-1.7l4.5-6.4zM85.7,206l6.1,6.2l-10.8,11l-.9,.1l-6.7-8.2l4.4-8zM67.3,231.2l-5.9-7.9l-35.8-2.1l25.9,20.1l2.1,.5l9-3.5zM73.4,231.2l6.7-7.9l.9-.1l6.6,5.4l1.6,8.4l-10.3,3.6zM77.8,207.1l-4.4,8l-6,0l-6.3-9.8l2.9-4.3l7.1-1.8zM74.6,250.8l-12-12.5l4.7-7.1l6.1,0l5.5,9.4l-2.8,9.4l-.7,.7zM250.1,242.1l1.3,.7l4.8-4.1l-4.6-3l-3,3l-.3,.9zM263.9,230.2l1.4,4.9l-.7,.9l-6.7,1.2l-.3-5.1l3.6-3.1zM269.9,248.3l3.5-3.6l-4.7-3.5l-2.5,.6l-.6,2.3zM256,250.8l.3-.6l5.1-1.3l.3,0l2.1,3.2l-5.5,3l-.6-.2zM266.3,253.2l.1,8l.1,0l4.7,1.4l1.6-.3l.7-7.5l-3.7-3.7l-.3-.2zM247.2,254.9l5-1.2l1.9,3.3l-.8,2.1l-5.5-2z"/>
<path id="k2" d="M471.8,199.4l-4.7-2.7l0,0l1.2-2.1l4.7-.5l2.7,2.7l.2,.6l-.2,.4zM483.3,207l26.6-9.6l-34,0l-.2,.4l.8,3zM476.5,200.8l-.8-3l-3.9,1.6l-1.3,3.3l3.1,3.2zM478.2,209.7l-4.5-3.2l-.1-.6l2.9-5.1l6.8,6.2l-3.8,3zM478.2,209.7l-6.2,2.8l-2.2-1.9l.3-2l3.6-2.1zM473.1,218.1l1.8,.6l4.5-7.3l.1-1.4l-1.3-.3l-6.2,2.8l-.6,4.3zM479.5,210l-.1,1.4l3.3,5.1l12.4-1l247.5-75l-232.7,56.9l-26.6,9.6zM481.4,221.6l1.3-5.1l-3.3-5.1l-4.5,7.3l1.1,2.2l2.7,1.5zM481.4,221.6l1.3-5.1l12.4-1l-11.9,6.7zM471.9,226.1l3.1,2.6l3.7-1.6l0-4.7l-2.7-1.5l-3,2.9zM480.3,229.1l4-.7l1.3-2.9l-2.4-3.3l-1.8-.6l-2.7,.8l0,4.7zM474.3,230.9l2.1,2.8l3.3-.4l.2-.1l.4-4.1l-1.6-2l-3.7,1.6zM479.9,233.2l.4-4.1l4-.7l2.5,3.5l0,.2l-2.2,1.9l-1.8,.5zM474.9,235.6l1.5-1.9l-2.1-2.8l-4.3,.9l0,.2zM159.3,243.6l-.5-1.1l-16.4-.4l-3.5,5.2l6.5,19.4l15.3-4.5l.6-.7zM168.8,280.3l-8.1-18.1l-15.3,4.5l-3.3,8.8l10.6,6.2zM178.2,286.2l-2.5,6.6l-20,2.4l-3-13.5l16.1-1.4l6.3,2.4l2.8,2.4zM149.2,304.5l-16.1-16.8l1.1-5l1.5-3.4l6.4-3.8l10.6,6.2l3,13.5l-4.8,9.4zM152.3,305.8l-1.4-1.2l4.8-9.4l20-2.4l-.2,16.8l-8.3,.9zM149.2,304.5l-16.1-16.8l-7.8,8.6l-1.6,7.9l17.4,6.4zM119.4,310.3l4.3-6.1l17.4,6.4l-2.1,9.9l-6.6,2.8zM151.8,327.6l-12.8-7.1l2.1-9.9l8.1-6.1l1.7,.1l1.4,1.2zM151.8,327.6l.5-21.8l14.9,4.7l-13.6,19.6zM179.6,314l-4.1-4.4l-8.3,.9l-13.6,19.6l1.6,5.6l17.6,1.8l6.7-19.2zM175.6,341.2l-2.6,25.2l-22.4,.3l3.2-29.5l1.4-1.5l17.6,1.8zM420,365.4l.3-2l-7.7-.4l-.7,1.2l2.3,3.7zM377.1,372.3l-3.6-.6l-1.9-2l-1.5-5.5l6-3.3l4.3,1.7l.6,3.4l-2.7,6zM303.7,373.5l5.3-10.8l-5-3l-7.3,8l-.4,5.9zM414.1,370.4l.1-2.5l-2.3-3.7l-1.3,.2l-4.4,3.1l-.4,.8l2.5,3.4zM420.4,366.2l-.4-.8l-5.8,2.5l-.1,2.5l1.6,1.9l1.2,1zM312.6,372.9l-6.5,2.1l-2.4-1.5l5.3-10.8l1.5,.1zM371.6,369.7l-1.5-5.5l-7.6-2.9l-.2,0l-3.3,3.2l-.2,.2l2.5,4l4.7,3.1zM378.3,372l2.7-6l6,2.2l3.5,5.6l-1.3,2.3l-7.7-1.3zM408.3,371.7l-2.5-3.4l-5,.8l-2.9,1.8l2.1,3.4l5.7,2.4l1.8-.8zM366,371.8l-4.7-3.1l.3,9l4.5-1.8zM373.5,371.7l-3.8,5.6l-3.6-1.4l-.1-4.1l5.6-2.1zM354.4,374.3l3.4-9.1l1-.5l2.5,4l.3,9l-1.1,1.4l-3.8-1.5zM414.1,370.4l-5.8,1.3l-.8,4.2l1.2,.6l7-4.2zM416.9,373.3l-1.2-1l-7,4.2l1.9,1.7l5.6-3.4l.7-1.5zM377.1,372.3l-3.6-.6l-3.8,5.6l1.3,5l1.6,.9l2.1-1.1zM369.7,377.3l1.3,5l-7.1,1.7l-2.3-1.2l-1.1-3.7l1.1-1.4l4.5-1.8zM377.1,372.3l-2.4,9.8l4.6-.1l2.2-7.2l-3.2-2.8zM389.8,380.1l8.4,2.5l1.8-8.3l-2.1-3.4l-1.6-.4l-5.8,3.3l-1.3,2.3zM400.3,383.3l5-5.4l.4-1.2l-5.7-2.4l-1.8,8.3l.3,.2zM301.9,387.4l-9-10.5l3.4-3.3l7.4-.1l2.4,1.5l2.7,8.9l-5.7,3.6zM381.5,374.8l7.7,1.3l.6,4l-3.7,6.7l-.2,0l-6.6-4.8zM258.3,371.3l11.3,4.1l0,.1l-4.8,9.3l-6.5,1.4l-1.1-.5l.5-14.1zM407.5,375.9l-1.8,.8l-.4,1.2l1.8,5l4.1-.7l.3-1.6l-.9-2.4l-1.9-1.7zM401.5,384.3l3.5,.8l2.1-2.2l-1.8-5l-5,5.4zM270.1,388.9l2.9-7.8l-3.4-5.6l-4.8,9.3zM271.2,390.7l5.7-1.3l2.6-4.7l-6.5-3.6l-2.9,7.8zM407.3,389.1l6.4-2.3l-2.5-4.6l-4.1,.7l-2.1,2.2zM374.7,382.1l-2.1,1.1l.2,1.7l6.4,5.5l6.7-3.6l-6.6-4.8zM398.5,382.8l-.3-.2l-8.4-2.5l-3.7,6.7l3.4,4.9l4.5-1.6l2.3-2.3zM372.6,383.2l-1.6-.9l-7.1,1.7l1.3,6.6l2.6,1.1l2.9-1.8l2.1-5zM286.6,380.9l1.6,8.1l8.5,3.6l5.2-5.2l-9-10.5l-2,.3l-3.4,1.7zM355.5,395.1l1.1-8.1l5-4.2l2.3,1.2l1.3,6.6l-8,4.4zM401.5,384.3l-.3,5l-1.5,.4l-3.4-1.9l2.2-5l1.8,.5zM401.5,384.3l3.5,.8l2.3,4l-.3,.8l-3.4,1.7l-.4-.2l-2-2.1zM271.2,390.7l-1.5,3.4l-6.7,3.7l-4.7-11.6l6.5-1.4l5.3,4.1zM286.6,380.9l1.6,8.1l-4,8.1l-1.3,.1l-6-7.8l2.6-4.7zM377,394.2l.5-.3l1.7-3.5l-6.4-5.5l-2.1,5l5.5,4.2zM396.3,387.8l-2.3,2.3l4.4,2.2l1.3-2.6zM399.7,389.7l-1.3,2.6l.2,.3l4.6-1.2l-2-2.1zM398.4,392.3l-4.4-2.2l-4.5,1.6l.2,6.9l3.5,1.2l2.7-.7l2.9-4l-.2-2.5zM248.9,388.1l8.3-2.4l1.1,.5l4.7,11.6l-1.7,3.6l-2.7-.1l-9.7-13zM376.2,394.1l-5.5-4.2l-2.9,1.8l1.2,5.7zM379.2,390.4l-1.7,3.5l9.7,6.2l.6-.1l1.9-1.4l-.2-6.9l-3.4-4.9l-.2,0zM398.6,392.6l.2,2.5l4.4-.5l.4-3l-.4-.2zM271.2,390.7l5.7-1.3l6,7.8l-5.3,4.2l-7.9-7.3zM368.4,399.1l-.9,.6l-10.3-4.7l8-4.4l2.6,1.1l1.2,5.7zM403.2,394.6l3.8,7.2l-11.1-2.7l2.9-4zM374.4,402l-6-2.9l.6-1.7l7.2-3.3l.8,.1l-.6,5.9zM376.4,400.1l8.4,1.7l2.4-1.7l-9.7-6.2l-.5,.3zM276.5,402.5l.9-.3l.2-.8l-7.9-7.3l-6.7,3.7l-1.7,3.6l.8,1.3zM367.5,399.7l-10.3-4.7l-1.7,.1l-.5,.5l.1,5.2l2.5,4.7l3,1.5l5.2-2.8zM304.1,407.4l1.1-4.6l-3-4.1l-2.1-.2l-.5,6zM347.7,393.6l7.3,2l.1,5.2l-9.7,5.4l-1.9-.8l-.5-.6l-.9-1.9l5-8.8zM374.4,402l.5,3.2l1.7,1.5l6.3-2.1l1.9-2.8l-8.4-1.7zM304.3,407.9l1.3,1l9.3,.3l1.6-7.9l-5.1-2.6l-6.2,4.1l-1.1,4.6zM266.7,410.6l9.8-8.1l-14.4,.2l1.4,4.8zM290.9,406.6l-1.5,1.6l-5.6,2.7l-4.6-2.4l-1.8-6.3l.2-.8l5.3-4.2l1.3-.1l6.6,4.7l.5,2.8zM266.7,410.6l2.9,5l.4,.2l.2,0l9-7.3l-1.8-6.3l-.9,.3zM326.7,403.3l-1.6-2l-8.5-.1l-.1,.1l-1.6,7.9l1.7,3.3l5.7-1.5zM345.4,406.2l1.6,2.4l5,2.7l5.6-5.8l-2.5-4.7zM343,404.8l-7.9,4.2l-3-4.2l2.1-2l5.1-1l2.8,1.1zM326.7,403.3l-4.4,7.7l4.5,.9l1.5-.6l1.6-6.2zM374.9,405.2l1.7,1.5l.3,3.5l-.6,1.9l-2.8,2.2l-3.7-1.4l.1-5.4zM393.2,399.8l2.7,6.1l-4.1,4.7l-2.3-.6l-1.7-10l1.9-1.4zM343.5,405.4l-3.2,6.1l-5.1-1.6l-.1-.9l7.9-4.2zM376.6,406.7l6.3-2.1l.6,5.5l-6.6,.1zM382.9,404.6l1.9-2.8l2.4-1.7l.6-.1l1.7,10l-4.1,2.8l-1.9-2.7zM456.8,445.4l6.5,5.5l-59.7-25.2l-11.8-15.1l4.1-4.7zM329.9,405.1l2.2-.3l3,4.2l.1,.9l-.1,.1l-4.2,3l-2.6-1.7zM335.2,409.9l-.1,.1l1.5,7.9l1.6,.7l3.2-1l-1.1-6.1zM383.4,415.6l1.6-1l.4-1.8l-1.9-2.7l-6.6,.1l-.6,1.9l6.5,3.5zM332.2,417.2l4.4,.7l-1.5-7.9l-4.2,3zM385,414.6l.4-1.8l4.1-2.8l2.3,.6l11.8,15.1l-5.7-1.2zM270.2,415.8l9.6,7.1l4-5.8l0-6.2l-4.6-2.4zM326.8,411.9l-.4,5.3l-5.8,1.2l-4.1-2.9l.1-3l5.7-1.5zM292,418.3l-8.2-1.2l0-6.2l5.6-2.7zM326.8,411.9l-.4,5.3l3.3,1.7l2.5-1.7l-1.3-4.2l-2.6-1.7zM376.6,419.9l6.2-4.3l-6.5-3.5l-2.8,2.2l1.2,4.9zM374.7,419.2l-1.2-4.9l-3.7-1.4l-6.7,2.5l-.6,1.4l0,3.2l2,3.1l5.8-.2zM362.5,420l-6.7,2.1l-4.9-5.8l1.4-2.1l10.2,2.6zM376.6,419.9l6.2-4.3l.6,0l-.2,9.4l-4.2-2zM383.4,415.6l1.6-1l12.9,9.9l-14.3,1l-.4-.5zM352.8,425.4l3-3.3l-4.9-5.8l-5.4,3l1,3.5zM343.2,429.5l-6.4-2.3l-.6-2.3l2-6.3l3.2-1l1.9,.4l2.2,1.3l1,3.5zM376.6,419.9l2.4,3.1l-5,4.5l-3.7-4.6l4.4-3.7zM352.8,425.4l3-3.3l6.7-2.1l2,3.1l-1.2,7.7l-2.4,1.7l-7.8-6.1zM379.5,433.2l-5.1-3.4l-.4-2.3l5-4.5l4.2,2l.4,.5l-3.7,7.8zM347.1,433.6l-3.6-3.2l-.3-.9l3.3-6.7l6.3,2.6l.3,1l-3.4,5.9zM370.3,422.9l-5.8,.2l-1.2,7.7l4,1.8l7.1-2.8l-.4-2.3zM314.8,504.2l.9,1l8,1.9l1.8-.6l5.3-8.8l-1.9-2l-3.7-.4zM314.8,504.2l.9,1l-.4,7.9l-2.9,4.4l-5.1,2l-5.3-2.9l0-.7l3.5-10.5l6.4-2.8zM315.7,505.2l-.4,7.9l8.1,4l.3-10zM318.4,521l6.1-1.1l-1.1-2.8l-8.1-4l-2.9,4.4zM314.4,527.5l.6-.2l3.4-6.3l-6-3.5l-5.1,2l.7,2.2zM374.4,402l.5,3.2l-5,2.3l-4.1-3.3l1.7-4.5l.9-.6zM73.4,231.2l6.7-7.9l-6.7-8.2l-6,0l-6,8.2l5.9,7.9z"/>
<path id="k3" d="M343.5,405.4l-3.2,6.1l1.1,6.1l1.9,.4l3.7-9.4l-1.6-2.4zM352,411.3l-5-2.7l-3.7,9.4l2.2,1.3l5.4-3l1.4-2.1zM363.1,415.4l-2.5-8.4l-3-1.5l-5.6,5.8l.3,2.9l10.2,2.6zM369.9,407.5l-.1,5.4l-6.7,2.5l-2.5-8.4l5.2-2.8z"/>
<path id="k4" d="M156.2,82l-3.3,5l-4.6-.3l-2.2-3.6l9.7-3zM156.2,82l3.1,5l-2.2,3.5l-.5-.1l-3.7-3.4zM217.1,93.3l7.5-20.9l37.3-132.4l-60,90.6l-.6,59.5l5.6,3.4l9.6,.7zM148.8,92.8l7.8-2.4l-3.7-3.4l-4.6-.3l.2,5.8zM231.9,95l.6-.4l-4.8-4.4l-.5,4.8l.2,.4zM227.4,95.4l-.2-.4l-10.1-1.7l-.6,.9l1,4l7.6,3.8l1.7-1.8zM231.9,95l-.9,4.7l-4.2,.5l.6-4.8zM231.9,95l.6-.4l5.1-1.7l1.2,3.6l-3.4,5.3l-4.4-2.1zM155.1,106.4l-3.8-8.6l5.1-1.4l3.5,6.9zM212.5,108.1l-5.3-3.9l-.3-10.7l9.6,.7l1,4zM147.4,99.9l-2.3,3.9l8.4,5.6l1.6-3l-3.8-8.6l-.8-.2zM195.8,103.4l-1.9-6l7.4-7.3l5.6,3.4l.3,10.7l-10.1,.3zM237.3,111.7l3.4,.2l9.8-9.7l-11.7-5.7l-3.4,5.3l-.1,5.1zM286,108.4l-8.7-6.6l-6-38.2l1.9-10.6l18.3,51.1l-1.2,2zM235.3,106.9l.1-5.1l-4.4-2.1l-4.2,.5l-1.7,1.8l.2,.9zM223.6,109.9l-2.5,2.1l-7.8-.2l-.8-3.7l5-9.9l7.6,3.8l.2,.9zM237.1,111.8l-13.5-1.9l1.7-7l10,4l2,4.8zM275.8,104.3l1.5-2.5l-6-38.2l-12.5,30.1l10.8,15.9l.3,.1zM197.1,104.5l10.1-.3l5.3,3.9l.8,3.7l-2.4,3.8l-1.7,.9l-7.8,1.3zM195.8,103.4l-6.9,6.9l3,10.5l1.2,.6l3.5,.8l4.8-4.4l-4.3-13.3zM272.6,119l6.5-.8l-3.3-13.9l-5.9,5.4l2.6,9zM285.5,111.1l-6.2,7.1l-.2,0l-3.3-13.9l1.5-2.5l8.7,6.6zM310.1,109.9l-15.8,.1l-.2,4.4l6,4.5l6,.3l3.8-5.6zM294.1,114.4l-4,1.1l-4.6-4.4l.5-2.7l4.3-2.3l4,3.9zM182.9,109l6,1.3l3,10.5l-8.1,.5l-1.3-.4l-2.3-6.2l1.1-4.4zM232.5,119.4l4.6-7.6l-13.5-1.9l-2.5,2.1l4.4,7.1zM256.3,118.7l-12.6-2.9l-3-3.9l9.8-9.7l3.6-1.1l4.1,10.5l-1.9,7zM272.5,118.7l-14.2-7.1l11.3-2l.3,.1zM300.1,118.9l-7.5,3l-2.6-1.7l.1-4.7l4-1.1zM172.1,114.9l8.1-.2l2.3,6.2l-5.6,3l-7-7.6zM290,120.2l-6.5,1.4l-1.6-.4l-2.6-3l6.2-7.1l4.6,4.4zM310.1,109.9l2.7-11.9l24.5-47.3l-2,38.9l-6.4,27.5l-8.9,2.8l-10.1-6.3zM256.3,118.7l-12.6-2.9l-.3,11.4l2.7,2.8l9.6-8.9zM234.1,125.7l9.3,1.5l.3-11.4l-3-3.9l-3.4-.2l-.2,.1l-4.6,7.6zM292.6,121.9l-2.6-1.7l-6.5,1.4l5.9,8l1.9,.3l.6-1zM256.3,118.7l-.6,2.4l3.4,6.3l10.6,.4l.5-5.5l-13.9-3.7zM272.6,119l-2.4,3.3l-.5,5.5l2,6.5l5.3,2l2.6-3l2.3-12.1l-2.6-3l-.2,0zM306.1,119.2l0,1.4l-1.3,4.6l-12.9,3.7l.7-7l7.5-3zM289.4,129.6l-9.8,3.7l2.3-12.1l1.6,.4zM255.7,121.1l-9.6,8.9l.4,2.6l7.5,4.2l2.8,.6l2.3-10zM309.9,113.6l10.1,6.3l2.1,9.1l-6,.4l-10-8.8l0-1.4zM259.1,127.4l-2.3,10l4.3,3.2l10.6-6.3l-2-6.5zM304.8,125.2l0,1.8l-2.8,9.1l-1.6,.8l-7.4-3.2l-1.7-3.8l.6-1zM306.1,120.6l10,8.8l-3.5,3.8l-7.8-6.2l0-1.8zM232,128.5l2.1-2.8l9.3,1.5l2.7,2.8l.4,2.6l-7.4,7.3l-3.9-2l-3.2-9.3zM289.4,129.6l-9.8,3.7l-2.6,3l4,6.9l4.2,.7l7.8-10.2l-1.7-3.8zM319.9,135.2l-5.9,.7l-1.3-1.4l-.1-1.3l3.5-3.8l6-.4l1.4,1.4zM306.6,137.4l-1.6,.2l-3-1.5l2.8-9.1l7.8,6.2l.1,1.3zM319.8,142.1l-4.9-1.2l-1.1-.9l.2-4.1l5.9-.7zM285.2,143.9l4.5,2.9l8.8-4.1l1.9-5.8l-7.4-3.2zM312.8,140.3l-6.2-2.9l6.1-2.9l1.3,1.4l-.2,4.1zM312.8,140.3l-4.4,4.1l-3.4-6.8l1.6-.2zM223.3,144.6l.2-3.4l.5-1l11.2-2.3l3.9,2l.7,5.5l-.2,.6l-9.9,2.2zM246.5,132.6l7.5,4.2l-5.4,7.8l-8.8,.8l-.7-5.5zM300.7,145.3l-2.2-2.6l1.9-5.8l1.6-.8l3,1.5l3.4,6.8l0,.2l-1.7,2zM312.8,140.3l-4.4,4.1l0,.2l4.6,1.9l1.9-5.6l-1.1-.9zM319.8,142.1l-4.9-1.2l-1.9,5.6l2.7,3l1.7,.4l2.6-.5l.7-6.2zM256.8,137.4l4.3,3.2l.1,5.9l-8.9,2.8l-3.7-4.7l5.4-7.8zM277,136.3l4,6.9l0,0l-14,8.7l-5.3-4.5l-.5-.9l-.1-5.9l10.6-6.3zM240.5,149.1l-.9-3.1l.2-.6l8.8-.8l3.7,4.7l-4.4,5l-.4,.2zM300.3,151.3l-3.2,3.1l-5.6-2.2l-1.8-5.4l8.8-4.1l2.2,2.6zM306.9,151.4l1.2,1.5l7.6-3.4l-2.7-3l-4.6-1.9l-1.7,2zM300.3,151.3l6.6,.1l-.2-4.8l-6-1.3zM220.4,153.4l.4-5.9l2.5-2.9l6.4,3.6l.5,7.9l-6.3,1.6zM229.7,148.2l9.9-2.2l.9,3.1l-3.8,5.8l-5.5,1.8l-1-.6zM277.2,157.6l-9.1-2l-1.1-3.7l14-8.7l-1.6,12.5zM300.3,151.3l-3.2,3.1l2.9,5l7.9-2.1l.2-4.4l-1.2-1.5zM375.4,158.4l1.4-7.2l-5.6-3.5l-5.9,7.8l2.5,5.6l6.2-1.2zM261.7,147.4l-5.2,9.2l-8.6-2.3l4.4-5l8.9-2.8zM281,143.2l0,0l-1.6,12.5l8.4,2.4l3.7-5.9l-1.8-5.4l-4.5-2.9zM313.2,160.2l4.2-10.3l-1.7-.4l-7.6,3.4l-.2,4.4l2.6,2.3zM263.3,162.2l3.2-2.6l1.6-4l-1.1-3.7l-5.3-4.5l-5.2,9.2l1.6,6.4zM316.5,162.6l5.1-11.9l-1.6-1.3l-2.6,.5l-4.2,10.3zM379.7,158.4l-4.3,0l1.4-7.2l7.9-2.5l-.8,7.3zM237.2,155.9l8.6,7.1l.6-.3l1.1-8.2l-7-5.4l-3.8,5.8zM247.5,154.5l.4-.2l8.6,2.3l1.6,6.4l-3.5,3.1l-8.2-3.4zM316.5,162.6l5.1-11.9l1.4,.6l3.1,2.6l-9.4,9zM383.9,156l.8-7.3l8.3-8.4l.1,19.2l-2.3,2.1l-4-.9zM237.2,155.9l8.6,7.1l-3.7,3.1l-4.9-3.8zM287.8,158.1l3.7-5.9l5.6,2.2l2.9,5l-2.9,9.3l-3.5-.7l-2.8-1.1l-2.6-5zM231.2,156.7l5.5-1.8l.5,1l0,6.4l-4.7-.8zM367.8,161.1l-.1,.1l-11.1,1.5l-2.3-2.8l7.5-6.2l3.5,1.8zM379.7,158.4l3.5,4.2l3.6-1.9l-2.9-4.7zM277.2,157.6l.8,5.6l10.2-1.3l-.4-3.8l-8.4-2.4zM379.7,158.4l-4.3,0l-1.4,1.5l3.7,4.5l4.4,0l1.1-1.8zM310.5,159.6l-2.6-2.3l-7.9,2.1l-2.9,9.3l2.2,2.6l5.7-1.8zM278,163.2l-1.7,5.8l3.2,3l11.3-5.1l-2.6-5zM356.6,162.7l-2.3-2.8l-1.4-.5l-5.3,3.2l.8,6.9l1.2,.7l6.7-1.7l.2-.7zM383.2,162.6l-1.1,1.8l1.6,3.6l6.9-.8l.2-5.6l-4-.9zM390.6,167.2l3,5.4l4.5-.6l5.2-9.3l-10.2-3.2l-2.3,2.1zM341.7,161.1l1.4-.8l4.5,2.3l.8,6.9l-7.2,2.8l-2.2-1.9l-.9-2.3zM367.7,161.2l-11.1,1.5l-.1,5.1l11-3.2zM374,159.9l3.7,4.5l-1.3,7l-1.8,1.5l-6.6-4.8l-.5-3.5l.2-3.4l.1-.1zM377.7,164.4l-1.3,7l6-1l1.3-2.4l-1.6-3.6zM367.5,164.6l.5,3.5l-2.3,2.3l-7.9-.1l-1.5-1.8l.2-.7zM383.7,168l6.9-.8l3,5.4l-.9,1.2l-7.1,1.3l-3.2-4.7zM328.3,171l0-7.1l-10.4,1.2l-.3,.7l5.2,7.2zM319.3,180.3l-3.9-.7l-1.7-8.9l3.9-4.9l5.2,7.2l-2.5,6.8zM358.2,174.4l1,1.2l2.3,.9l2.4-.4l1.8-5.7l-7.9-.1zM358.2,174.4l-5.2,1.6l-2.3-2l-1.1-3.8l6.7-1.7l1.5,1.8zM382.4,170.4l3.2,4.7l0,0l-9,3.7l-1.8-1.4l-.2-4.5l1.8-1.5zM320.3,179.8l2.5-6.8l5.5-2l2.1,3.1l0,2.5l-3.6,2.8zM363.9,176.1l4.5,4.6l6.4-3.3l-.2-4.5l-6.6-4.8l-2.3,2.3zM293.6,168l-6.3,9.3l-7.4-2.7l-.4-2.6l11.3-5.1zM412.5,173.6l-2.9-1l-3.3,1.7l-2.5,2.4l.7,2.6l1.1,.3l5.7-1.1zM293.6,168l3.5,.7l2.2,2.6l.3,3.3l-8.2,8.7l-4.1-6zM347.1,179l-6.1-1.7l.2-5l7.2-2.8l1.2,.7l1.1,3.8zM358.2,174.4l-5.2,1.6l1.1,6.6l5.1-7zM354.1,182.6l-.1,.8l-4.8-1.2l-2.1-3.2l3.6-5l2.3,2zM283.7,188.5l.6,.2l6.5-3.7l.6-1.7l-4.1-6l-7.4-2.7l-1.8,6.3zM376.6,178.8l9-3.7l-.3,6.9l-.7,1l-5.9-.3zM392.7,173.8l.1,6l-7.5,2.2l.3-6.9l0,0zM404.5,179.3l-.7-2.6l-5.7-4.7l-4.5,.6l-.9,1.2l.1,6l.7,1.6l9.2,1.1zM363.9,176.1l4.5,4.6l-1.1,2.7l-7.8,0l2-6.9zM385.3,182l7.5-2.2l.7,1.6l-1.1,5.7l-5.4-.4l-2.4-3.7zM410.1,183.7l-4.5-4.1l5.7-1.1l4,1.8l0,0l-2.9,3.2zM56.8,179.9l-2.4-.2l-2.1,4.6l2.2,4.7l5.4-2.3zM395.2,191.4l-2.8-4.3l1.1-5.7l9.2,1.1l-.2,5.7l-6.5,3.5l-.3,0zM307.8,183.9l-8.2-9.3l-8.2,8.7l-.6,1.7l10.8,7.7zM410.1,183.7l-4.5-4.1l-1.1-.3l-1.8,3.2l-.2,5.7l4.3,2.5l3.1-5.8zM413.8,188.6l.1,1.3l-2.2,2.9l-4.1-1.2l-.8-.9l3.1-5.8zM413.9,187.3l-1.5-3.8l-2.3,.2l-.2,1.2l3.9,3.7zM413.9,187.3l3.8-4.9l-2.4-2.1l-2.9,3.2zM368.4,180.7l-1.1,2.7l.6,2.7l2.2,1.8l7.4-.6l1.2-4.6l-2.1-3.9l-1.8-1.4zM413.9,187.3l3.8-4.9l3.3,1.3l-.6,4.6l-6.5,1.6l-.1-1.3zM381.1,191.8l2.6-.3l3.3-4.8l-2.4-3.7l-5.9-.3l-1.2,4.6l1.6,3.7zM308,183.8l7.4-4.2l3.9,.7l4.6,12.5l-5.4,2.7zM386.5,193.7l8.7-2.3l-2.8-4.3l-5.4-.4l-3.3,4.8zM308,183.8l10.5,11.7l-1.5,2.2l-9,3.6l-6.4-5l0-3.6l6.2-8.8zM416.6,197.3l5.7-3.2l-.8-4.4l-1.1-1.4l-6.5,1.6l-2.2,2.9l2.3,4.4zM301.6,196.3l-7.1,4.1l-6.4-2.6l-3.8-9.1l6.5-3.7l10.8,7.7zM387.1,197.9l4.6,1.9l4-8.1l-.5-.3l-8.7,2.3zM402.5,188.2l-6.5,3.5l4.5,6.7l2.5,.9l4.6-7.7l-.8-.9zM381.1,191.8l2.6-.3l2.8,2.2l.6,4.2l-.3,.1l-5.4-.4zM414,197.2l-2.3-4.4l-4.1-1.2l-4.6,7.7l1.1,1.7l8,0zM394.2,201.4l4.3-1.2l2-1.8l-4.5-6.7l-.3,0l-4,8.1l0,.2zM386.8,198l.3-.1l4.6,1.9l0,.2l-1,1.8l-4.7,3.4l-2-1.6l-.2-.5zM394.2,201.4l4.3-1.2l-.1,3.7l-2.8,.6zM318.5,195.5l5.4-2.7l3.7,.5l3.4,5.6l-.7,10.4l-9.8-3.8l-3.5-7.8zM398.4,203.9l3.1,1.8l1.9-1.6l.7-3.1l-1.1-1.7l-2.5-.9l-2,1.8zM386.3,206.3l4.3,3.1l1.9-.5l-1.8-7.1l-4.7,3.4zM390.7,201.8l1-1.8l2.5,1.4l1.4,3.1l-1,4.6l-2.1-.2zM394.6,209.1l.1,.1l5.7-.7l1.1-2.8l-3.1-1.8l-2.8,.6zM412.6,203.9l-.5-2.9l-8,0l-.7,3.1l5.5,4.8zM308,201.3l.1,3.8l2.7,6.4l1.9,2.1l7.8-8.1l-3.5-7.8zM386.3,206.3l-4.3,5.7l-2.9-4.9l4.9-3.5l2,1.6zM406.6,212.7l-3.3-.1l-2.9-4.1l1.1-2.8l1.9-1.6l5.5,4.8l-.1,.9zM420.9,205.3l1.8,6.3l-1.3,2.7l-.4,.2l-1.1-.1l-3.6-2.8l0-5.3zM386.3,206.3l-4.3,5.7l.1,1.7l2.6,1.5l3.6-1.7l2.3-4.1zM408.8,209.8l.1-.9l3.7-5l3.7,2.4l0,5.3l-2.1,.3zM400.6,215.3l-3,.9l-1.5-.3l-1.4-6.7l5.7-.7l2.9,4.1zM392.5,208.9l2.1,.2l.1,.1l1.4,6.7l-2.1,1.3l-5.7-3.7l2.3-4.1zM407.6,214.8l5,.6l1.6-3.5l-5.4-2.1l-2.2,2.9zM412.6,215.4l2.3,3.4l0,.1l5-4.5l-3.6-2.8l-2.1,.3zM407.6,214.8l.1,3.1l1.6,1.4l5.6-.5l-2.3-3.4zM407.6,214.8l.1,3.1l-2.7,2l-2-.8l-2.4-3.8l2.7-2.7l3.3,.1zM399.8,221.5l-.5-.2l-1.7-5.1l3-.9l2.4,3.8zM404.5,223.6l.5-3.7l-2-.8l-3.2,2.4l.2,.3l4.5,1.8zM421,214.5l-.9,9.4l-2,.4l-2.4-1.8l-.8-3.6l5-4.5zM404.5,223.6l4.2,2.5l.7-.3l.5-.7l-.6-5.8l-1.6-1.4l-2.7,2zM409.3,219.3l.6,5.8l5.8-2.6l-.8-3.6l0-.1zM320.4,245.2l-4.8,2.1l-1.3-9.9l.3-.4l3.6,2.3zM398.3,249.3l-.3,1.1l-4,2l-3.5-5.1l3.1-3.2l5,2.5zM403.2,249.2l.1-.6l-4-2.4l-.7,.4l-.3,2.7l4.3,.6zM402.6,249.9l-.7,2.3l-1.4,.7l-2.5-2.5l.3-1.1zM459.9,259.3l3.3-4.5l3.5,1.3l.3,4l-6.4-.1zM449.3,254l-1.3-.2l-4,2.3l1.3,3.5l1.6,.4l2.6-5.7zM394.1,256.6l6.2-.9l-.7,4.3l-5.8-.3zM403.2,262l2.1-1.1l-.3-3.7l-4.3-1.8l-.4,.3l-.7,4.3l2.1,2zM445.3,259.6l-3,2.4l-2.9-5l3.1-1.4l1.5,.5zM449.5,254.3l4,2.6l-5.7,3.8l-.9-.7zM437.3,257.2l2-.2l.1,0l2.9,5l-.3,1l-1.4,1.5l-5-1l-1.1-3.7l.5-1.5zM452.3,265.2l-.2,.2l-2.7-.2l-1.6-4.5l5.7-3.8l1.8,.5l.3,.2zM398.9,264.2l2.8-2.2l-2.1-2l-5.8-.3l-1.6,3.3l.7,.8zM445.3,259.6l-3,2.4l-.3,1l6.8,2.5l.6-.3l-1.6-4.5l-.9-.7zM460.6,260l6.4,.1l2.2,1.6l-1.4,5l-1,1.2l-1.5,.3l-3.3-1.9l-1.4-2.8zM459.9,259.3l-3.6-1.6l-.7-.1l-3.3,7.6l3.3,.6l5-2.3l0-3.5zM448.8,265.5l-2.6,3.5l-4.1,1.5l-1.5-6l1.4-1.5zM455.6,265.8l2.8,2.8l3.6-2.3l-1.4-2.8zM434.2,267.6l.2-2.3l1.2-1.8l5,1l1.5,6l-.2,.2l-1.4,1.1l-3.3-.9zM458.1,269.5l.3-.9l-2.8-2.8l-3.3-.6l-.2,.2l1.1,5.3zM466.8,267.9l3.5,5.7l5.8-2.1l-.3-3l-8-1.8zM452.8,273.1l-2.2,.6l-4.4-4.7l2.6-3.5l.6-.3l2.7,.2l1.1,5.3zM455.5,275.3l-2.7-2.2l.4-2.4l4.9-1.2l.5,.9l-.2,2.9zM458.6,270.4l4.2,.4l1.4-.8l1.1-1.8l-3.3-1.9l-3.6,2.3l-.3,.9zM366.3,275.1l-2.7,2l-3.9-2.9l2.3-6.5l4.4-1.1l.2,.4zM371.7,275.8l-5.4-.7l.3-8.1l7.5,2.9l-1.8,5.7zM432.6,268.7l1.6-1.1l3,3.3l-4.6,3.4l-.5-.7zM460.6,273.7l2.2-2.9l-4.2-.4l-.2,2.9zM441.9,270.7l.2-.2l4.1-1.5l4.4,4.7l-2.5,2.7zM463.2,277.5l.5,.1l1-.8l-.5-6.8l-1.4,.8l-2.2,2.9zM464.7,276.8l4.9-1.1l.7-2.1l-3.5-5.7l-1.5,.3l-1.1,1.8zM372.3,275.6l3.3,2.2l1.3,.4l3.7-2.5l2-3.2l-6.3-3.7l-2.2,1.1zM437.2,270.9l3.3,.9l0,.4l-4.5,5.3l-3.4-1.6l0-1.6zM440.5,272.2l2.6,8.4l4.2-1.1l.8-3.1l-6.2-5.7l-1.4,1.1zM458.2,279.1l5-1.6l-2.6-3.8l-2.2-.4l-2.9,2l.3,1.1l1.9,2.3zM476.1,271.5l-5.8,2.1l-.7,2.1l2.4,3.9l3,1.2l4.3-4.9l0-1.5zM440.5,272.2l-4.5,5.3l2.5,5.6l3.5-1.4l1.1-1.1zM455.5,275.3l-2.7-2.2l-2.2,.6l-2.5,2.7l-.8,3.1l2.6,1.9l5.9-5zM438.5,283.1l-.8,1.1l-7.3-2.2l.7-4.9l1.5-1.2l3.4,1.6zM464.7,276.8l4.9-1.1l2.4,3.9l-5,3.7l-1.8-.2l-1.5-5.5zM457.7,278.7l-5.4,3.7l-2.4-1l0,0l5.9-5zM458.2,279.1l.2,4.7l2.9,1.6l1.6-.3l2.3-2l-1.5-5.5l-.5-.1zM372.6,281.7l-2.1,3.2l-6.4,1.6l-.5-.9l6.9-5.5zM371.7,275.8l-1.2,4.3l2.1,1.6l.2,0l2.8-3.9l-3.3-2.2zM375.6,277.8l1.3,.4l1.7,7.8l-.1,0l-.4-.1l-5.3-4.2zM458.2,279.1l.2,4.7l-3.1,1.2l-3-2.6l5.4-3.7zM372.8,281.7l5.3,4.2l-7.6-1l2.1-3.2zM473.8,286.5l-1.8,1.7l-1,.5l-4-5.4l5-3.7l3,1.2l.2,.4zM437.7,284.2l-.2,2.4l-5.2,5.4l-3.9-7.4l0-1.5l2-1.1zM443.1,280.6l-1.1,1.1l4.3,5.8l2.5-.3l1.1-5.8l0,0l-2.6-1.9zM449.9,281.4l2.4,1l3,2.6l-1.2,3.2l-2.5,1.4l-.1,0l-2.7-2.4zM378.1,285.9l.4,.1l-3,5l-11.1-3l-.3-1.5l6.4-1.6zM444.6,289.5l1.7-2l-4.3-5.8l-3.5,1.4l-.8,1.1l-.2,2.4l4.4,3.8zM465.2,283.1l1.8,.2l4,5.4l-.6,.8l-5-.6l-2.5-3.8zM457.2,290.1l3.3-1.7l.8-3l-2.9-1.6l-3.1,1.2l-1.2,3.2zM462.9,285.1l-1.6,.3l-.8,3l1.4,2.8l2.4-.6l1.1-1.7zM448.1,293.4l3.4-3.8l-2.7-2.4l-2.5,.3l-1.7,2zM457.5,292.8l-.3-2.7l-3.1-1.9l-2.5,1.4l2.3,4.3zM459.5,294.4l1.9-1l.5-2.2l-1.4-2.8l-3.3,1.7l.3,2.7zM463,294.2l-1.6-.8l.5-2.2l2.4-.6l2,2.7l-.4,.6zM465.4,288.9l-1.1,1.7l2,2.7l4-2.5l.1-1.3zM471,288.7l1-.5l4.4,3.5l-1.4,3.4l-3.6-1.9l-1.1-2.4l.1-1.3zM441.9,291.8l-.8,2.6l-3.8,1.7l-4.8-.9l-1.1-.8l.9-2.4l5.2-5.4l4.4,3.8zM447.8,294.8l-5.9-3l0-1.4l2.7-.9l3.5,3.9zM447.8,294.8l0,.1l-.5,.6l-3.7,1.2l-2.5-2.3l.8-2.6zM447.8,294.8l0,.1l5.2,2.5l.1,0l.8-3.5l-2.3-4.3l-.1,0l-3.4,3.8zM454,297.7l-.9-.3l.8-3.5l3.6-1.1l2,1.6l-.3,1zM466.8,296.4l1,.7l1.7-.2l1.9-3.7l-1.1-2.4l-4,2.5l-.4,.6zM459.2,295.4l.3-1l1.9-1l1.6,.8l.5,3.7l-.5,.8l-3-1zM463.5,297.9l3.3-1.5l-.9-2.5l-2.9,.3zM469.5,296.9l1.9-3.7l3.6,1.9l.7,1.1l-4.4,2.9zM443.6,296.7l-.1,.2l-3.6,3.1l-2.6-3.9l3.8-1.7zM454,297.7l5.2-2.3l.8,2.3l-2.4,3.4zM444.2,299.2l-2,3.4l-2.3-2.2l0-.4l3.6-3.1zM447.3,295.5l.1,4.6l-3.2-.9l-.7-2.3l.1-.2zM447.3,295.5l.1,4.6l.5,1l2.7,.7l2.4-4.4l-5.2-2.5zM464.4,301.3l.3,0l1.9-.9l1.2-3.3l-1-.7l-3.3,1.5l-.5,.8l.7,2.2zM457.6,301.1l.2,1.2l2.1,.2l3.8-1.6l-.7-2.2l-3-1zM469.5,296.9l-1.7,.2l-1.2,3.3l4.4,1.6l.3-.5l0-2.4zM471.3,299.1l0,2.4l5.6-.4l1.1-1.2l0-2.3l-2.3-1.4zM439.9,300l-2.6-3.9l-4.8-.9l2.2,8.3l5.2-3.1zM444.2,299.2l-2,3.4l.2,.8l2.1,.3l3.4-2.6l-.5-1zM454,297.7l-.9-.3l-.1,0l-2.4,4.4l1.2,3l4.7-.3l1.3-2.2l-.2-1.2zM426.6,304.2l5.8,1.7l2.2-1.8l.1-.6l-2.2-8.3l-1.1-.8l-2.4,.5l-4.9,4.8l-.1,1.2zM442.2,302.6l.2,.8l-2.1,2.9l-1.8-.1l-3.9-2.1l.1-.6l5.2-3.1zM464.7,301.3l1.9-.9l4.4,1.6l-.6,5l-.3,0zM470.4,307l.6-5l.3-.5l5.6-.4l-.8,5.3l-5.5,.7zM463.4,307.1l1-5.8l-.7-.4l-3.8,1.6l3.4,4.6zM463.4,307.1l3.9,.8l2.8-.9l-5.4-5.7l-.3,0zM450.6,301.8l1.2,3l-.8,1.4l-3,1.9l-.2,0l-3.3-4.4l3.4-2.6zM463.3,307.1l-3.4,2.5l-1.4-1.2l-2-3.9l1.3-2.2l2.1,.2zM444.5,303.7l3.3,4.4l-5.4,2.2l-2.1-4l2.1-2.9zM426.5,305.2l1,5.5l4.7,.5l.3-.3l-.1-5l-5.8-1.7zM434.6,304.1l3.9,2.1l-2.5,5.1l-3.5-.4l-.1-5zM458.5,308.4l-2-3.9l-4.7,.3l-.8,1.4l2.6,3.7zM436,311.3l1.9,1.3l3.8,0l.7-2.3l-2.1-4l-1.8-.1zM449.5,313.7l-1.5-5.6l3-1.9l2.6,3.7l-.5,3.5l-1.3,.9zM460,312.6l-.1-3l-1.4-1.2l-4.9,1.5l-.5,3.5l5.8,0zM463.4,307.1l3.9,.8l-2.2,6.6l-.9,.7l-4.2-2.6l-.1-3l3.4-2.5zM470.6,307.1l5.5-.7l2.5,1.5l-1.9,6.2l-1.7,0l-2.9-1.6zM444.1,316.5l-1-1.1l-1.4-2.8l.7-2.3l5.4-2.2l.2,0l1.5,5.6zM470.1,307l.3,0l.2,.1l1.5,5.4l-1.8,1.3l-5.2,.7l2.2-6.6zM425.8,312l.1,1.3l2.2,2.5l1.4-.3l2.6-3.3l.1-1l-4.7-.5zM421.1,318.7l-.2-.5l5-4.9l2.2,2.5l-1.7,2.8l-3,1.1l-1.6-.1zM432.2,311.2l.3-.3l3.5,.4l1.9,1.3l-2.4,5.2l-.2,.2l-3.2-5.8zM435,318.9l.3-.9l-3.2-5.8l-2.6,3.3l2.3,2.8zM435.5,317.8l7.6-2.4l-1.4-2.8l-3.8,0zM452.7,318l-.9-3.7l1.3-.9l5.8,0l-.8,2.5l-3.1,3.2zM464.2,315.2l.9-.7l5.2-.7l-.5,6.5l-5.2-2.5zM437.2,320.5l-2-1.1l-.2-.5l.3-.9l.2-.2l7.6-2.4l1,1.1l0,.8l-1.4,2zM451.2,319.4l1.5-1.4l-.9-3.7l-2.3-.6l-5.4,2.8l0,.8l3.1,2.6zM455,319.1l3.1-3.2l3.2,6.2l-.1,.2l-4.7-.6zM460,312.6l4.2,2.6l.4,2.6l-3.3,4.3l-3.2-6.2l.8-2.5zM431.8,318.3l-2.3-2.8l-1.4,.3l-1.7,2.8l2.9,1.6zM432.8,323.5l2.4-4.1l-.2-.5l-3.2-.6l-2.5,1.9l.5,2.7zM451.2,319.4l.3,3.1l-2,1.9l-1.8-.6l-.5-3.9zM451.2,319.4l1.5-1.4l2.3,1.1l1.5,2.6l-1.5,1.7l-3.5-.9zM437.2,320.5l1.9,5.4l.3,.1l3.1-2.4l.2-4.3zM442.7,319.3l1.4-2l3.1,2.6l.5,3.9l-2,1.3l-3.2-1.5zM434.3,327.6l4.8-1.7l-1.9-5.4l-2-1.1l-2.4,4.1zM451.5,322.5l3.5,.9l-.4,2l-1.3,1.5l-2.7-.7l-1.1-1.8zM456.5,321.7l4.7,.6l1.1,3.2l-2.8,2.1l-4.9-2.2l.4-2zM442.5,323.6l3.2,1.5l-.1,2.2l-3.7,2.5l-2.5-3.8zM447.7,323.8l-2,1.3l-.1,2.2l.9,.7l2.7,.3l1.4-2.1l-1.1-1.8zM456.3,331.6l1-.1l2.2-3.9l-4.9-2.2l-1.3,1.5l.7,2.9zM446.9,332.9l-1.3,1.2l-3.7-1.4l0-2.9l3.7-2.5l.9,.7zM449.8,331.2l4.2-1.4l-.7-2.9l-2.7-.7l-1.4,2.1zM449.4,331.9l-2.5,1l-.4-4.9l2.7,.3l.6,2.9zM332.6,472.6l-.1-9.8l7.7,4l-6.6,8.9zM371.7,275.8l-1.2,4.3l-6.9,5.5l-.4-.4l-.2-.9l.6-7.2l2.7-2zM324.1,246.4l.7,2.9l-4.4,4.5l-2.6,.1l-2.4-6.3l.2-.3l4.8-2.1zM394,252.4l-.6,2.5l.7,1.7l6.2-.9l.4-.3l-.2-2.5l-2.5-2.5zM312.7,213.6l-1.9-2.1l-11.2,3l-.6,1.2l1.8,2.6l9.9,2.6l3.7-2.2zM150.5,97.6l.8,.2l5.1-1.4l1.9-2.9l-1.2-3l-.5-.1l-7.8,2.4zM50.9,172.4l-1.4,0l-3,1.3l-3.4,10.2l9.2,.4l2.1-4.6zM164,468.7l6.5-8.6l9.1,14.7l-9.1,8.2l-3.7-1.4zM166.8,481.6l3.7,1.4l1.8,5.9l-4.1,7l-8.6,.7l-2.6-6.2l.7-4.8l3.9-2.9zM265.5,537.4l-3.6-7.6l6.8-4.3l1.2,.9l1.8,10.1zM333.6,475.7l-.1,1.7l7.7,2.2l2.4-1.6l1.4-5.8l-3.6-5.5l-1.2,.1zM370.7,438.5l-.1,0l-4.7,5.3l0,.2l35.5,43.5l6.8,4.7l24.9,8.8l-27.6-32.7z"/></defs>
<rect width="1024" height="720" fill="#fff"/>
<rect x="0" y="33" width="489" height="2" fill="#f9f9f9"/>
<g>
<g clip-path="url(#c)"><g transform="scale(3.3)" shape-rendering="crispEdges">
<rect width="156" height="207" fill="#fbb9a3"/>
<path fill="#2f5fd0" d="M50,36h1v1h-1z"/>
<path fill="#6a84dd" d="M47,34h3v1h-3zM49,35h2v1h-2zM49,36h1v1h-1zM38,45h1v1h-1zM23,49h2v1h-2zM23,50h2v1h-2zM24,51h1v1h-1zM26,51h2v1h-2zM23,52h3v1h-3zM8,53h1v1h-1zM23,53h2v1h-2zM7,54h2v1h-2zM72,105h1v1h-1zM71,106h3v1h-3z"/>
<path fill="#94a5e6" d="M32,31h1v1h-1zM31,32h2v1h-2zM31,33h1v1h-1zM50,34h1v1h-1zM47,35h2v1h-2zM51,35h1v1h-1zM48,36h1v1h-1zM51,36h1v1h-1zM40,44h1v1h-1zM39,45h2v1h-2zM38,46h2v1h-2zM25,49h1v1h-1zM25,50h3v1h-3zM23,51h1v1h-1zM25,51h1v1h-1zM28,51h1v1h-1zM26,52h3v1h-3zM6,53h2v1h-2zM25,53h1v1h-1zM28,53h1v1h-1zM6,54h1v1h-1zM71,105h1v1h-1zM73,105h1v1h-1zM70,106h1v1h-1zM70,107h4v1h-4zM62,122h2v1h-2zM34,126h2v1h-2zM69,132h1v1h-1zM90,182h1v1h-1zM90,183h2v1h-2zM90,184h2v1h-2z"/>
<path fill="#bcc6ee" d="M31,31h1v1h-1zM33,31h1v1h-1zM33,32h1v1h-1zM32,33h2v1h-2zM64,33h1v1h-1zM51,34h1v1h-1zM63,34h4v1h-4zM47,36h1v1h-1zM48,37h4v1h-4zM38,44h2v1h-2zM41,44h1v1h-1zM41,45h1v1h-1zM40,46h2v1h-2zM22,49h1v1h-1zM26,49h3v1h-3zM22,50h1v1h-1zM28,50h1v1h-1zM22,51h1v1h-1zM6,52h3v1h-3zM22,52h1v1h-1zM9,53h1v1h-1zM22,53h1v1h-1zM26,53h2v1h-2zM9,54h1v1h-1zM70,105h1v1h-1zM62,121h2v1h-2zM62,123h2v1h-2zM33,125h3v1h-3zM33,126h1v1h-1zM36,126h1v1h-1zM33,127h4v1h-4zM32,128h5v1h-5zM69,131h2v1h-2zM70,132h1v1h-1zM89,182h1v1h-1zM91,182h2v1h-2zM89,183h1v1h-1zM92,183h1v1h-1zM89,184h1v1h-1zM92,184h1v1h-1zM90,185h3v1h-3z"/>
<path fill="#ffffff" d="M33,18h4v1h-4zM32,19h5v1h-5zM32,20h5v1h-5zM32,21h5v1h-5zM32,22h6v1h-6zM32,23h6v1h-6zM53,23h1v1h-1zM55,23h2v1h-2zM32,24h6v1h-6zM51,24h10v1h-10zM32,25h6v1h-6zM49,25h17v1h-17zM33,26h3v1h-3zM49,26h18v1h-18zM33,27h2v1h-2zM49,27h20v1h-20zM41,28h2v1h-2zM49,28h26v1h-26zM87,28h2v1h-2zM40,29h5v1h-5zM49,29h26v1h-26zM86,29h6v1h-6zM39,30h6v1h-6zM49,30h26v1h-26zM84,30h11v1h-11zM30,31h1v1h-1zM40,31h5v1h-5zM49,31h26v1h-26zM82,31h16v1h-16zM40,32h6v1h-6zM49,32h25v1h-25zM82,32h18v1h-18zM40,33h6v1h-6zM48,33h16v1h-16zM65,33h8v1h-8zM82,33h20v1h-20zM40,34h5v1h-5zM52,34h11v1h-11zM67,34h5v1h-5zM85,34h18v1h-18zM52,35h17v1h-17zM86,35h19v1h-19zM52,36h15v1h-15zM86,36h20v1h-20zM47,37h1v1h-1zM52,37h12v1h-12zM86,37h21v1h-21zM58,38h2v1h-2zM85,38h16v1h-16zM103,38h3v1h-3zM58,39h2v1h-2zM83,39h18v1h-18zM108,39h2v1h-2zM59,40h1v1h-1zM82,40h23v1h-23zM108,40h4v1h-4zM35,41h4v1h-4zM82,41h23v1h-23zM108,41h5v1h-5zM35,42h8v1h-8zM83,42h19v1h-19zM108,42h7v1h-7zM14,43h1v1h-1zM35,43h8v1h-8zM83,43h18v1h-18zM108,43h9v1h-9zM13,44h1v1h-1zM35,44h3v1h-3zM42,44h1v1h-1zM84,44h17v1h-17zM108,44h10v1h-10zM35,45h3v1h-3zM42,45h1v1h-1zM85,45h17v1h-17zM108,45h11v1h-11zM23,46h2v1h-2zM35,46h3v1h-3zM42,46h1v1h-1zM85,46h17v1h-17zM108,46h12v1h-12zM21,47h11v1h-11zM35,47h8v1h-8zM85,47h18v1h-18zM104,47h2v1h-2zM108,47h13v1h-13zM19,48h13v1h-13zM36,48h1v1h-1zM85,48h38v1h-38zM19,49h3v1h-3zM29,49h3v1h-3zM85,49h40v1h-40zM19,50h3v1h-3zM29,50h3v1h-3zM44,50h1v1h-1zM85,50h43v1h-43zM19,51h3v1h-3zM29,51h3v1h-3zM85,51h49v1h-49zM19,52h3v1h-3zM29,52h4v1h-4zM85,52h53v1h-53zM19,53h3v1h-3zM29,53h4v1h-4zM85,53h55v1h-55zM19,54h14v1h-14zM86,54h55v1h-55zM20,55h4v1h-4zM30,55h3v1h-3zM88,55h53v1h-53zM89,56h54v1h-54zM90,57h54v1h-54zM94,58h9v1h-9zM105,58h40v1h-40zM99,59h4v1h-4zM105,59h40v1h-40zM105,60h41v1h-41zM105,61h41v1h-41zM106,62h39v1h-39zM108,63h37v1h-37zM111,64h34v1h-34zM114,65h30v1h-30zM116,66h28v1h-28zM117,67h23v1h-23zM120,68h13v1h-13zM121,69h11v1h-11zM122,70h10v1h-10zM123,71h9v1h-9zM33,72h3v1h-3zM33,73h3v1h-3zM33,74h3v1h-3zM33,75h3v1h-3zM134,76h11v1h-11zM134,77h12v1h-12zM134,78h12v1h-12zM134,79h12v1h-12zM134,80h12v1h-12zM99,81h1v1h-1zM134,81h12v1h-12zM94,82h7v1h-7zM134,82h12v1h-12zM93,83h8v1h-8zM134,83h12v1h-12zM92,84h8v1h-8zM134,84h12v1h-12zM92,85h9v1h-9zM134,85h12v1h-12zM92,86h9v1h-9zM134,86h12v1h-12zM93,87h8v1h-8zM134,87h12v1h-12zM133,88h12v1h-12zM104,89h1v1h-1zM133,89h12v1h-12zM133,90h10v1h-10zM97,91h4v1h-4zM134,91h8v1h-8zM96,92h4v1h-4zM135,92h6v1h-6zM82,99h6v1h-6zM81,100h7v1h-7zM81,101h7v1h-7zM81,102h8v1h-8zM81,103h8v1h-8zM109,103h1v1h-1zM69,104h3v1h-3zM74,104h1v1h-1zM82,104h6v1h-6zM109,104h2v1h-2zM69,105h1v1h-1zM74,105h2v1h-2zM110,105h2v1h-2zM69,106h1v1h-1zM74,106h2v1h-2zM110,106h2v1h-2zM74,107h2v1h-2zM111,107h1v1h-1zM71,108h5v1h-5zM61,121h1v1h-1zM64,121h1v1h-1zM61,122h1v1h-1zM64,122h1v1h-1zM31,123h7v1h-7zM61,123h1v1h-1zM64,123h1v1h-1zM29,124h10v1h-10zM61,124h4v1h-4zM28,125h5v1h-5zM36,125h3v1h-3zM28,126h5v1h-5zM37,126h2v1h-2zM28,127h5v1h-5zM37,127h2v1h-2zM28,128h4v1h-4zM37,128h2v1h-2zM28,129h10v1h-10zM62,130h9v1h-9zM62,131h7v1h-7zM71,131h1v1h-1zM62,132h7v1h-7zM71,132h1v1h-1zM62,133h10v1h-10zM62,134h10v1h-10zM97,134h2v1h-2zM62,135h10v1h-10zM96,135h7v1h-7zM62,136h10v1h-10zM96,136h7v1h-7zM62,137h3v1h-3zM70,137h1v1h-1zM96,137h8v1h-8zM62,138h2v1h-2zM96,138h8v1h-8zM96,139h8v1h-8zM96,140h8v1h-8zM96,141h7v1h-7zM49,145h3v1h-3zM49,146h3v1h-3zM49,147h3v1h-3zM85,155h2v1h-2zM85,156h2v1h-2zM85,157h1v1h-1zM89,162h1v1h-1zM89,163h3v1h-3zM89,164h4v1h-4zM89,165h3v1h-3zM90,181h2v1h-2zM88,182h1v1h-1zM88,183h1v1h-1zM87,184h2v1h-2zM88,185h2v1h-2z"/>
<path fill="#fde0d6" d="M31,9h1v1h-1zM30,10h4v1h-4zM29,11h6v1h-6zM29,12h8v1h-8zM29,13h10v1h-10zM40,13h2v1h-2zM28,14h17v1h-17zM28,15h7v1h-7zM36,15h10v1h-10zM28,16h18v1h-18zM27,17h20v1h-20zM27,18h6v1h-6zM37,18h11v1h-11zM26,19h6v1h-6zM37,19h11v1h-11zM26,20h6v1h-6zM37,20h12v1h-12zM26,21h6v1h-6zM37,21h12v1h-12zM26,22h6v1h-6zM38,22h11v1h-11zM54,22h5v1h-5zM25,23h7v1h-7zM38,23h12v1h-12zM52,23h1v1h-1zM54,23h1v1h-1zM57,23h5v1h-5zM25,24h7v1h-7zM38,24h13v1h-13zM61,24h3v1h-3zM24,25h8v1h-8zM38,25h11v1h-11zM66,25h1v1h-1zM24,26h9v1h-9zM36,26h13v1h-13zM67,26h3v1h-3zM23,27h10v1h-10zM35,27h14v1h-14zM69,27h7v1h-7zM23,28h2v1h-2zM26,28h15v1h-15zM43,28h6v1h-6zM75,28h4v1h-4zM83,28h4v1h-4zM89,28h6v1h-6zM22,29h2v1h-2zM28,29h12v1h-12zM45,29h4v1h-4zM75,29h11v1h-11zM92,29h5v1h-5zM22,30h2v1h-2zM28,30h11v1h-11zM45,30h4v1h-4zM75,30h9v1h-9zM95,30h4v1h-4zM21,31h2v1h-2zM28,31h2v1h-2zM34,31h6v1h-6zM45,31h4v1h-4zM75,31h7v1h-7zM98,31h3v1h-3zM21,32h1v1h-1zM28,32h3v1h-3zM34,32h6v1h-6zM46,32h3v1h-3zM74,32h8v1h-8zM100,32h3v1h-3zM21,33h1v1h-1zM29,33h2v1h-2zM34,33h6v1h-6zM46,33h2v1h-2zM73,33h9v1h-9zM102,33h3v1h-3zM20,34h1v1h-1zM31,34h9v1h-9zM45,34h2v1h-2zM72,34h13v1h-13zM103,34h3v1h-3zM20,35h1v1h-1zM35,35h12v1h-12zM69,35h4v1h-4zM78,35h8v1h-8zM105,35h3v1h-3zM19,36h1v1h-1zM35,36h12v1h-12zM67,36h4v1h-4zM78,36h8v1h-8zM106,36h3v1h-3zM19,37h1v1h-1zM34,37h13v1h-13zM64,37h6v1h-6zM78,37h8v1h-8zM107,37h4v1h-4zM18,38h2v1h-2zM33,38h25v1h-25zM60,38h10v1h-10zM79,38h6v1h-6zM101,38h2v1h-2zM106,38h6v1h-6zM17,39h2v1h-2zM30,39h28v1h-28zM60,39h10v1h-10zM79,39h4v1h-4zM101,39h7v1h-7zM110,39h3v1h-3zM17,40h1v1h-1zM30,40h20v1h-20zM54,40h5v1h-5zM60,40h10v1h-10zM79,40h3v1h-3zM105,40h3v1h-3zM112,40h2v1h-2zM16,41h2v1h-2zM30,41h5v1h-5zM39,41h10v1h-10zM55,41h15v1h-15zM79,41h3v1h-3zM105,41h3v1h-3zM113,41h2v1h-2zM15,42h2v1h-2zM29,42h6v1h-6zM43,42h5v1h-5zM58,42h12v1h-12zM78,42h5v1h-5zM102,42h6v1h-6zM115,42h1v1h-1zM15,43h1v1h-1zM27,43h8v1h-8zM43,43h5v1h-5zM62,43h9v1h-9zM78,43h5v1h-5zM101,43h7v1h-7zM14,44h2v1h-2zM25,44h10v1h-10zM43,44h5v1h-5zM67,44h4v1h-4zM79,44h5v1h-5zM101,44h7v1h-7zM13,45h2v1h-2zM20,45h15v1h-15zM43,45h6v1h-6zM78,45h7v1h-7zM102,45h6v1h-6zM12,46h4v1h-4zM19,46h4v1h-4zM25,46h10v1h-10zM43,46h7v1h-7zM76,46h9v1h-9zM102,46h6v1h-6zM120,46h1v1h-1zM11,47h2v1h-2zM19,47h2v1h-2zM32,47h3v1h-3zM43,47h5v1h-5zM49,47h1v1h-1zM76,47h9v1h-9zM103,47h1v1h-1zM106,47h2v1h-2zM121,47h1v1h-1zM10,48h1v1h-1zM18,48h1v1h-1zM32,48h4v1h-4zM37,48h11v1h-11zM78,48h7v1h-7zM123,48h1v1h-1zM9,49h1v1h-1zM17,49h2v1h-2zM32,49h17v1h-17zM79,49h6v1h-6zM8,50h1v1h-1zM16,50h3v1h-3zM32,50h12v1h-12zM45,50h4v1h-4zM67,50h1v1h-1zM80,50h5v1h-5zM6,51h2v1h-2zM15,51h4v1h-4zM32,51h18v1h-18zM66,51h2v1h-2zM80,51h1v1h-1zM82,51h3v1h-3zM5,52h1v1h-1zM9,52h10v1h-10zM33,52h16v1h-16zM83,52h2v1h-2zM138,52h4v1h-4zM4,53h2v1h-2zM10,53h9v1h-9zM33,53h16v1h-16zM83,53h2v1h-2zM140,53h2v1h-2zM143,53h1v1h-1zM2,54h2v1h-2zM12,54h3v1h-3zM18,54h1v1h-1zM33,54h15v1h-15zM83,54h3v1h-3zM141,54h4v1h-4zM1,55h1v1h-1zM19,55h1v1h-1zM24,55h6v1h-6zM33,55h15v1h-15zM83,55h5v1h-5zM141,55h4v1h-4zM1,56h5v1h-5zM7,56h5v1h-5zM21,56h7v1h-7zM32,56h1v1h-1zM34,56h13v1h-13zM83,56h6v1h-6zM143,56h3v1h-3zM2,57h1v1h-1zM11,57h3v1h-3zM35,57h11v1h-11zM84,57h6v1h-6zM144,57h2v1h-2zM13,58h2v1h-2zM36,58h10v1h-10zM85,58h9v1h-9zM103,58h2v1h-2zM145,58h2v1h-2zM14,59h1v1h-1zM36,59h11v1h-11zM85,59h14v1h-14zM103,59h2v1h-2zM145,59h2v1h-2zM37,60h9v1h-9zM85,60h20v1h-20zM146,60h1v1h-1zM85,61h20v1h-20zM146,61h1v1h-1zM85,62h21v1h-21zM145,62h3v1h-3zM85,63h23v1h-23zM145,63h3v1h-3zM85,64h26v1h-26zM145,64h3v1h-3zM85,65h29v1h-29zM144,65h4v1h-4zM85,66h31v1h-31zM144,66h5v1h-5zM86,67h31v1h-31zM140,67h5v1h-5zM148,67h1v1h-1zM87,68h16v1h-16zM106,68h14v1h-14zM133,68h11v1h-11zM31,69h2v1h-2zM37,69h1v1h-1zM89,69h14v1h-14zM106,69h15v1h-15zM132,69h12v1h-12zM149,69h1v1h-1zM31,70h8v1h-8zM89,70h4v1h-4zM95,70h8v1h-8zM106,70h16v1h-16zM132,70h13v1h-13zM149,70h1v1h-1zM30,71h9v1h-9zM89,71h4v1h-4zM96,71h8v1h-8zM106,71h17v1h-17zM132,71h13v1h-13zM149,71h1v1h-1zM30,72h3v1h-3zM36,72h3v1h-3zM90,72h4v1h-4zM101,72h2v1h-2zM107,72h38v1h-38zM31,73h2v1h-2zM36,73h3v1h-3zM90,73h4v1h-4zM101,73h2v1h-2zM107,73h38v1h-38zM31,74h2v1h-2zM36,74h3v1h-3zM90,74h5v1h-5zM96,74h2v1h-2zM101,74h2v1h-2zM107,74h38v1h-38zM150,74h1v1h-1zM11,75h2v1h-2zM31,75h2v1h-2zM36,75h3v1h-3zM89,75h9v1h-9zM100,75h2v1h-2zM107,75h38v1h-38zM150,75h1v1h-1zM12,76h1v1h-1zM31,76h8v1h-8zM89,76h13v1h-13zM107,76h27v1h-27zM145,76h1v1h-1zM150,76h1v1h-1zM13,77h1v1h-1zM31,77h8v1h-8zM89,77h13v1h-13zM107,77h27v1h-27zM146,77h1v1h-1zM150,77h1v1h-1zM13,78h2v1h-2zM88,78h15v1h-15zM106,78h28v1h-28zM146,78h2v1h-2zM150,78h1v1h-1zM14,79h2v1h-2zM88,79h46v1h-46zM146,79h5v1h-5zM15,80h2v1h-2zM86,80h48v1h-48zM146,80h5v1h-5zM17,81h1v1h-1zM83,81h6v1h-6zM91,81h8v1h-8zM100,81h34v1h-34zM146,81h4v1h-4zM17,82h3v1h-3zM83,82h7v1h-7zM91,82h3v1h-3zM101,82h33v1h-33zM146,82h4v1h-4zM18,83h4v1h-4zM83,83h10v1h-10zM101,83h33v1h-33zM146,83h3v1h-3zM19,84h5v1h-5zM83,84h9v1h-9zM100,84h34v1h-34zM146,84h4v1h-4zM21,85h3v1h-3zM83,85h9v1h-9zM101,85h33v1h-33zM146,85h4v1h-4zM23,86h1v1h-1zM82,86h10v1h-10zM101,86h33v1h-33zM146,86h4v1h-4zM22,87h2v1h-2zM75,87h2v1h-2zM82,87h11v1h-11zM101,87h33v1h-33zM146,87h3v1h-3zM21,88h2v1h-2zM82,88h51v1h-51zM145,88h4v1h-4zM20,89h2v1h-2zM82,89h22v1h-22zM105,89h18v1h-18zM126,89h7v1h-7zM145,89h1v1h-1zM148,89h1v1h-1zM82,90h39v1h-39zM126,90h7v1h-7zM143,90h2v1h-2zM82,91h15v1h-15zM101,91h18v1h-18zM125,91h9v1h-9zM142,91h1v1h-1zM147,91h1v1h-1zM19,92h1v1h-1zM81,92h15v1h-15zM100,92h20v1h-20zM125,92h10v1h-10zM141,92h2v1h-2zM146,92h1v1h-1zM19,93h1v1h-1zM79,93h41v1h-41zM123,93h18v1h-18zM145,93h2v1h-2zM19,94h1v1h-1zM76,94h45v1h-45zM122,94h18v1h-18zM144,94h2v1h-2zM19,95h1v1h-1zM75,95h15v1h-15zM92,95h24v1h-24zM118,95h17v1h-17zM144,95h2v1h-2zM19,96h1v1h-1zM74,96h16v1h-16zM92,96h24v1h-24zM123,96h2v1h-2zM143,96h2v1h-2zM20,97h1v1h-1zM71,97h44v1h-44zM142,97h2v1h-2zM21,98h1v1h-1zM70,98h45v1h-45zM142,98h2v1h-2zM21,99h1v1h-1zM70,99h12v1h-12zM88,99h27v1h-27zM141,99h2v1h-2zM64,100h5v1h-5zM70,100h4v1h-4zM76,100h5v1h-5zM88,100h27v1h-27zM141,100h1v1h-1zM22,101h1v1h-1zM57,101h17v1h-17zM76,101h5v1h-5zM88,101h28v1h-28zM140,101h2v1h-2zM23,102h1v1h-1zM57,102h24v1h-24zM89,102h28v1h-28zM139,102h2v1h-2zM24,103h1v1h-1zM58,103h23v1h-23zM89,103h20v1h-20zM110,103h6v1h-6zM139,103h1v1h-1zM24,104h1v1h-1zM58,104h11v1h-11zM72,104h2v1h-2zM75,104h7v1h-7zM88,104h21v1h-21zM111,104h3v1h-3zM138,104h2v1h-2zM25,105h1v1h-1zM58,105h11v1h-11zM76,105h34v1h-34zM112,105h2v1h-2zM137,105h2v1h-2zM26,106h2v1h-2zM59,106h10v1h-10zM76,106h34v1h-34zM112,106h2v1h-2zM136,106h2v1h-2zM27,107h3v1h-3zM59,107h11v1h-11zM76,107h35v1h-35zM112,107h2v1h-2zM135,107h2v1h-2zM29,108h1v1h-1zM59,108h12v1h-12zM76,108h14v1h-14zM92,108h22v1h-22zM135,108h1v1h-1zM60,109h20v1h-20zM94,109h19v1h-19zM61,110h16v1h-16zM95,110h18v1h-18zM61,111h15v1h-15zM98,111h14v1h-14zM63,112h11v1h-11zM99,112h13v1h-13zM66,113h6v1h-6zM101,113h9v1h-9zM102,114h7v1h-7zM104,115h4v1h-4zM105,116h2v1h-2zM23,118h1v1h-1zM24,120h1v1h-1zM61,120h4v1h-4zM60,121h1v1h-1zM60,122h1v1h-1zM65,122h1v1h-1zM28,123h3v1h-3zM38,123h1v1h-1zM60,123h1v1h-1zM65,123h1v1h-1zM28,124h1v1h-1zM39,124h1v1h-1zM60,124h1v1h-1zM65,124h1v1h-1zM39,125h1v1h-1zM60,125h6v1h-6zM39,126h1v1h-1zM38,129h1v1h-1zM61,129h10v1h-10zM29,130h8v1h-8zM60,130h2v1h-2zM71,130h1v1h-1zM60,131h2v1h-2zM56,132h1v1h-1zM61,132h1v1h-1zM61,133h1v1h-1zM98,133h2v1h-2zM61,134h1v1h-1zM72,134h1v1h-1zM95,134h2v1h-2zM99,134h5v1h-5zM61,135h1v1h-1zM72,135h1v1h-1zM95,135h1v1h-1zM103,135h1v1h-1zM61,136h1v1h-1zM72,136h1v1h-1zM95,136h1v1h-1zM103,136h1v1h-1zM61,137h1v1h-1zM65,137h5v1h-5zM71,137h1v1h-1zM95,137h1v1h-1zM61,138h1v1h-1zM64,138h1v1h-1zM95,138h1v1h-1zM61,139h3v1h-3zM95,139h1v1h-1zM95,140h1v1h-1zM95,141h1v1h-1zM103,141h1v1h-1zM96,142h4v1h-4zM49,144h4v1h-4zM27,145h1v1h-1zM48,145h1v1h-1zM52,145h1v1h-1zM27,146h1v1h-1zM48,146h1v1h-1zM52,146h1v1h-1zM48,147h1v1h-1zM52,147h1v1h-1zM49,148h3v1h-3zM50,151h3v1h-3zM53,152h2v1h-2zM53,153h5v1h-5zM53,154h7v1h-7zM84,154h3v1h-3zM54,155h7v1h-7zM84,155h1v1h-1zM87,155h1v1h-1zM40,156h1v1h-1zM57,156h1v1h-1zM84,156h1v1h-1zM87,156h1v1h-1zM37,157h2v1h-2zM84,157h1v1h-1zM86,157h2v1h-2zM35,158h3v1h-3zM67,158h1v1h-1zM33,159h2v1h-2zM69,159h2v1h-2zM72,160h1v1h-1zM30,161h1v1h-1zM88,162h1v1h-1zM90,162h3v1h-3zM107,162h1v1h-1zM88,163h1v1h-1zM92,163h1v1h-1zM107,163h1v1h-1zM79,164h3v1h-3zM88,164h1v1h-1zM107,164h1v1h-1zM79,165h6v1h-6zM88,165h1v1h-1zM92,165h1v1h-1zM107,165h1v1h-1zM80,166h12v1h-12zM107,166h1v1h-1zM89,167h3v1h-3zM91,168h1v1h-1zM107,168h1v1h-1zM87,180h1v1h-1zM87,181h3v1h-3zM92,181h1v1h-1zM87,182h1v1h-1zM93,182h1v1h-1zM87,183h1v1h-1zM93,183h1v1h-1zM93,184h1v1h-1zM93,185h1v1h-1zM90,186h1v1h-1z"/>
<path fill="#fa8a6a" d="M26,32h1v1h-1zM25,33h1v1h-1zM24,34h1v1h-1zM54,48h1v1h-1zM54,49h1v1h-1zM54,50h1v1h-1zM28,57h6v1h-6zM28,58h2v1h-2zM31,58h4v1h-4zM28,59h7v1h-7zM76,59h2v1h-2zM28,60h8v1h-8zM61,60h18v1h-18zM25,61h12v1h-12zM52,61h27v1h-27zM25,62h16v1h-16zM50,62h3v1h-3zM56,62h23v1h-23zM25,63h16v1h-16zM50,63h3v1h-3zM57,63h22v1h-22zM25,64h17v1h-17zM49,64h4v1h-4zM57,64h22v1h-22zM15,65h38v1h-38zM58,65h13v1h-13zM72,65h7v1h-7zM15,66h1v1h-1zM25,66h27v1h-27zM58,66h12v1h-12zM71,66h8v1h-8zM26,67h26v1h-26zM59,67h10v1h-10zM71,67h8v1h-8zM27,68h3v1h-3zM33,68h4v1h-4zM38,68h41v1h-41zM145,68h3v1h-3zM27,69h3v1h-3zM40,69h39v1h-39zM145,69h3v1h-3zM27,70h3v1h-3zM40,70h38v1h-38zM145,70h3v1h-3zM14,71h1v1h-1zM27,71h2v1h-2zM40,71h13v1h-13zM58,71h20v1h-20zM145,71h3v1h-3zM14,72h1v1h-1zM26,72h2v1h-2zM40,72h12v1h-12zM58,72h20v1h-20zM145,72h3v1h-3zM13,73h1v1h-1zM25,73h4v1h-4zM40,73h13v1h-13zM58,73h20v1h-20zM145,73h4v1h-4zM13,74h1v1h-1zM25,74h5v1h-5zM40,74h9v1h-9zM50,74h3v1h-3zM58,74h19v1h-19zM146,74h3v1h-3zM13,75h1v1h-1zM25,75h5v1h-5zM40,75h36v1h-36zM146,75h3v1h-3zM14,76h1v1h-1zM23,76h7v1h-7zM40,76h35v1h-35zM147,76h2v1h-2zM15,77h1v1h-1zM22,77h8v1h-8zM40,77h34v1h-34zM148,77h1v1h-1zM16,78h16v1h-16zM36,78h13v1h-13zM51,78h9v1h-9zM62,78h11v1h-11zM18,79h21v1h-21zM42,79h7v1h-7zM51,79h21v1h-21zM18,80h19v1h-19zM43,80h27v1h-27zM20,81h3v1h-3zM25,81h12v1h-12zM43,81h25v1h-25zM24,82h12v1h-12zM43,82h23v1h-23zM25,83h11v1h-11zM43,83h10v1h-10zM64,83h1v1h-1zM25,84h1v1h-1zM33,84h2v1h-2zM43,84h10v1h-10zM25,85h1v1h-1zM33,85h2v1h-2zM43,85h10v1h-10zM34,86h1v1h-1zM43,86h11v1h-11zM24,87h1v1h-1zM43,87h11v1h-11zM24,88h1v1h-1zM43,88h11v1h-11zM23,89h1v1h-1zM43,89h11v1h-11zM22,90h1v1h-1zM34,90h2v1h-2zM42,90h12v1h-12zM21,91h1v1h-1zM42,91h12v1h-12zM21,92h1v1h-1zM33,92h1v1h-1zM42,92h12v1h-12zM21,93h1v1h-1zM33,93h2v1h-2zM39,93h15v1h-15zM66,93h2v1h-2zM21,94h1v1h-1zM32,94h22v1h-22zM66,94h2v1h-2zM21,95h1v1h-1zM32,95h22v1h-22zM21,96h2v1h-2zM32,96h22v1h-22zM117,96h2v1h-2zM135,96h5v1h-5zM22,97h1v1h-1zM32,97h22v1h-22zM116,97h4v1h-4zM135,97h6v1h-6zM22,98h2v1h-2zM32,98h23v1h-23zM116,98h4v1h-4zM128,98h2v1h-2zM131,98h1v1h-1zM134,98h7v1h-7zM23,99h1v1h-1zM32,99h23v1h-23zM117,99h1v1h-1zM124,99h16v1h-16zM23,100h1v1h-1zM32,100h23v1h-23zM124,100h4v1h-4zM129,100h10v1h-10zM24,101h1v1h-1zM32,101h23v1h-23zM123,101h2v1h-2zM129,101h10v1h-10zM32,102h23v1h-23zM123,102h4v1h-4zM129,102h4v1h-4zM136,102h2v1h-2zM25,103h1v1h-1zM32,103h24v1h-24zM122,103h10v1h-10zM32,104h24v1h-24zM123,104h8v1h-8zM28,105h1v1h-1zM30,105h27v1h-27zM116,105h5v1h-5zM124,105h7v1h-7zM30,106h25v1h-25zM115,106h6v1h-6zM125,106h5v1h-5zM34,107h21v1h-21zM115,107h6v1h-6zM124,107h6v1h-6zM36,108h12v1h-12zM49,108h5v1h-5zM119,108h11v1h-11zM30,109h24v1h-24zM116,109h1v1h-1zM118,109h12v1h-12zM29,110h25v1h-25zM115,110h15v1h-15zM28,111h26v1h-26zM91,111h2v1h-2zM115,111h16v1h-16zM27,112h27v1h-27zM91,112h2v1h-2zM115,112h13v1h-13zM129,112h1v1h-1zM26,113h28v1h-28zM91,113h3v1h-3zM117,113h11v1h-11zM26,114h28v1h-28zM78,114h1v1h-1zM92,114h2v1h-2zM97,114h1v1h-1zM117,114h11v1h-11zM25,115h10v1h-10zM36,115h5v1h-5zM43,115h15v1h-15zM93,115h1v1h-1zM98,115h1v1h-1zM119,115h4v1h-4zM124,115h3v1h-3zM25,116h16v1h-16zM43,116h16v1h-16zM88,116h1v1h-1zM25,117h30v1h-30zM57,117h2v1h-2zM82,117h1v1h-1zM88,117h1v1h-1zM120,117h3v1h-3zM25,118h30v1h-30zM81,118h2v1h-2zM88,118h1v1h-1zM110,118h1v1h-1zM114,118h1v1h-1zM120,118h3v1h-3zM25,119h30v1h-30zM80,119h4v1h-4zM87,119h3v1h-3zM109,119h3v1h-3zM113,119h10v1h-10zM25,120h30v1h-30zM80,120h4v1h-4zM87,120h2v1h-2zM109,120h14v1h-14zM26,121h29v1h-29zM81,121h2v1h-2zM87,121h2v1h-2zM95,121h1v1h-1zM107,121h16v1h-16zM27,122h1v1h-1zM39,122h16v1h-16zM78,122h5v1h-5zM86,122h3v1h-3zM95,122h1v1h-1zM107,122h15v1h-15zM26,123h1v1h-1zM40,123h16v1h-16zM77,123h11v1h-11zM109,123h13v1h-13zM26,124h1v1h-1zM40,124h15v1h-15zM72,124h15v1h-15zM110,124h11v1h-11zM40,125h15v1h-15zM72,125h15v1h-15zM110,125h11v1h-11zM40,126h15v1h-15zM72,126h15v1h-15zM110,126h11v1h-11zM40,127h15v1h-15zM72,127h15v1h-15zM110,127h10v1h-10zM40,128h15v1h-15zM72,128h16v1h-16zM111,128h8v1h-8zM40,129h14v1h-14zM72,129h4v1h-4zM84,129h3v1h-3zM111,129h8v1h-8zM40,130h14v1h-14zM72,130h4v1h-4zM85,130h2v1h-2zM110,130h3v1h-3zM114,130h4v1h-4zM27,131h27v1h-27zM73,131h5v1h-5zM85,131h3v1h-3zM110,131h3v1h-3zM114,131h3v1h-3zM27,132h1v1h-1zM45,132h9v1h-9zM73,132h6v1h-6zM86,132h2v1h-2zM109,132h6v1h-6zM27,133h1v1h-1zM45,133h8v1h-8zM74,133h5v1h-5zM85,133h3v1h-3zM109,133h6v1h-6zM45,134h9v1h-9zM75,134h4v1h-4zM85,134h2v1h-2zM109,134h5v1h-5zM27,135h1v1h-1zM45,135h10v1h-10zM74,135h12v1h-12zM109,135h4v1h-4zM27,136h1v1h-1zM45,136h10v1h-10zM74,136h11v1h-11zM109,136h2v1h-2zM27,137h1v1h-1zM45,137h10v1h-10zM73,137h12v1h-12zM27,138h1v1h-1zM45,138h10v1h-10zM66,138h2v1h-2zM72,138h12v1h-12zM46,139h9v1h-9zM65,139h18v1h-18zM46,140h6v1h-6zM65,140h18v1h-18zM46,141h6v1h-6zM64,141h20v1h-20zM46,142h6v1h-6zM65,142h19v1h-19zM105,142h1v1h-1zM46,143h3v1h-3zM64,143h2v1h-2zM67,143h16v1h-16zM98,143h8v1h-8zM28,144h1v1h-1zM45,144h3v1h-3zM64,144h19v1h-19zM94,144h12v1h-12zM28,145h20v1h-20zM65,145h18v1h-18zM90,145h13v1h-13zM105,145h1v1h-1zM28,146h20v1h-20zM65,146h17v1h-17zM90,146h11v1h-11zM28,147h20v1h-20zM65,147h17v1h-17zM91,147h4v1h-4zM28,148h20v1h-20zM65,148h17v1h-17zM91,148h4v1h-4zM29,149h20v1h-20zM64,149h10v1h-10zM76,149h6v1h-6zM90,149h5v1h-5zM29,150h20v1h-20zM65,150h2v1h-2zM78,150h3v1h-3zM85,150h3v1h-3zM89,150h6v1h-6zM29,151h19v1h-19zM78,151h10v1h-10zM89,151h6v1h-6zM29,152h16v1h-16zM64,152h2v1h-2zM77,152h11v1h-11zM90,152h5v1h-5zM29,153h8v1h-8zM38,153h6v1h-6zM65,153h1v1h-1zM72,153h3v1h-3zM76,153h8v1h-8zM87,153h1v1h-1zM90,153h5v1h-5zM106,153h1v1h-1zM29,154h13v1h-13zM65,154h1v1h-1zM72,154h11v1h-11zM90,154h5v1h-5zM106,154h1v1h-1zM30,155h9v1h-9zM75,155h8v1h-8zM90,155h6v1h-6zM106,155h1v1h-1zM29,156h8v1h-8zM75,156h8v1h-8zM89,156h6v1h-6zM106,156h1v1h-1zM29,157h6v1h-6zM75,157h5v1h-5zM89,157h6v1h-6zM106,157h1v1h-1zM30,158h3v1h-3zM90,158h6v1h-6zM30,159h2v1h-2zM90,159h5v1h-5zM77,160h1v1h-1zM90,160h5v1h-5zM106,160h1v1h-1zM90,161h5v1h-5zM106,161h1v1h-1zM94,162h2v1h-2zM106,162h1v1h-1zM94,163h3v1h-3zM106,163h1v1h-1zM94,164h3v1h-3zM106,164h1v1h-1zM94,165h4v1h-4zM106,165h1v1h-1zM94,166h1v1h-1zM97,166h1v1h-1zM94,167h5v1h-5zM106,167h1v1h-1zM94,168h5v1h-5zM106,168h1v1h-1zM94,169h5v1h-5zM106,169h1v1h-1zM94,170h5v1h-5zM93,171h6v1h-6zM92,172h7v1h-7zM91,173h8v1h-8zM91,174h8v1h-8zM105,174h1v1h-1zM90,175h9v1h-9zM105,175h1v1h-1zM89,176h11v1h-11zM105,176h1v1h-1zM88,177h12v1h-12zM88,178h12v1h-12zM88,179h12v1h-12zM93,180h6v1h-6zM94,181h5v1h-5zM104,181h1v1h-1zM94,182h5v1h-5zM104,182h1v1h-1zM95,183h4v1h-4zM103,183h2v1h-2zM95,184h4v1h-4zM103,184h2v1h-2zM95,185h5v1h-5zM102,185h3v1h-3zM94,186h6v1h-6zM102,186h3v1h-3zM91,187h9v1h-9zM101,187h3v1h-3zM91,188h12v1h-12zM92,189h10v1h-10zM93,190h8v1h-8zM95,191h5v1h-5z"/>
<path fill="#f5543a" d="M30,58h1v1h-1zM53,62h3v1h-3zM53,63h4v1h-4zM53,64h4v1h-4zM53,65h5v1h-5zM16,66h9v1h-9zM52,66h6v1h-6zM15,67h11v1h-11zM52,67h7v1h-7zM15,68h7v1h-7zM25,68h2v1h-2zM15,69h7v1h-7zM25,69h2v1h-2zM15,70h1v1h-1zM20,70h2v1h-2zM25,70h2v1h-2zM15,71h1v1h-1zM20,71h7v1h-7zM53,71h5v1h-5zM15,72h1v1h-1zM20,72h6v1h-6zM52,72h6v1h-6zM14,73h2v1h-2zM19,73h6v1h-6zM53,73h5v1h-5zM14,74h2v1h-2zM17,74h8v1h-8zM49,74h1v1h-1zM53,74h5v1h-5zM14,75h11v1h-11zM15,76h8v1h-8zM16,77h6v1h-6zM49,78h2v1h-2zM60,78h2v1h-2zM39,79h3v1h-3zM49,79h2v1h-2zM37,80h6v1h-6zM37,81h6v1h-6zM36,82h7v1h-7zM36,83h7v1h-7zM26,84h7v1h-7zM35,84h8v1h-8zM26,85h7v1h-7zM35,85h8v1h-8zM25,86h9v1h-9zM35,86h8v1h-8zM25,87h18v1h-18zM25,88h18v1h-18zM24,89h19v1h-19zM23,90h11v1h-11zM36,90h6v1h-6zM22,91h20v1h-20zM22,92h11v1h-11zM34,92h8v1h-8zM22,93h11v1h-11zM35,93h4v1h-4zM22,94h10v1h-10zM22,95h10v1h-10zM23,96h9v1h-9zM23,97h9v1h-9zM24,98h8v1h-8zM24,99h8v1h-8zM24,100h8v1h-8zM128,100h1v1h-1zM25,101h7v1h-7zM125,101h4v1h-4zM25,102h1v1h-1zM28,102h4v1h-4zM127,102h2v1h-2zM29,103h3v1h-3zM26,104h1v1h-1zM29,104h3v1h-3zM29,105h1v1h-1zM48,108h1v1h-1zM41,115h2v1h-2zM41,116h2v1h-2zM76,129h8v1h-8zM76,130h9v1h-9zM78,131h7v1h-7zM28,132h17v1h-17zM79,132h7v1h-7zM28,133h17v1h-17zM79,133h6v1h-6zM28,134h17v1h-17zM79,134h6v1h-6zM28,135h5v1h-5zM39,135h6v1h-6zM28,136h4v1h-4zM40,136h5v1h-5zM28,137h4v1h-4zM40,137h5v1h-5zM28,138h17v1h-17zM28,139h2v1h-2zM32,139h14v1h-14zM28,140h2v1h-2zM33,140h13v1h-13zM28,141h3v1h-3zM32,141h12v1h-12zM45,141h1v1h-1zM28,142h18v1h-18zM28,143h18v1h-18zM66,143h1v1h-1zM29,144h16v1h-16zM103,145h2v1h-2zM101,146h2v1h-2zM105,146h1v1h-1zM95,147h7v1h-7zM105,147h1v1h-1zM95,148h6v1h-6zM105,148h1v1h-1zM95,149h5v1h-5zM105,149h1v1h-1zM95,150h5v1h-5zM95,151h3v1h-3zM95,152h3v1h-3zM37,153h1v1h-1zM95,153h3v1h-3zM95,154h2v1h-2zM96,155h1v1h-1zM95,156h2v1h-2zM95,157h3v1h-3zM96,158h2v1h-2zM105,158h1v1h-1zM95,159h4v1h-4zM105,159h1v1h-1zM95,160h4v1h-4zM95,161h5v1h-5zM96,162h5v1h-5zM97,163h5v1h-5zM97,164h5v1h-5zM98,165h5v1h-5zM98,166h6v1h-6zM106,166h1v1h-1zM99,167h6v1h-6zM99,168h7v1h-7zM99,169h3v1h-3zM105,169h1v1h-1zM99,170h2v1h-2zM105,170h1v1h-1zM99,171h2v1h-2zM105,171h1v1h-1zM99,172h2v1h-2zM105,172h1v1h-1zM99,173h2v1h-2zM105,173h1v1h-1zM99,174h2v1h-2zM99,175h2v1h-2zM100,176h1v1h-1zM100,177h2v1h-2zM100,178h2v1h-2zM104,178h1v1h-1zM100,179h2v1h-2zM104,179h1v1h-1zM99,180h6v1h-6zM99,181h5v1h-5zM99,182h5v1h-5zM99,183h4v1h-4zM99,184h4v1h-4zM100,185h2v1h-2zM100,186h2v1h-2zM100,187h1v1h-1z"/>
<path fill="#e60000" d="M22,68h3v1h-3zM22,69h3v1h-3zM16,70h4v1h-4zM22,70h3v1h-3zM16,71h4v1h-4zM16,72h4v1h-4zM16,73h3v1h-3zM16,74h1v1h-1zM26,102h2v1h-2zM26,103h3v1h-3zM27,104h2v1h-2zM33,135h6v1h-6zM32,136h8v1h-8zM32,137h8v1h-8zM30,139h2v1h-2zM30,140h3v1h-3zM31,141h1v1h-1zM44,141h1v1h-1zM103,146h2v1h-2zM102,147h3v1h-3zM101,148h4v1h-4zM100,149h5v1h-5zM100,150h6v1h-6zM98,151h8v1h-8zM98,152h8v1h-8zM98,153h8v1h-8zM97,154h9v1h-9zM97,155h9v1h-9zM97,156h9v1h-9zM98,157h8v1h-8zM98,158h7v1h-7zM99,159h6v1h-6zM99,160h7v1h-7zM100,161h6v1h-6zM101,162h5v1h-5zM102,163h4v1h-4zM102,164h4v1h-4zM103,165h3v1h-3zM104,166h2v1h-2zM105,167h1v1h-1zM102,169h3v1h-3zM101,170h4v1h-4zM101,171h4v1h-4zM101,172h4v1h-4zM101,173h4v1h-4zM101,174h4v1h-4zM101,175h4v1h-4zM101,176h4v1h-4zM102,177h3v1h-3zM102,178h2v1h-2zM102,179h2v1h-2z"/>
</g><g class="ml"><use href="#k0"/><use href="#k1"/><use href="#k2"/><use href="#k3"/><use href="#k4"/></g></g>
<use href="#b" class="sb"/><use href="#o" class="ol"/><use href="#t" class="tk"/>
</g>
<g transform="translate(512,8) scale(0.9954,0.9925)">
<g clip-path="url(#c)" class="mr"><rect width="512" height="680" fill="#ffff00"/><use href="#k0" fill="#ffff00"/><use href="#k1" fill="#fcd37f"/><use href="#k2" fill="#ffaa00"/><use href="#k3" fill="#e60000"/><use href="#k4" fill="#ffffff"/></g>
<use href="#b" class="sb"/><use href="#o" class="ol"/><use href="#t" class="tk"/>
</g>
<rect x="375" y="419" width="137" height="281" fill="#fff"/>
<text x="389.5" y="451" class="t1">Anomalia (mm)</text>
<rect x="406.5" y="464.0" width="33" height="16.5" fill="#e60000" class="sw"/>
<text x="446" y="476.9" class="lb">&lt; -80</text>
<rect x="406.5" y="486.5" width="33" height="16.5" fill="#f5543a" class="sw"/>
<text x="446" y="499.4" class="lb">-80 - 60</text>
<rect x="406.5" y="509.0" width="33" height="16.5" fill="#fa8a6a" class="sw"/>
<text x="446" y="521.9" class="lb">-60 - 40</text>
<rect x="406.5" y="531.5" width="33" height="16.5" fill="#fbb9a3" class="sw"/>
<text x="446" y="544.4" class="lb">-40 - -20</text>
<rect x="406.5" y="554.0" width="33" height="16.5" fill="#fde0d6" class="sw"/>
<text x="446" y="566.9" class="lb">-20 - -10</text>
<rect x="406.5" y="576.5" width="33" height="16.5" fill="#ffffff" class="sw"/>
<text x="446" y="589.4" class="lb">-10 - 10</text>
<rect x="406.5" y="599.0" width="33" height="16.5" fill="#bcc6ee" class="sw"/>
<text x="446" y="611.9" class="lb">10 - 20</text>
<rect x="406.5" y="621.5" width="33" height="16.5" fill="#94a5e6" class="sw"/>
<text x="446" y="634.4" class="lb">20 - 40</text>
<rect x="406.5" y="644.0" width="33" height="16.5" fill="#6a84dd" class="sw"/>
<text x="446" y="656.9" class="lb">40 - 60</text>
<rect x="406.5" y="666.5" width="33" height="16.5" fill="#2f5fd0" class="sw"/>
<text x="446" y="679.4" class="lb">&gt; 60</text>
<text x="881.5" y="536" class="t2">Índice Integrado</text>
<text x="904" y="555.5" class="t2">de seca (IIS)</text>
<rect x="884" y="569.0" width="32.5" height="16" fill="#e60000" class="sr"/>
<text x="921.3" y="581.5" class="lb">Seca Extrema</text>
<rect x="884" y="591.2" width="32.5" height="16" fill="#ffaa00" class="sr"/>
<text x="921.3" y="603.7" class="lb">Seca Severa</text>
<rect x="884" y="613.4" width="32.5" height="16" fill="#fcd37f" class="sr"/>
<text x="921.3" y="625.9" class="lb">Seca Moderada</text>
<rect x="884" y="635.6" width="32.5" height="16" fill="#ffff00" class="sr"/>
<text x="921.3" y="648.1" class="lb">Seca Fraca</text>
<rect x="884" y="657.8" width="32.5" height="16" fill="#ffffff" class="sr"/>
<text x="921.3" y="670.3" class="lb">Normal</text>
</svg>
</body></html>
